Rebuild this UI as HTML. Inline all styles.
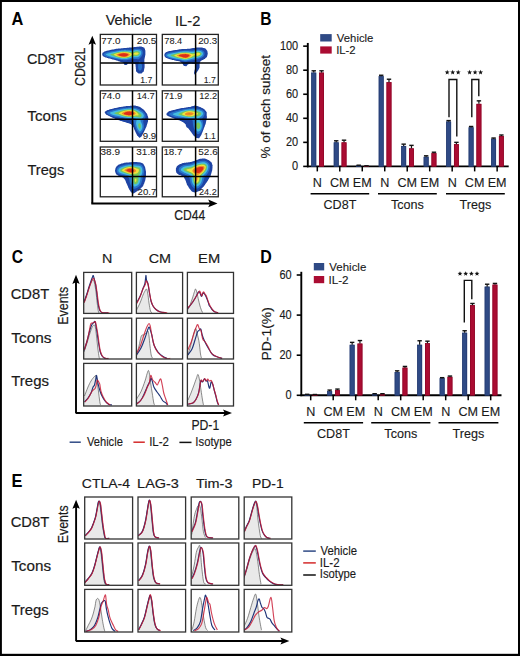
<!DOCTYPE html>
<html><head><meta charset="utf-8"><style>
html,body{margin:0;padding:0;background:#fff;overflow:hidden;}
svg{display:block;}
text{font-family:"Liberation Sans", sans-serif;}
</style></head><body>
<svg width="520" height="656" viewBox="0 0 520 656">
<rect x="0" y="0" width="520" height="656" fill="#000"/>
<rect x="1.9" y="2" width="516.1" height="651.8" fill="#fff"/>
<text x="11.49" y="24.80" font-size="17.73" font-weight="bold" fill="#000" textLength="11.84" lengthAdjust="spacingAndGlyphs">A</text>
<text x="105.64" y="25.40" font-size="15.00" font-weight="normal" fill="#1a1a1a" stroke="#1a1a1a" stroke-width="0.2" textLength="46.80" lengthAdjust="spacingAndGlyphs">Vehicle</text>
<text x="175.05" y="25.50" font-size="15.00" font-weight="normal" fill="#1a1a1a" stroke="#1a1a1a" stroke-width="0.2" textLength="25.29" lengthAdjust="spacingAndGlyphs">IL-2</text>
<text x="26.97" y="63.90" font-size="15.50" font-weight="normal" fill="#1a1a1a" stroke="#1a1a1a" stroke-width="0.2" textLength="37.46" lengthAdjust="spacingAndGlyphs">CD8T</text>
<text x="27.37" y="121.30" font-size="15.50" font-weight="normal" fill="#1a1a1a" stroke="#1a1a1a" stroke-width="0.2" textLength="39.55" lengthAdjust="spacingAndGlyphs">Tcons</text>
<text x="27.48" y="175.30" font-size="15.30" font-weight="normal" fill="#1a1a1a" stroke="#1a1a1a" stroke-width="0.2" textLength="36.84" lengthAdjust="spacingAndGlyphs">Tregs</text>
<text transform="translate(84.60,86.03) rotate(-90)" x="0" y="0" font-size="15.00" font-weight="normal" fill="#1a1a1a" stroke="#1a1a1a" stroke-width="0.2" textLength="38.54" lengthAdjust="spacingAndGlyphs">CD62L</text>
<text x="174.18" y="220.30" font-size="14.00" font-weight="normal" fill="#1a1a1a" stroke="#1a1a1a" stroke-width="0.18000000000000002" textLength="30.97" lengthAdjust="spacingAndGlyphs">CD44</text>
<line x1="92.3" y1="203.4" x2="92.3" y2="42" stroke="#000" stroke-width="2"/>
<path d="M92.3,35.8 L96,44.8 L92.3,43 L88.5,44.8 Z" fill="#000"/>
<line x1="91.3" y1="203.4" x2="211" y2="203.4" stroke="#000" stroke-width="2"/>
<path d="M217.5,203.4 L208.2,199.6 L210,203.4 L208.2,207.2 Z" fill="#000"/>
<text x="260.16" y="25.10" font-size="17.73" font-weight="bold" fill="#000" textLength="11.25" lengthAdjust="spacingAndGlyphs">B</text>
<line x1="307.8" y1="42.95" x2="307.8" y2="167.30" stroke="#000" stroke-width="1.9"/>
<line x1="303.20" y1="166.40" x2="307.8" y2="166.40" stroke="#000" stroke-width="1.6"/>
<text x="292.12" y="170.46" font-size="12.20" font-weight="normal" fill="#1a1a1a" stroke="#1a1a1a" stroke-width="0.13499999999999998" textLength="6.11" lengthAdjust="spacingAndGlyphs">0</text>
<line x1="303.20" y1="142.35" x2="307.8" y2="142.35" stroke="#000" stroke-width="1.6"/>
<text x="286.02" y="146.41" font-size="12.20" font-weight="normal" fill="#1a1a1a" stroke="#1a1a1a" stroke-width="0.13499999999999998" textLength="12.21" lengthAdjust="spacingAndGlyphs">20</text>
<line x1="303.20" y1="118.30" x2="307.8" y2="118.30" stroke="#000" stroke-width="1.6"/>
<text x="286.02" y="122.36" font-size="12.20" font-weight="normal" fill="#1a1a1a" stroke="#1a1a1a" stroke-width="0.13499999999999998" textLength="12.21" lengthAdjust="spacingAndGlyphs">40</text>
<line x1="303.20" y1="94.25" x2="307.8" y2="94.25" stroke="#000" stroke-width="1.6"/>
<text x="286.02" y="98.31" font-size="12.20" font-weight="normal" fill="#1a1a1a" stroke="#1a1a1a" stroke-width="0.13499999999999998" textLength="12.21" lengthAdjust="spacingAndGlyphs">60</text>
<line x1="303.20" y1="70.20" x2="307.8" y2="70.20" stroke="#000" stroke-width="1.6"/>
<text x="286.02" y="74.26" font-size="12.20" font-weight="normal" fill="#1a1a1a" stroke="#1a1a1a" stroke-width="0.13499999999999998" textLength="12.21" lengthAdjust="spacingAndGlyphs">80</text>
<line x1="303.20" y1="46.15" x2="307.8" y2="46.15" stroke="#000" stroke-width="1.6"/>
<text x="279.91" y="50.21" font-size="12.20" font-weight="normal" fill="#1a1a1a" stroke="#1a1a1a" stroke-width="0.13499999999999998" textLength="18.32" lengthAdjust="spacingAndGlyphs">100</text>
<line x1="306.90" y1="166.40" x2="508.7" y2="166.40" stroke="#000" stroke-width="1.9"/>
<line x1="317.30" y1="166.40" x2="317.30" y2="171.40" stroke="#000" stroke-width="1.5"/>
<line x1="339.78" y1="166.40" x2="339.78" y2="171.40" stroke="#000" stroke-width="1.5"/>
<line x1="362.26" y1="166.40" x2="362.26" y2="171.40" stroke="#000" stroke-width="1.5"/>
<line x1="384.74" y1="166.40" x2="384.74" y2="171.40" stroke="#000" stroke-width="1.5"/>
<line x1="407.22" y1="166.40" x2="407.22" y2="171.40" stroke="#000" stroke-width="1.5"/>
<line x1="429.70" y1="166.40" x2="429.70" y2="171.40" stroke="#000" stroke-width="1.5"/>
<line x1="452.18" y1="166.40" x2="452.18" y2="171.40" stroke="#000" stroke-width="1.5"/>
<line x1="474.66" y1="166.40" x2="474.66" y2="171.40" stroke="#000" stroke-width="1.5"/>
<line x1="497.14" y1="166.40" x2="497.14" y2="171.40" stroke="#000" stroke-width="1.5"/>
<rect x="311.30" y="72.61" width="4.9" height="93.79" fill="#2f4a85"/>
<rect x="311.65" y="72.96" width="4.2" height="93.44" fill="none" stroke="#233a6e" stroke-width="0.7"/>
<line x1="313.75" y1="72.61" x2="313.75" y2="70.80" stroke="#111" stroke-width="1.2"/>
<line x1="311.55" y1="70.80" x2="315.95" y2="70.80" stroke="#111" stroke-width="1.4"/>
<rect x="319.10" y="72.61" width="4.9" height="93.79" fill="#aa0c32"/>
<rect x="319.45" y="72.96" width="4.2" height="93.44" fill="none" stroke="#8a0626" stroke-width="0.7"/>
<line x1="321.55" y1="72.61" x2="321.55" y2="70.80" stroke="#111" stroke-width="1.2"/>
<line x1="319.35" y1="70.80" x2="323.75" y2="70.80" stroke="#111" stroke-width="1.4"/>
<rect x="333.78" y="142.35" width="4.9" height="24.05" fill="#2f4a85"/>
<rect x="334.13" y="142.70" width="4.2" height="23.70" fill="none" stroke="#233a6e" stroke-width="0.7"/>
<line x1="336.23" y1="142.35" x2="336.23" y2="140.79" stroke="#111" stroke-width="1.2"/>
<line x1="334.03" y1="140.79" x2="338.43" y2="140.79" stroke="#111" stroke-width="1.4"/>
<rect x="341.58" y="142.35" width="4.9" height="24.05" fill="#aa0c32"/>
<rect x="341.93" y="142.70" width="4.2" height="23.70" fill="none" stroke="#8a0626" stroke-width="0.7"/>
<line x1="344.03" y1="142.35" x2="344.03" y2="140.19" stroke="#111" stroke-width="1.2"/>
<line x1="341.83" y1="140.19" x2="346.23" y2="140.19" stroke="#111" stroke-width="1.4"/>
<rect x="356.26" y="165.44" width="4.9" height="0.96" fill="#2f4a85"/>
<rect x="356.61" y="165.79" width="4.2" height="0.61" fill="none" stroke="#233a6e" stroke-width="0.7"/>
<line x1="358.71" y1="165.44" x2="358.71" y2="165.20" stroke="#111" stroke-width="1.2"/>
<line x1="356.51" y1="165.20" x2="360.91" y2="165.20" stroke="#111" stroke-width="1.4"/>
<rect x="364.06" y="165.92" width="4.9" height="0.48" fill="#aa0c32"/>
<rect x="364.41" y="166.27" width="4.2" height="0.13" fill="none" stroke="#8a0626" stroke-width="0.7"/>
<line x1="366.51" y1="165.92" x2="366.51" y2="165.80" stroke="#111" stroke-width="1.2"/>
<line x1="364.31" y1="165.80" x2="368.71" y2="165.80" stroke="#111" stroke-width="1.4"/>
<rect x="378.74" y="76.21" width="4.9" height="90.19" fill="#2f4a85"/>
<rect x="379.09" y="76.56" width="4.2" height="89.84" fill="none" stroke="#233a6e" stroke-width="0.7"/>
<line x1="381.19" y1="76.21" x2="381.19" y2="75.25" stroke="#111" stroke-width="1.2"/>
<line x1="378.99" y1="75.25" x2="383.39" y2="75.25" stroke="#111" stroke-width="1.4"/>
<rect x="386.54" y="82.23" width="4.9" height="84.17" fill="#aa0c32"/>
<rect x="386.89" y="82.58" width="4.2" height="83.83" fill="none" stroke="#8a0626" stroke-width="0.7"/>
<line x1="388.99" y1="82.23" x2="388.99" y2="79.22" stroke="#111" stroke-width="1.2"/>
<line x1="386.79" y1="79.22" x2="391.19" y2="79.22" stroke="#111" stroke-width="1.4"/>
<rect x="401.22" y="145.96" width="4.9" height="20.44" fill="#2f4a85"/>
<rect x="401.57" y="146.31" width="4.2" height="20.09" fill="none" stroke="#233a6e" stroke-width="0.7"/>
<line x1="403.67" y1="145.96" x2="403.67" y2="144.15" stroke="#111" stroke-width="1.2"/>
<line x1="401.47" y1="144.15" x2="405.87" y2="144.15" stroke="#111" stroke-width="1.4"/>
<rect x="409.02" y="148.36" width="4.9" height="18.04" fill="#aa0c32"/>
<rect x="409.37" y="148.71" width="4.2" height="17.69" fill="none" stroke="#8a0626" stroke-width="0.7"/>
<line x1="411.47" y1="148.36" x2="411.47" y2="145.36" stroke="#111" stroke-width="1.2"/>
<line x1="409.27" y1="145.36" x2="413.67" y2="145.36" stroke="#111" stroke-width="1.4"/>
<rect x="423.70" y="156.78" width="4.9" height="9.62" fill="#2f4a85"/>
<rect x="424.05" y="157.13" width="4.2" height="9.27" fill="none" stroke="#233a6e" stroke-width="0.7"/>
<line x1="426.15" y1="156.78" x2="426.15" y2="155.82" stroke="#111" stroke-width="1.2"/>
<line x1="423.95" y1="155.82" x2="428.35" y2="155.82" stroke="#111" stroke-width="1.4"/>
<rect x="431.50" y="153.17" width="4.9" height="13.23" fill="#aa0c32"/>
<rect x="431.85" y="153.52" width="4.2" height="12.88" fill="none" stroke="#8a0626" stroke-width="0.7"/>
<line x1="433.95" y1="153.17" x2="433.95" y2="152.21" stroke="#111" stroke-width="1.2"/>
<line x1="431.75" y1="152.21" x2="436.15" y2="152.21" stroke="#111" stroke-width="1.4"/>
<rect x="446.18" y="121.55" width="4.9" height="44.85" fill="#2f4a85"/>
<rect x="446.53" y="121.90" width="4.2" height="44.50" fill="none" stroke="#233a6e" stroke-width="0.7"/>
<line x1="448.63" y1="121.55" x2="448.63" y2="120.58" stroke="#111" stroke-width="1.2"/>
<line x1="446.43" y1="120.58" x2="450.83" y2="120.58" stroke="#111" stroke-width="1.4"/>
<rect x="453.98" y="144.15" width="4.9" height="22.25" fill="#aa0c32"/>
<rect x="454.33" y="144.50" width="4.2" height="21.90" fill="none" stroke="#8a0626" stroke-width="0.7"/>
<line x1="456.43" y1="144.15" x2="456.43" y2="142.35" stroke="#111" stroke-width="1.2"/>
<line x1="454.23" y1="142.35" x2="458.63" y2="142.35" stroke="#111" stroke-width="1.4"/>
<rect x="468.66" y="127.32" width="4.9" height="39.08" fill="#2f4a85"/>
<rect x="469.01" y="127.67" width="4.2" height="38.73" fill="none" stroke="#233a6e" stroke-width="0.7"/>
<line x1="471.11" y1="127.32" x2="471.11" y2="126.48" stroke="#111" stroke-width="1.2"/>
<line x1="468.91" y1="126.48" x2="473.31" y2="126.48" stroke="#111" stroke-width="1.4"/>
<rect x="476.46" y="103.87" width="4.9" height="62.53" fill="#aa0c32"/>
<rect x="476.81" y="104.22" width="4.2" height="62.18" fill="none" stroke="#8a0626" stroke-width="0.7"/>
<line x1="478.91" y1="103.87" x2="478.91" y2="100.86" stroke="#111" stroke-width="1.2"/>
<line x1="476.71" y1="100.86" x2="481.11" y2="100.86" stroke="#111" stroke-width="1.4"/>
<rect x="491.14" y="138.74" width="4.9" height="27.66" fill="#2f4a85"/>
<rect x="491.49" y="139.09" width="4.2" height="27.31" fill="none" stroke="#233a6e" stroke-width="0.7"/>
<line x1="493.59" y1="138.74" x2="493.59" y2="138.02" stroke="#111" stroke-width="1.2"/>
<line x1="491.39" y1="138.02" x2="495.79" y2="138.02" stroke="#111" stroke-width="1.4"/>
<rect x="498.94" y="135.98" width="4.9" height="30.42" fill="#aa0c32"/>
<rect x="499.29" y="136.33" width="4.2" height="30.07" fill="none" stroke="#8a0626" stroke-width="0.7"/>
<line x1="501.39" y1="135.98" x2="501.39" y2="135.01" stroke="#111" stroke-width="1.2"/>
<line x1="499.19" y1="135.01" x2="503.59" y2="135.01" stroke="#111" stroke-width="1.4"/>
<text x="317.30" y="186.60" font-size="12.6" fill="#1a1a1a" stroke="#1a1a1a" stroke-width="0.12" text-anchor="middle">N</text>
<text x="339.78" y="186.60" font-size="12.6" fill="#1a1a1a" stroke="#1a1a1a" stroke-width="0.12" text-anchor="middle">CM</text>
<text x="362.26" y="186.60" font-size="12.6" fill="#1a1a1a" stroke="#1a1a1a" stroke-width="0.12" text-anchor="middle">EM</text>
<text x="384.74" y="186.60" font-size="12.6" fill="#1a1a1a" stroke="#1a1a1a" stroke-width="0.12" text-anchor="middle">N</text>
<text x="407.22" y="186.60" font-size="12.6" fill="#1a1a1a" stroke="#1a1a1a" stroke-width="0.12" text-anchor="middle">CM</text>
<text x="429.70" y="186.60" font-size="12.6" fill="#1a1a1a" stroke="#1a1a1a" stroke-width="0.12" text-anchor="middle">EM</text>
<text x="452.18" y="186.60" font-size="12.6" fill="#1a1a1a" stroke="#1a1a1a" stroke-width="0.12" text-anchor="middle">N</text>
<text x="474.66" y="186.60" font-size="12.6" fill="#1a1a1a" stroke="#1a1a1a" stroke-width="0.12" text-anchor="middle">CM</text>
<text x="497.14" y="186.60" font-size="12.6" fill="#1a1a1a" stroke="#1a1a1a" stroke-width="0.12" text-anchor="middle">EM</text>
<line x1="310.6" y1="193.8" x2="369.2" y2="193.8" stroke="#000" stroke-width="1.5"/>
<text x="339.90" y="209.20" font-size="12.6" fill="#1a1a1a" stroke="#1a1a1a" stroke-width="0.12" text-anchor="middle">CD8T</text>
<line x1="378" y1="193.8" x2="436.8" y2="193.8" stroke="#000" stroke-width="1.5"/>
<text x="407.40" y="209.20" font-size="12.6" fill="#1a1a1a" stroke="#1a1a1a" stroke-width="0.12" text-anchor="middle">Tcons</text>
<line x1="446" y1="193.8" x2="504.8" y2="193.8" stroke="#000" stroke-width="1.5"/>
<text x="475.40" y="209.20" font-size="12.6" fill="#1a1a1a" stroke="#1a1a1a" stroke-width="0.12" text-anchor="middle">Tregs</text>
<text transform="translate(270.40,158.48) rotate(-90)" x="0" y="0" font-size="13.60" font-weight="normal" fill="#1a1a1a" stroke="#1a1a1a" stroke-width="0.17" textLength="103.38" lengthAdjust="spacingAndGlyphs">% of each subset</text>
<rect x="320.2" y="34.1" width="11.5" height="7.4" fill="#2f4a85"/>
<rect x="320.2" y="46.4" width="11.5" height="7.2" fill="#aa0c32"/>
<text x="336.85" y="41.70" font-size="11.80" font-weight="normal" fill="#1a1a1a" stroke="#1a1a1a" stroke-width="0.12500000000000003" textLength="36.54" lengthAdjust="spacingAndGlyphs">Vehicle</text>
<text x="336.15" y="53.80" font-size="11.80" font-weight="normal" fill="#1a1a1a" stroke="#1a1a1a" stroke-width="0.12500000000000003" textLength="19.51" lengthAdjust="spacingAndGlyphs">IL-2</text>
<path d="M449,117.2 V79.5 H456.8 V136.5" fill="none" stroke="#111" stroke-width="1.4"/>
<path d="M471.8,117.2 V79.5 H478.8 V96.2" fill="none" stroke="#111" stroke-width="1.4"/>
<polygon points="447.20,69.85 447.85,71.51 449.63,71.61 448.25,72.74 448.70,74.46 447.20,73.50 445.70,74.46 446.15,72.74 444.77,71.61 446.55,71.51" fill="#111"/>
<polygon points="452.70,69.85 453.35,71.51 455.13,71.61 453.75,72.74 454.20,74.46 452.70,73.50 451.20,74.46 451.65,72.74 450.27,71.61 452.05,71.51" fill="#111"/>
<polygon points="458.20,69.85 458.85,71.51 460.63,71.61 459.25,72.74 459.70,74.46 458.20,73.50 456.70,74.46 457.15,72.74 455.77,71.61 457.55,71.51" fill="#111"/>
<polygon points="469.60,69.85 470.25,71.51 472.03,71.61 470.65,72.74 471.10,74.46 469.60,73.50 468.10,74.46 468.55,72.74 467.17,71.61 468.95,71.51" fill="#111"/>
<polygon points="475.10,69.85 475.75,71.51 477.53,71.61 476.15,72.74 476.60,74.46 475.10,73.50 473.60,74.46 474.05,72.74 472.67,71.61 474.45,71.51" fill="#111"/>
<polygon points="480.60,69.85 481.25,71.51 483.03,71.61 481.65,72.74 482.10,74.46 480.60,73.50 479.10,74.46 479.55,72.74 478.17,71.61 479.95,71.51" fill="#111"/>
<text x="11.75" y="262.90" font-size="18.62" font-weight="bold" fill="#000" textLength="11.38" lengthAdjust="spacingAndGlyphs">C</text>
<text x="102.13" y="263.20" font-size="13.30" font-weight="normal" fill="#1a1a1a" stroke="#1a1a1a" stroke-width="0.1625" textLength="10.34" lengthAdjust="spacingAndGlyphs">N</text>
<text x="148.67" y="263.20" font-size="13.30" font-weight="normal" fill="#1a1a1a" stroke="#1a1a1a" stroke-width="0.1625" textLength="22.41" lengthAdjust="spacingAndGlyphs">CM</text>
<text x="198.10" y="263.20" font-size="13.30" font-weight="normal" fill="#1a1a1a" stroke="#1a1a1a" stroke-width="0.1625" textLength="22.01" lengthAdjust="spacingAndGlyphs">EM</text>
<text x="10.75" y="298.90" font-size="14.90" font-weight="normal" fill="#1a1a1a" stroke="#1a1a1a" stroke-width="0.2" textLength="38.38" lengthAdjust="spacingAndGlyphs">CD8T</text>
<text x="11.27" y="342.50" font-size="14.90" font-weight="normal" fill="#1a1a1a" stroke="#1a1a1a" stroke-width="0.2" textLength="40.16" lengthAdjust="spacingAndGlyphs">Tcons</text>
<text x="11.27" y="386.40" font-size="14.90" font-weight="normal" fill="#1a1a1a" stroke="#1a1a1a" stroke-width="0.2" textLength="37.66" lengthAdjust="spacingAndGlyphs">Tregs</text>
<text transform="translate(68.30,324.72) rotate(-90)" x="0" y="0" font-size="15.20" font-weight="normal" fill="#1a1a1a" stroke="#1a1a1a" stroke-width="0.2" textLength="37.97" lengthAdjust="spacingAndGlyphs">Events</text>
<line x1="76.0" y1="413" x2="76.0" y2="281" stroke="#000" stroke-width="1.9"/>
<path d="M76.0,274.8 L79.7,284 L76.0,282.3 L72.3,284 Z" fill="#000"/>
<line x1="75.6" y1="413" x2="226" y2="413" stroke="#000" stroke-width="1.9"/>
<path d="M232,413 L223,409.4 L224.8,413 L223,416.6 Z" fill="#000"/>
<text x="191.40" y="430.40" font-size="14.00" font-weight="normal" fill="#1a1a1a" stroke="#1a1a1a" stroke-width="0.18000000000000002" textLength="27.80" lengthAdjust="spacingAndGlyphs">PD-1</text>
<line x1="69.6" y1="442.2" x2="80.8" y2="442.2" stroke="#2f4a85" stroke-width="1.5"/>
<text x="86.95" y="446.20" font-size="12.20" font-weight="normal" fill="#1a1a1a" stroke="#1a1a1a" stroke-width="0.13499999999999998" textLength="35.93" lengthAdjust="spacingAndGlyphs">Vehicle</text>
<line x1="133.4" y1="442.2" x2="144.8" y2="442.2" stroke="#d42a2a" stroke-width="1.5"/>
<text x="149.14" y="446.20" font-size="12.20" font-weight="normal" fill="#1a1a1a" stroke="#1a1a1a" stroke-width="0.13499999999999998" textLength="19.84" lengthAdjust="spacingAndGlyphs">IL-2</text>
<line x1="179.4" y1="442.4" x2="191.5" y2="442.4" stroke="#111" stroke-width="1.5"/>
<text x="195.36" y="446.20" font-size="12.20" font-weight="normal" fill="#1a1a1a" stroke="#1a1a1a" stroke-width="0.13499999999999998" textLength="36.34" lengthAdjust="spacingAndGlyphs">Isotype</text>
<text x="260.23" y="262.50" font-size="17.88" font-weight="bold" fill="#000" textLength="11.54" lengthAdjust="spacingAndGlyphs">D</text>
<line x1="301.3" y1="271.80" x2="301.3" y2="396.20" stroke="#000" stroke-width="1.9"/>
<line x1="296.70" y1="395.30" x2="301.3" y2="395.30" stroke="#000" stroke-width="1.6"/>
<text x="285.62" y="399.36" font-size="12.20" font-weight="normal" fill="#1a1a1a" stroke="#1a1a1a" stroke-width="0.13499999999999998" textLength="6.11" lengthAdjust="spacingAndGlyphs">0</text>
<line x1="296.70" y1="355.20" x2="301.3" y2="355.20" stroke="#000" stroke-width="1.6"/>
<text x="279.52" y="359.26" font-size="12.20" font-weight="normal" fill="#1a1a1a" stroke="#1a1a1a" stroke-width="0.13499999999999998" textLength="12.21" lengthAdjust="spacingAndGlyphs">20</text>
<line x1="296.70" y1="315.10" x2="301.3" y2="315.10" stroke="#000" stroke-width="1.6"/>
<text x="279.52" y="319.16" font-size="12.20" font-weight="normal" fill="#1a1a1a" stroke="#1a1a1a" stroke-width="0.13499999999999998" textLength="12.21" lengthAdjust="spacingAndGlyphs">40</text>
<line x1="296.70" y1="275.00" x2="301.3" y2="275.00" stroke="#000" stroke-width="1.6"/>
<text x="279.52" y="279.06" font-size="12.20" font-weight="normal" fill="#1a1a1a" stroke="#1a1a1a" stroke-width="0.13499999999999998" textLength="12.21" lengthAdjust="spacingAndGlyphs">60</text>
<line x1="300.40" y1="395.30" x2="501.5" y2="395.30" stroke="#000" stroke-width="1.9"/>
<line x1="310.70" y1="395.30" x2="310.70" y2="400.30" stroke="#000" stroke-width="1.5"/>
<line x1="333.20" y1="395.30" x2="333.20" y2="400.30" stroke="#000" stroke-width="1.5"/>
<line x1="355.70" y1="395.30" x2="355.70" y2="400.30" stroke="#000" stroke-width="1.5"/>
<line x1="378.20" y1="395.30" x2="378.20" y2="400.30" stroke="#000" stroke-width="1.5"/>
<line x1="400.70" y1="395.30" x2="400.70" y2="400.30" stroke="#000" stroke-width="1.5"/>
<line x1="423.20" y1="395.30" x2="423.20" y2="400.30" stroke="#000" stroke-width="1.5"/>
<line x1="445.70" y1="395.30" x2="445.70" y2="400.30" stroke="#000" stroke-width="1.5"/>
<line x1="468.20" y1="395.30" x2="468.20" y2="400.30" stroke="#000" stroke-width="1.5"/>
<line x1="490.70" y1="395.30" x2="490.70" y2="400.30" stroke="#000" stroke-width="1.5"/>
<rect x="304.70" y="394.50" width="4.9" height="0.80" fill="#2f4a85"/>
<rect x="305.05" y="394.85" width="4.2" height="0.45" fill="none" stroke="#233a6e" stroke-width="0.7"/>
<line x1="307.15" y1="394.50" x2="307.15" y2="394.30" stroke="#111" stroke-width="1.2"/>
<line x1="304.95" y1="394.30" x2="309.35" y2="394.30" stroke="#111" stroke-width="1.4"/>
<rect x="312.50" y="394.70" width="4.9" height="0.60" fill="#aa0c32"/>
<rect x="312.85" y="395.05" width="4.2" height="0.25" fill="none" stroke="#8a0626" stroke-width="0.7"/>
<line x1="314.95" y1="394.70" x2="314.95" y2="394.50" stroke="#111" stroke-width="1.2"/>
<line x1="312.75" y1="394.50" x2="317.15" y2="394.50" stroke="#111" stroke-width="1.4"/>
<rect x="327.20" y="391.29" width="4.9" height="4.01" fill="#2f4a85"/>
<rect x="327.55" y="391.64" width="4.2" height="3.66" fill="none" stroke="#233a6e" stroke-width="0.7"/>
<line x1="329.65" y1="391.29" x2="329.65" y2="390.09" stroke="#111" stroke-width="1.2"/>
<line x1="327.45" y1="390.09" x2="331.85" y2="390.09" stroke="#111" stroke-width="1.4"/>
<rect x="335.00" y="390.09" width="4.9" height="5.21" fill="#aa0c32"/>
<rect x="335.35" y="390.44" width="4.2" height="4.86" fill="none" stroke="#8a0626" stroke-width="0.7"/>
<line x1="337.45" y1="390.09" x2="337.45" y2="389.08" stroke="#111" stroke-width="1.2"/>
<line x1="335.25" y1="389.08" x2="339.65" y2="389.08" stroke="#111" stroke-width="1.4"/>
<rect x="349.70" y="344.77" width="4.9" height="50.53" fill="#2f4a85"/>
<rect x="350.05" y="345.12" width="4.2" height="50.18" fill="none" stroke="#233a6e" stroke-width="0.7"/>
<line x1="352.15" y1="344.77" x2="352.15" y2="342.37" stroke="#111" stroke-width="1.2"/>
<line x1="349.95" y1="342.37" x2="354.35" y2="342.37" stroke="#111" stroke-width="1.4"/>
<rect x="357.50" y="343.57" width="4.9" height="51.73" fill="#aa0c32"/>
<rect x="357.85" y="343.92" width="4.2" height="51.38" fill="none" stroke="#8a0626" stroke-width="0.7"/>
<line x1="359.95" y1="343.57" x2="359.95" y2="340.56" stroke="#111" stroke-width="1.2"/>
<line x1="357.75" y1="340.56" x2="362.15" y2="340.56" stroke="#111" stroke-width="1.4"/>
<rect x="372.20" y="393.90" width="4.9" height="1.40" fill="#2f4a85"/>
<rect x="372.55" y="394.25" width="4.2" height="1.05" fill="none" stroke="#233a6e" stroke-width="0.7"/>
<line x1="374.65" y1="393.90" x2="374.65" y2="393.70" stroke="#111" stroke-width="1.2"/>
<line x1="372.45" y1="393.70" x2="376.85" y2="393.70" stroke="#111" stroke-width="1.4"/>
<rect x="380.00" y="393.90" width="4.9" height="1.40" fill="#aa0c32"/>
<rect x="380.35" y="394.25" width="4.2" height="1.05" fill="none" stroke="#8a0626" stroke-width="0.7"/>
<line x1="382.45" y1="393.90" x2="382.45" y2="393.70" stroke="#111" stroke-width="1.2"/>
<line x1="380.25" y1="393.70" x2="384.65" y2="393.70" stroke="#111" stroke-width="1.4"/>
<rect x="394.70" y="372.04" width="4.9" height="23.26" fill="#2f4a85"/>
<rect x="395.05" y="372.39" width="4.2" height="22.91" fill="none" stroke="#233a6e" stroke-width="0.7"/>
<line x1="397.15" y1="372.04" x2="397.15" y2="370.84" stroke="#111" stroke-width="1.2"/>
<line x1="394.95" y1="370.84" x2="399.35" y2="370.84" stroke="#111" stroke-width="1.4"/>
<rect x="402.50" y="367.63" width="4.9" height="27.67" fill="#aa0c32"/>
<rect x="402.85" y="367.98" width="4.2" height="27.32" fill="none" stroke="#8a0626" stroke-width="0.7"/>
<line x1="404.95" y1="367.63" x2="404.95" y2="366.43" stroke="#111" stroke-width="1.2"/>
<line x1="402.75" y1="366.43" x2="407.15" y2="366.43" stroke="#111" stroke-width="1.4"/>
<rect x="417.20" y="344.77" width="4.9" height="50.53" fill="#2f4a85"/>
<rect x="417.55" y="345.12" width="4.2" height="50.18" fill="none" stroke="#233a6e" stroke-width="0.7"/>
<line x1="419.65" y1="344.77" x2="419.65" y2="340.76" stroke="#111" stroke-width="1.2"/>
<line x1="417.45" y1="340.76" x2="421.85" y2="340.76" stroke="#111" stroke-width="1.4"/>
<rect x="425.00" y="343.17" width="4.9" height="52.13" fill="#aa0c32"/>
<rect x="425.35" y="343.52" width="4.2" height="51.78" fill="none" stroke="#8a0626" stroke-width="0.7"/>
<line x1="427.45" y1="343.17" x2="427.45" y2="341.17" stroke="#111" stroke-width="1.2"/>
<line x1="425.25" y1="341.17" x2="429.65" y2="341.17" stroke="#111" stroke-width="1.4"/>
<rect x="439.70" y="378.26" width="4.9" height="17.04" fill="#2f4a85"/>
<rect x="440.05" y="378.61" width="4.2" height="16.69" fill="none" stroke="#233a6e" stroke-width="0.7"/>
<line x1="442.15" y1="378.26" x2="442.15" y2="377.66" stroke="#111" stroke-width="1.2"/>
<line x1="439.95" y1="377.66" x2="444.35" y2="377.66" stroke="#111" stroke-width="1.4"/>
<rect x="447.50" y="376.85" width="4.9" height="18.45" fill="#aa0c32"/>
<rect x="447.85" y="377.20" width="4.2" height="18.10" fill="none" stroke="#8a0626" stroke-width="0.7"/>
<line x1="449.95" y1="376.85" x2="449.95" y2="376.05" stroke="#111" stroke-width="1.2"/>
<line x1="447.75" y1="376.05" x2="452.15" y2="376.05" stroke="#111" stroke-width="1.4"/>
<rect x="462.20" y="332.74" width="4.9" height="62.56" fill="#2f4a85"/>
<rect x="462.55" y="333.09" width="4.2" height="62.21" fill="none" stroke="#233a6e" stroke-width="0.7"/>
<line x1="464.65" y1="332.74" x2="464.65" y2="330.74" stroke="#111" stroke-width="1.2"/>
<line x1="462.45" y1="330.74" x2="466.85" y2="330.74" stroke="#111" stroke-width="1.4"/>
<rect x="470.00" y="305.08" width="4.9" height="90.22" fill="#aa0c32"/>
<rect x="470.35" y="305.43" width="4.2" height="89.88" fill="none" stroke="#8a0626" stroke-width="0.7"/>
<line x1="472.45" y1="305.08" x2="472.45" y2="303.47" stroke="#111" stroke-width="1.2"/>
<line x1="470.25" y1="303.47" x2="474.65" y2="303.47" stroke="#111" stroke-width="1.4"/>
<rect x="484.70" y="286.63" width="4.9" height="108.67" fill="#2f4a85"/>
<rect x="485.05" y="286.98" width="4.2" height="108.32" fill="none" stroke="#233a6e" stroke-width="0.7"/>
<line x1="487.15" y1="286.63" x2="487.15" y2="284.22" stroke="#111" stroke-width="1.2"/>
<line x1="484.95" y1="284.22" x2="489.35" y2="284.22" stroke="#111" stroke-width="1.4"/>
<rect x="492.50" y="284.62" width="4.9" height="110.68" fill="#aa0c32"/>
<rect x="492.85" y="284.97" width="4.2" height="110.33" fill="none" stroke="#8a0626" stroke-width="0.7"/>
<line x1="494.95" y1="284.62" x2="494.95" y2="283.42" stroke="#111" stroke-width="1.2"/>
<line x1="492.75" y1="283.42" x2="497.15" y2="283.42" stroke="#111" stroke-width="1.4"/>
<text x="310.70" y="415.80" font-size="12.6" fill="#1a1a1a" stroke="#1a1a1a" stroke-width="0.12" text-anchor="middle">N</text>
<text x="333.20" y="415.80" font-size="12.6" fill="#1a1a1a" stroke="#1a1a1a" stroke-width="0.12" text-anchor="middle">CM</text>
<text x="355.70" y="415.80" font-size="12.6" fill="#1a1a1a" stroke="#1a1a1a" stroke-width="0.12" text-anchor="middle">EM</text>
<text x="378.20" y="415.80" font-size="12.6" fill="#1a1a1a" stroke="#1a1a1a" stroke-width="0.12" text-anchor="middle">N</text>
<text x="400.70" y="415.80" font-size="12.6" fill="#1a1a1a" stroke="#1a1a1a" stroke-width="0.12" text-anchor="middle">CM</text>
<text x="423.20" y="415.80" font-size="12.6" fill="#1a1a1a" stroke="#1a1a1a" stroke-width="0.12" text-anchor="middle">EM</text>
<text x="445.70" y="415.80" font-size="12.6" fill="#1a1a1a" stroke="#1a1a1a" stroke-width="0.12" text-anchor="middle">N</text>
<text x="468.20" y="415.80" font-size="12.6" fill="#1a1a1a" stroke="#1a1a1a" stroke-width="0.12" text-anchor="middle">CM</text>
<text x="490.70" y="415.80" font-size="12.6" fill="#1a1a1a" stroke="#1a1a1a" stroke-width="0.12" text-anchor="middle">EM</text>
<line x1="303.8" y1="422.8" x2="363.1" y2="422.8" stroke="#000" stroke-width="1.5"/>
<text x="333.45" y="438.40" font-size="12.6" fill="#1a1a1a" stroke="#1a1a1a" stroke-width="0.12" text-anchor="middle">CD8T</text>
<line x1="371.2" y1="422.8" x2="430.4" y2="422.8" stroke="#000" stroke-width="1.5"/>
<text x="400.80" y="438.40" font-size="12.6" fill="#1a1a1a" stroke="#1a1a1a" stroke-width="0.12" text-anchor="middle">Tcons</text>
<line x1="438.5" y1="422.8" x2="498.4" y2="422.8" stroke="#000" stroke-width="1.5"/>
<text x="468.45" y="438.40" font-size="12.6" fill="#1a1a1a" stroke="#1a1a1a" stroke-width="0.12" text-anchor="middle">Tregs</text>
<text transform="translate(271.00,360.44) rotate(-90)" x="0" y="0" font-size="13.60" font-weight="normal" fill="#1a1a1a" stroke="#1a1a1a" stroke-width="0.17" textLength="53.30" lengthAdjust="spacingAndGlyphs">PD-1(%)</text>
<rect x="313.8" y="263.0" width="10.4" height="7.4" fill="#2f4a85"/>
<rect x="313.8" y="276.0" width="10.4" height="7.2" fill="#aa0c32"/>
<text x="329.35" y="270.80" font-size="11.80" font-weight="normal" fill="#1a1a1a" stroke="#1a1a1a" stroke-width="0.12500000000000003" textLength="36.95" lengthAdjust="spacingAndGlyphs">Vehicle</text>
<text x="328.53" y="283.50" font-size="11.80" font-weight="normal" fill="#1a1a1a" stroke="#1a1a1a" stroke-width="0.12500000000000003" textLength="20.06" lengthAdjust="spacingAndGlyphs">IL-2</text>
<path d="M464.3,322.4 V280.4 H471.8 V299.2" fill="none" stroke="#111" stroke-width="1.4"/>
<polygon points="460.00,271.15 460.65,272.81 462.43,272.91 461.05,274.04 461.50,275.76 460.00,274.80 458.50,275.76 458.95,274.04 457.57,272.91 459.35,272.81" fill="#111"/>
<polygon points="465.70,271.15 466.35,272.81 468.13,272.91 466.75,274.04 467.20,275.76 465.70,274.80 464.20,275.76 464.65,274.04 463.27,272.91 465.05,272.81" fill="#111"/>
<polygon points="471.40,271.15 472.05,272.81 473.83,272.91 472.45,274.04 472.90,275.76 471.40,274.80 469.90,275.76 470.35,274.04 468.97,272.91 470.75,272.81" fill="#111"/>
<polygon points="477.00,271.15 477.65,272.81 479.43,272.91 478.05,274.04 478.50,275.76 477.00,274.80 475.50,275.76 475.95,274.04 474.57,272.91 476.35,272.81" fill="#111"/>
<text x="11.50" y="486.50" font-size="17.88" font-weight="bold" fill="#000" textLength="10.94" lengthAdjust="spacingAndGlyphs">E</text>
<text x="81.89" y="488.40" font-size="13.60" font-weight="normal" fill="#1a1a1a" stroke="#1a1a1a" stroke-width="0.17" textLength="48.12" lengthAdjust="spacingAndGlyphs">CTLA-4</text>
<text x="137.11" y="488.40" font-size="13.60" font-weight="normal" fill="#1a1a1a" stroke="#1a1a1a" stroke-width="0.17" textLength="41.82" lengthAdjust="spacingAndGlyphs">LAG-3</text>
<text x="196.08" y="488.40" font-size="13.60" font-weight="normal" fill="#1a1a1a" stroke="#1a1a1a" stroke-width="0.17" textLength="36.34" lengthAdjust="spacingAndGlyphs">Tim-3</text>
<text x="251.96" y="488.40" font-size="13.60" font-weight="normal" fill="#1a1a1a" stroke="#1a1a1a" stroke-width="0.17" textLength="31.72" lengthAdjust="spacingAndGlyphs">PD-1</text>
<text x="10.75" y="526.80" font-size="14.80" font-weight="normal" fill="#1a1a1a" stroke="#1a1a1a" stroke-width="0.2" textLength="38.38" lengthAdjust="spacingAndGlyphs">CD8T</text>
<text x="11.27" y="571.00" font-size="14.80" font-weight="normal" fill="#1a1a1a" stroke="#1a1a1a" stroke-width="0.2" textLength="39.76" lengthAdjust="spacingAndGlyphs">Tcons</text>
<text x="11.27" y="614.80" font-size="14.80" font-weight="normal" fill="#1a1a1a" stroke="#1a1a1a" stroke-width="0.2" textLength="37.46" lengthAdjust="spacingAndGlyphs">Tregs</text>
<text transform="translate(68.20,543.22) rotate(-90)" x="0" y="0" font-size="15.20" font-weight="normal" fill="#1a1a1a" stroke="#1a1a1a" stroke-width="0.2" textLength="37.86" lengthAdjust="spacingAndGlyphs">Events</text>
<line x1="76.1" y1="641" x2="76.1" y2="506" stroke="#000" stroke-width="1.9"/>
<path d="M76.1,499.8 L79.8,508.8 L76.1,507.2 L72.4,508.8 Z" fill="#000"/>
<line x1="75.8" y1="641" x2="283" y2="641" stroke="#000" stroke-width="1.9"/>
<path d="M289.4,641 L280.4,637.4 L282.2,641 L280.4,644.6 Z" fill="#000"/>
<line x1="303.2" y1="551.1" x2="315.8" y2="551.1" stroke="#2f4a85" stroke-width="1.5"/>
<line x1="303.2" y1="562.9" x2="315.8" y2="562.9" stroke="#d42a2a" stroke-width="1.5"/>
<line x1="303.2" y1="575.0" x2="315.8" y2="575.0" stroke="#111" stroke-width="1.5"/>
<text x="320.55" y="554.80" font-size="12.00" font-weight="normal" fill="#1a1a1a" stroke="#1a1a1a" stroke-width="0.13000000000000003" textLength="36.54" lengthAdjust="spacingAndGlyphs">Vehicle</text>
<text x="319.74" y="566.70" font-size="12.00" font-weight="normal" fill="#1a1a1a" stroke="#1a1a1a" stroke-width="0.13000000000000003" textLength="19.84" lengthAdjust="spacingAndGlyphs">IL-2</text>
<text x="319.76" y="578.20" font-size="12.00" font-weight="normal" fill="#1a1a1a" stroke="#1a1a1a" stroke-width="0.13000000000000003" textLength="36.34" lengthAdjust="spacingAndGlyphs">Isotype</text>
<path d="M141.60,73.39 L141.00,73.39 L140.40,73.39 L139.80,73.39 L139.20,73.39 L138.60,73.39 L138.20,73.19 L137.80,72.99 L137.41,72.60 L137.20,72.39 L136.81,72.00 L136.41,71.80 L136.20,71.59 L136.01,71.00 L136.01,70.40 L136.01,69.80 L136.00,69.39 L135.81,68.80 L135.81,68.20 L135.81,67.60 L135.80,67.19 L135.61,66.60 L135.61,66.00 L135.61,65.40 L135.41,65.00 L135.41,64.40 L135.40,63.99 L134.80,63.99 L134.21,63.80 L133.80,63.79 L133.21,63.60 L132.80,63.59 L132.20,63.59 L131.80,63.39 L131.20,63.39 L130.99,63.20 L130.40,63.39 L129.80,63.39 L129.20,63.39 L128.60,63.39 L128.00,63.39 L127.80,63.79 L127.59,64.00 L127.20,64.39 L126.99,64.60 L126.60,64.99 L126.00,64.99 L125.40,64.99 L124.80,64.99 L124.40,64.79 L124.20,64.39 L124.00,63.99 L123.80,63.59 L123.60,63.19 L123.40,62.79 L122.81,62.60 L122.40,62.59 L122.00,62.39 L121.60,62.19 L121.01,62.00 L120.60,61.99 L120.20,61.79 L119.80,61.59 L119.40,61.40 L118.80,61.20 L118.40,61.20 L118.00,61.00 L117.60,60.80 L117.00,60.60 L116.60,60.60 L116.20,60.40 L115.80,60.20 L115.20,60.00 L114.80,60.00 L114.40,59.80 L113.80,59.80 L113.40,59.60 L113.00,59.40 L112.40,59.40 L112.00,59.20 L111.40,59.00 L111.00,59.00 L110.60,58.80 L110.00,58.60 L109.60,58.60 L109.20,58.40 L108.60,58.40 L108.20,58.20 L107.80,58.00 L107.20,58.00 L106.80,57.80 L106.40,57.60 L105.80,57.60 L105.40,57.40 L105.00,57.20 L104.60,57.00 L104.20,56.80 L103.80,56.60 L103.40,56.40 L103.00,56.20 L102.60,55.80 L102.60,55.40 L102.40,54.80 L102.20,54.40 L102.20,53.80 L102.40,53.40 L102.60,53.00 L102.80,52.60 L103.20,52.40 L103.60,52.20 L104.00,51.80 L104.40,51.60 L104.80,51.40 L105.20,51.20 L105.60,51.20 L106.20,51.00 L106.60,50.80 L107.20,50.80 L107.60,50.60 L108.00,50.60 L108.60,50.40 L109.00,50.20 L109.60,50.20 L110.00,50.00 L110.40,50.00 L111.00,49.80 L111.60,49.80 L112.00,49.60 L112.60,49.60 L113.00,49.40 L113.60,49.40 L114.00,49.20 L114.60,49.20 L115.00,49.00 L115.60,49.00 L116.00,48.80 L116.60,48.80 L117.20,48.80 L117.60,48.80 L118.20,48.60 L118.80,48.60 L119.40,48.60 L119.80,48.40 L120.40,48.40 L121.00,48.40 L121.40,48.20 L122.00,48.20 L122.60,48.20 L123.20,48.20 L123.60,48.00 L124.20,48.00 L124.80,48.00 L125.40,48.00 L126.00,48.00 L126.40,48.00 L127.00,47.80 L127.60,47.81 L128.20,47.81 L128.80,47.81 L129.20,47.61 L129.80,47.61 L130.40,47.61 L130.80,47.41 L131.40,47.41 L132.00,47.41 L132.40,47.21 L133.00,47.21 L133.60,47.21 L134.00,47.01 L134.60,47.01 L135.20,47.01 L135.80,47.00 L136.21,47.00 L136.80,46.81 L137.40,46.81 L138.00,46.81 L138.60,46.81 L139.00,46.61 L139.60,46.61 L140.20,46.61 L140.80,46.61 L141.40,46.61 L141.80,46.81 L142.39,47.00 L142.80,47.01 L143.20,47.21 L143.60,47.41 L144.19,47.60 L144.39,48.00 L144.59,48.40 L144.79,48.80 L144.99,49.20 L145.00,49.61 L145.19,50.20 L145.39,50.60 L145.39,51.20 L145.39,51.80 L145.39,52.40 L145.39,53.00 L145.39,53.60 L145.39,54.20 L145.39,54.80 L145.19,55.20 L145.19,55.80 L144.99,56.20 L144.99,56.80 L144.79,57.20 L144.79,57.80 L144.59,58.20 L144.59,58.80 L144.39,59.20 L144.39,59.80 L144.39,60.40 L144.39,61.00 L144.39,61.60 L144.39,62.20 L144.39,62.80 L144.59,63.20 L144.59,63.80 L144.59,64.40 L144.59,65.00 L144.59,65.60 L144.59,66.20 L144.59,66.80 L144.59,67.40 L144.40,67.99 L144.39,68.40 L144.19,68.80 L144.19,69.40 L143.99,69.80 L143.99,70.40 L143.79,70.80 L143.79,71.40 L143.40,71.79 L143.19,72.00 L142.79,72.20 L142.40,72.59 L142.19,72.80 L141.80,73.19Z" fill="#1e44a4" fill-rule="evenodd"/>
<path d="M126.60,60.24 L126.20,60.35 L125.80,60.36 L125.40,60.31 L125.00,60.26 L124.60,60.22 L124.20,60.20 L124.00,60.20 L123.60,60.17 L123.20,60.15 L122.80,60.11 L122.40,60.08 L122.00,60.05 L121.67,60.00 L121.40,59.98 L121.00,59.91 L120.60,59.84 L120.32,59.80 L120.00,59.75 L119.60,59.69 L119.20,59.61 L119.00,59.59 L118.60,59.50 L118.20,59.43 L118.00,59.38 L117.60,59.30 L117.20,59.23 L117.00,59.18 L116.60,59.05 L116.40,58.99 L116.00,58.94 L115.60,58.84 L115.37,58.80 L115.00,58.75 L114.60,58.65 L114.23,58.60 L114.00,58.53 L113.60,58.45 L113.40,58.37 L113.00,58.31 L112.60,58.21 L112.40,58.16 L112.00,58.13 L111.61,58.00 L111.40,57.98 L111.00,57.88 L110.60,57.81 L110.40,57.71 L110.00,57.64 L109.73,57.60 L109.40,57.48 L109.00,57.45 L108.80,57.35 L108.40,57.27 L108.20,57.17 L107.80,57.08 L107.46,57.00 L107.20,56.90 L106.86,56.80 L106.60,56.69 L106.20,56.65 L106.00,56.54 L105.60,56.43 L105.40,56.31 L105.17,56.20 L104.82,56.00 L104.60,55.85 L104.40,55.74 L104.18,55.60 L103.88,55.40 L103.73,55.20 L103.63,54.80 L103.60,54.51 L103.56,54.20 L103.67,54.00 L103.82,53.80 L104.00,53.55 L104.30,53.40 L104.60,53.20 L104.80,53.09 L105.00,52.98 L105.39,52.80 L105.60,52.67 L105.93,52.60 L106.20,52.51 L106.60,52.41 L106.80,52.36 L107.20,52.23 L107.40,52.20 L107.80,52.09 L108.20,52.00 L108.40,51.96 L108.80,51.83 L109.05,51.80 L109.40,51.71 L109.80,51.63 L110.00,51.59 L110.40,51.47 L110.80,51.41 L111.00,51.36 L111.40,51.29 L111.80,51.25 L112.06,51.20 L112.40,51.11 L112.80,51.07 L113.15,51.00 L113.40,50.93 L113.80,50.90 L114.20,50.85 L114.40,50.80 L114.80,50.73 L115.20,50.67 L115.47,50.60 L115.80,50.55 L116.20,50.49 L116.56,50.40 L116.80,50.37 L117.20,50.34 L117.60,50.32 L118.00,50.26 L118.24,50.20 L118.60,50.14 L119.00,50.12 L119.40,50.09 L119.80,50.04 L120.00,49.99 L120.40,49.93 L120.80,49.91 L121.20,49.88 L121.60,49.81 L121.80,49.76 L122.20,49.75 L122.60,49.74 L123.00,49.72 L123.40,49.72 L123.80,49.68 L124.20,49.61 L124.60,49.61 L125.00,49.61 L125.40,49.61 L125.80,49.62 L126.20,49.63 L126.60,49.64 L127.00,49.61 L127.20,49.58 L127.60,49.59 L127.80,49.60 L128.20,49.62 L128.60,49.65 L129.00,49.67 L129.40,49.65 L129.80,49.62 L130.20,49.64 L130.60,49.64 L131.00,49.61 L131.20,49.57 L131.60,49.54 L132.00,49.51 L132.40,49.47 L132.73,49.40 L133.00,49.32 L133.40,49.25 L133.72,49.20 L134.00,49.15 L134.40,49.06 L134.60,49.00 L135.00,48.93 L135.40,48.90 L135.80,48.87 L136.20,48.85 L136.60,48.81 L136.80,48.79 L137.20,48.74 L137.60,48.76 L138.00,48.79 L138.20,48.81 L138.60,48.86 L139.00,48.91 L139.40,48.93 L139.80,49.00 L140.00,49.05 L140.40,49.17 L140.60,49.24 L140.96,49.40 L141.20,49.53 L141.40,49.66 L141.62,49.80 L141.90,50.00 L142.06,50.20 L142.20,50.46 L142.38,50.80 L142.46,51.00 L142.60,51.40 L142.64,51.60 L142.70,52.00 L142.74,52.40 L142.75,52.80 L142.74,53.20 L142.70,53.60 L142.64,54.00 L142.57,54.20 L142.43,54.60 L142.36,54.80 L142.20,55.17 L142.08,55.40 L141.98,55.60 L141.80,55.92 L141.61,56.20 L141.47,56.40 L141.33,56.60 L141.19,56.80 L141.00,57.01 L140.80,57.24 L140.60,57.46 L140.40,57.67 L140.20,57.86 L140.00,58.05 L139.80,58.23 L139.60,58.42 L139.40,58.62 L139.20,58.83 L139.00,59.05 L138.80,59.31 L138.40,59.31 L138.00,59.22 L137.80,59.18 L137.40,59.13 L137.00,59.08 L136.60,59.05 L136.20,59.03 L135.80,59.02 L135.40,59.01 L135.00,59.00 L134.60,59.00 L134.20,59.00 L133.80,59.02 L133.40,59.06 L133.00,59.08 L132.60,59.12 L132.20,59.17 L131.90,59.20 L131.60,59.24 L131.20,59.31 L130.80,59.38 L130.60,59.43 L130.20,59.53 L129.95,59.60 L129.60,59.68 L129.20,59.76 L128.93,59.80 L128.60,59.86 L128.20,59.92 L127.80,59.98 L127.60,60.02 L127.20,60.10 L126.80,60.19 L126.60,60.24ZM140.60,70.46 L140.40,70.58 L140.20,70.59 L140.00,70.60 L139.80,70.59 L139.60,70.58 L139.40,70.54 L139.20,70.42 L139.17,70.40 L139.00,70.26 L138.93,70.20 L138.80,70.07 L138.75,70.00 L138.68,69.80 L138.61,69.60 L138.60,69.56 L138.56,69.40 L138.50,69.20 L138.44,69.00 L138.40,68.89 L138.37,68.80 L138.30,68.60 L138.22,68.40 L138.20,68.22 L138.20,68.20 L138.18,68.00 L138.16,67.80 L138.14,67.60 L138.13,67.40 L138.13,67.20 L138.12,67.00 L138.11,66.80 L138.09,66.60 L138.06,66.40 L138.04,66.20 L138.06,66.00 L138.08,65.80 L138.10,65.60 L138.13,65.40 L138.17,65.20 L138.20,65.02 L138.20,65.00 L138.24,64.80 L138.26,64.60 L138.29,64.40 L138.31,64.20 L138.36,64.00 L138.40,63.88 L138.43,63.80 L138.49,63.60 L138.56,63.40 L138.60,63.27 L138.62,63.20 L138.69,63.00 L138.75,62.80 L138.80,62.66 L138.82,62.60 L138.89,62.40 L138.97,62.20 L139.00,62.11 L139.05,62.00 L139.13,61.80 L139.20,61.62 L139.21,61.60 L139.29,61.40 L139.38,61.20 L139.40,61.14 L139.50,61.20 L139.60,61.22 L139.80,61.39 L139.81,61.40 L140.00,61.58 L140.02,61.60 L140.20,61.78 L140.22,61.80 L140.40,62.00 L140.40,62.00 L140.56,62.20 L140.60,62.25 L140.71,62.40 L140.80,62.53 L140.84,62.60 L140.96,62.80 L141.00,62.86 L141.08,63.00 L141.19,63.20 L141.20,63.23 L141.29,63.40 L141.40,63.60 L141.40,63.60 L141.51,63.80 L141.60,63.96 L141.62,64.00 L141.70,64.20 L141.76,64.40 L141.80,64.54 L141.82,64.60 L141.87,64.80 L141.91,65.00 L141.95,65.20 L141.98,65.40 L142.00,65.51 L142.01,65.60 L142.04,65.80 L142.06,66.00 L142.08,66.20 L142.09,66.40 L142.10,66.60 L142.11,66.80 L142.11,67.00 L142.07,67.20 L142.03,67.40 L142.00,67.58 L142.00,67.60 L141.97,67.80 L141.91,68.00 L141.85,68.20 L141.80,68.39 L141.80,68.40 L141.75,68.60 L141.71,68.80 L141.63,69.00 L141.60,69.06 L141.54,69.20 L141.46,69.40 L141.40,69.57 L141.39,69.60 L141.27,69.80 L141.20,69.93 L141.16,70.00 L141.00,70.16 L140.94,70.20 L140.80,70.32 L140.69,70.40 L140.60,70.46Z" fill="#2874cc" fill-rule="evenodd"/>
<path d="M126.40,59.02 L126.00,59.06 L125.60,59.06 L125.20,59.06 L124.80,59.06 L124.40,59.06 L124.00,59.06 L123.60,59.05 L123.20,59.03 L122.80,59.01 L122.57,59.00 L122.20,58.98 L121.80,58.94 L121.40,58.90 L121.00,58.84 L120.66,58.80 L120.40,58.76 L120.00,58.71 L119.60,58.64 L119.32,58.60 L119.00,58.54 L118.60,58.47 L118.24,58.40 L118.00,58.35 L117.60,58.27 L117.30,58.20 L117.00,58.11 L116.60,58.01 L116.40,57.97 L116.00,57.89 L115.61,57.80 L115.40,57.77 L115.00,57.67 L114.66,57.60 L114.40,57.54 L114.00,57.44 L113.80,57.38 L113.40,57.28 L113.03,57.20 L112.80,57.14 L112.40,57.06 L112.18,57.00 L111.80,56.90 L111.40,56.81 L111.20,56.75 L110.80,56.63 L110.60,56.57 L110.20,56.48 L109.93,56.40 L109.60,56.30 L109.21,56.20 L109.00,56.12 L108.66,56.00 L108.40,55.89 L108.11,55.80 L107.80,55.69 L107.60,55.60 L107.21,55.40 L107.00,55.29 L106.80,55.20 L106.43,55.00 L106.20,54.85 L106.00,54.67 L105.80,54.40 L105.80,54.40 L106.00,54.15 L106.29,54.00 L106.60,53.88 L106.82,53.80 L107.20,53.68 L107.41,53.60 L107.80,53.49 L108.07,53.40 L108.40,53.30 L108.78,53.20 L109.00,53.13 L109.40,53.03 L109.60,52.98 L110.00,52.87 L110.30,52.80 L110.60,52.71 L111.00,52.63 L111.20,52.58 L111.60,52.50 L112.00,52.44 L112.20,52.40 L112.60,52.29 L113.00,52.23 L113.20,52.19 L113.60,52.09 L114.00,52.04 L114.22,52.00 L114.60,51.92 L115.00,51.83 L115.20,51.80 L115.60,51.71 L116.00,51.63 L116.20,51.59 L116.60,51.50 L117.00,51.43 L117.23,51.40 L117.60,51.36 L118.00,51.30 L118.40,51.22 L118.60,51.17 L119.00,51.12 L119.40,51.09 L119.80,51.04 L120.01,51.00 L120.40,50.92 L120.80,50.88 L121.20,50.85 L121.60,50.80 L121.80,50.77 L122.20,50.72 L122.60,50.70 L123.00,50.69 L123.40,50.68 L123.80,50.66 L124.20,50.62 L124.40,50.59 L124.80,50.59 L125.19,50.60 L125.40,50.61 L125.80,50.62 L126.20,50.64 L126.60,50.66 L127.00,50.66 L127.40,50.65 L127.80,50.68 L128.20,50.72 L128.60,50.76 L128.97,50.80 L129.20,50.82 L129.60,50.83 L130.00,50.84 L130.40,50.88 L130.80,50.90 L131.20,50.89 L131.60,50.85 L132.00,50.83 L132.40,50.80 L132.60,50.77 L133.00,50.68 L133.28,50.60 L133.60,50.53 L134.00,50.45 L134.21,50.40 L134.60,50.29 L134.94,50.20 L135.20,50.16 L135.60,50.11 L136.00,50.07 L136.40,50.05 L136.80,50.02 L137.06,50.00 L137.40,49.99 L137.60,50.00 L138.00,50.05 L138.40,50.13 L138.72,50.20 L139.00,50.27 L139.40,50.37 L139.60,50.43 L140.00,50.58 L140.20,50.69 L140.40,50.80 L140.67,51.00 L140.87,51.20 L141.00,51.48 L141.10,51.80 L141.17,52.20 L141.20,52.45 L141.22,52.80 L141.20,53.20 L141.18,53.40 L141.10,53.80 L141.00,54.06 L140.86,54.40 L140.77,54.60 L140.60,54.89 L140.40,55.19 L140.24,55.40 L140.08,55.60 L139.89,55.80 L139.68,56.00 L139.46,56.20 L139.22,56.40 L139.00,56.55 L138.80,56.68 L138.60,56.80 L138.24,57.00 L138.00,57.12 L137.80,57.21 L137.40,57.30 L137.00,57.33 L136.60,57.35 L136.20,57.36 L135.80,57.36 L135.40,57.36 L135.00,57.36 L134.60,57.35 L134.20,57.36 L133.80,57.39 L133.60,57.41 L133.20,57.44 L132.80,57.50 L132.40,57.56 L132.16,57.60 L131.80,57.67 L131.40,57.77 L131.20,57.82 L130.80,57.93 L130.56,58.00 L130.20,58.11 L129.91,58.20 L129.60,58.30 L129.20,58.40 L129.00,58.45 L128.60,58.54 L128.32,58.60 L128.00,58.67 L127.60,58.75 L127.36,58.80 L127.00,58.88 L126.60,58.97 L126.40,59.02Z" fill="#45bde0" fill-rule="evenodd"/>
<path d="M126.60,58.03 L126.40,58.08 L126.20,58.10 L126.00,58.11 L125.80,58.12 L125.60,58.13 L125.40,58.14 L125.20,58.14 L125.00,58.15 L124.80,58.16 L124.60,58.17 L124.40,58.17 L124.20,58.17 L124.00,58.17 L123.80,58.17 L123.60,58.16 L123.40,58.16 L123.20,58.16 L123.00,58.15 L122.80,58.14 L122.60,58.13 L122.40,58.11 L122.20,58.10 L122.00,58.08 L121.80,58.06 L121.60,58.03 L121.40,58.00 L121.37,58.00 L121.20,57.98 L121.00,57.96 L120.80,57.93 L120.60,57.90 L120.40,57.87 L120.20,57.85 L120.00,57.81 L119.94,57.80 L119.80,57.78 L119.60,57.74 L119.40,57.70 L119.20,57.66 L119.00,57.63 L118.88,57.60 L118.80,57.58 L118.60,57.54 L118.40,57.50 L118.20,57.45 L118.01,57.40 L118.00,57.40 L117.80,57.35 L117.60,57.29 L117.40,57.22 L117.32,57.20 L117.20,57.16 L117.00,57.10 L116.80,57.05 L116.60,57.00 L116.60,57.00 L116.40,56.96 L116.20,56.90 L116.00,56.84 L115.86,56.80 L115.80,56.78 L115.60,56.74 L115.40,56.67 L115.20,56.61 L115.17,56.60 L115.00,56.55 L114.80,56.50 L114.60,56.43 L114.51,56.40 L114.40,56.36 L114.20,56.28 L114.00,56.21 L113.98,56.20 L113.80,56.14 L113.60,56.07 L113.40,56.02 L113.36,56.00 L113.20,55.93 L113.00,55.86 L112.82,55.80 L112.80,55.79 L112.60,55.73 L112.40,55.64 L112.30,55.60 L112.20,55.56 L112.00,55.48 L111.80,55.41 L111.78,55.40 L111.60,55.30 L111.40,55.20 L111.39,55.20 L111.20,55.08 L111.06,55.00 L111.00,54.96 L110.80,54.84 L110.71,54.80 L110.60,54.73 L110.42,54.60 L110.40,54.58 L110.20,54.40 L110.40,54.28 L110.56,54.20 L110.60,54.19 L110.80,54.11 L111.00,54.03 L111.11,54.00 L111.20,53.98 L111.40,53.91 L111.60,53.84 L111.77,53.80 L111.80,53.79 L112.00,53.75 L112.20,53.70 L112.40,53.64 L112.54,53.60 L112.60,53.58 L112.80,53.52 L113.00,53.46 L113.20,53.42 L113.26,53.40 L113.40,53.36 L113.60,53.30 L113.80,53.24 L113.98,53.20 L114.00,53.20 L114.20,53.15 L114.40,53.11 L114.60,53.05 L114.77,53.00 L114.80,52.99 L115.00,52.93 L115.20,52.88 L115.40,52.84 L115.53,52.80 L115.60,52.78 L115.80,52.73 L116.00,52.66 L116.20,52.62 L116.29,52.60 L116.40,52.57 L116.60,52.52 L116.80,52.47 L117.00,52.41 L117.07,52.40 L117.20,52.38 L117.40,52.35 L117.60,52.32 L117.80,52.28 L118.00,52.24 L118.20,52.20 L118.21,52.20 L118.40,52.16 L118.60,52.11 L118.80,52.06 L119.00,52.03 L119.20,52.00 L119.24,52.00 L119.40,51.98 L119.60,51.95 L119.80,51.92 L120.00,51.89 L120.20,51.85 L120.40,51.81 L120.43,51.80 L120.60,51.77 L120.80,51.75 L121.00,51.73 L121.20,51.71 L121.40,51.69 L121.60,51.66 L121.80,51.63 L121.98,51.60 L122.00,51.60 L122.20,51.57 L122.40,51.56 L122.60,51.55 L122.80,51.54 L123.00,51.53 L123.20,51.53 L123.40,51.52 L123.60,51.52 L123.80,51.51 L124.00,51.49 L124.20,51.48 L124.40,51.46 L124.60,51.45 L124.80,51.45 L125.00,51.46 L125.20,51.46 L125.40,51.47 L125.60,51.48 L125.80,51.50 L126.00,51.51 L126.20,51.52 L126.40,51.54 L126.60,51.56 L126.80,51.57 L127.00,51.58 L127.20,51.59 L127.40,51.60 L127.40,51.60 L127.60,51.60 L127.80,51.63 L128.00,51.66 L128.20,51.69 L128.40,51.73 L128.60,51.76 L128.80,51.80 L128.80,51.80 L129.00,51.84 L129.20,51.87 L129.40,51.90 L129.60,51.93 L129.80,51.95 L130.00,51.97 L130.20,52.00 L130.20,52.00 L130.40,52.04 L130.60,52.08 L130.80,52.11 L131.00,52.13 L131.20,52.15 L131.40,52.16 L131.60,52.15 L131.80,52.15 L132.00,52.16 L132.20,52.16 L132.40,52.15 L132.60,52.13 L132.80,52.10 L133.00,52.05 L133.20,52.00 L133.20,52.00 L133.40,51.94 L133.60,51.87 L133.80,51.82 L133.88,51.80 L134.00,51.77 L134.20,51.71 L134.40,51.65 L134.55,51.60 L134.60,51.58 L134.80,51.52 L135.00,51.45 L135.16,51.40 L135.20,51.39 L135.40,51.35 L135.60,51.32 L135.80,51.30 L136.00,51.27 L136.20,51.26 L136.40,51.25 L136.60,51.24 L136.80,51.23 L137.00,51.22 L137.20,51.22 L137.40,51.22 L137.60,51.23 L137.80,51.27 L138.00,51.32 L138.20,51.37 L138.28,51.40 L138.40,51.44 L138.60,51.52 L138.79,51.60 L138.80,51.60 L139.00,51.70 L139.18,51.80 L139.20,51.81 L139.40,51.94 L139.49,52.00 L139.60,52.08 L139.74,52.20 L139.80,52.29 L139.83,52.40 L139.85,52.60 L139.86,52.80 L139.86,53.00 L139.84,53.20 L139.81,53.40 L139.80,53.43 L139.75,53.60 L139.68,53.80 L139.60,53.97 L139.59,54.00 L139.48,54.20 L139.40,54.34 L139.36,54.40 L139.22,54.60 L139.20,54.62 L139.05,54.80 L139.00,54.86 L138.86,55.00 L138.80,55.06 L138.65,55.20 L138.60,55.25 L138.40,55.40 L138.40,55.40 L138.20,55.54 L138.11,55.60 L138.00,55.67 L137.80,55.73 L137.60,55.78 L137.50,55.80 L137.40,55.82 L137.20,55.86 L137.00,55.89 L136.80,55.91 L136.60,55.93 L136.40,55.95 L136.20,55.96 L136.00,55.96 L135.80,55.97 L135.60,55.97 L135.40,55.97 L135.20,55.97 L135.00,55.96 L134.80,55.96 L134.60,55.96 L134.40,55.96 L134.20,55.97 L134.00,55.98 L133.80,55.99 L133.74,56.00 L133.60,56.01 L133.40,56.04 L133.20,56.07 L133.00,56.12 L132.80,56.17 L132.68,56.20 L132.60,56.22 L132.40,56.29 L132.20,56.35 L132.04,56.40 L132.00,56.41 L131.80,56.46 L131.60,56.52 L131.40,56.58 L131.34,56.60 L131.20,56.65 L131.00,56.71 L130.80,56.78 L130.75,56.80 L130.60,56.86 L130.40,56.93 L130.21,57.00 L130.20,57.00 L130.00,57.08 L129.80,57.15 L129.68,57.20 L129.60,57.23 L129.40,57.30 L129.20,57.36 L129.07,57.40 L129.00,57.42 L128.80,57.48 L128.60,57.53 L128.40,57.59 L128.35,57.60 L128.20,57.64 L128.00,57.69 L127.80,57.74 L127.60,57.79 L127.55,57.80 L127.40,57.84 L127.20,57.89 L127.00,57.94 L126.80,57.99 L126.74,58.00 L126.60,58.03Z" fill="#78c858" fill-rule="evenodd"/>
<path d="M126.40,57.43 L126.20,57.45 L126.00,57.46 L125.80,57.48 L125.60,57.49 L125.40,57.50 L125.20,57.51 L125.00,57.53 L124.80,57.54 L124.60,57.54 L124.40,57.55 L124.20,57.55 L124.00,57.55 L123.80,57.55 L123.60,57.55 L123.40,57.54 L123.20,57.54 L123.00,57.53 L122.80,57.52 L122.60,57.50 L122.40,57.49 L122.20,57.47 L122.00,57.45 L121.80,57.42 L121.65,57.40 L121.60,57.39 L121.40,57.37 L121.20,57.34 L121.00,57.32 L120.80,57.28 L120.60,57.25 L120.40,57.22 L120.29,57.20 L120.20,57.18 L120.00,57.15 L119.80,57.11 L119.60,57.06 L119.40,57.02 L119.31,57.00 L119.20,56.98 L119.00,56.92 L118.80,56.87 L118.60,56.82 L118.52,56.80 L118.40,56.76 L118.20,56.70 L118.00,56.65 L117.88,56.60 L117.80,56.57 L117.60,56.49 L117.40,56.42 L117.35,56.40 L117.20,56.34 L117.00,56.27 L116.80,56.21 L116.77,56.20 L116.60,56.15 L116.40,56.07 L116.23,56.00 L116.20,55.99 L116.00,55.91 L115.80,55.84 L115.72,55.80 L115.60,55.74 L115.40,55.65 L115.28,55.60 L115.20,55.56 L115.00,55.47 L114.87,55.40 L114.80,55.36 L114.60,55.23 L114.55,55.20 L114.40,55.09 L114.27,55.00 L114.20,54.95 L114.00,54.80 L114.00,54.80 L113.80,54.64 L113.75,54.60 L113.73,54.40 L113.80,54.37 L114.00,54.28 L114.20,54.21 L114.22,54.20 L114.40,54.14 L114.60,54.06 L114.76,54.00 L114.80,53.98 L115.00,53.90 L115.20,53.82 L115.25,53.80 L115.40,53.75 L115.60,53.69 L115.80,53.61 L115.84,53.60 L116.00,53.54 L116.20,53.46 L116.40,53.40 L116.42,53.40 L116.60,53.34 L116.80,53.28 L117.00,53.21 L117.03,53.20 L117.20,53.15 L117.40,53.11 L117.60,53.07 L117.80,53.03 L117.91,53.00 L118.00,52.98 L118.20,52.93 L118.40,52.88 L118.60,52.82 L118.68,52.80 L118.80,52.77 L119.00,52.72 L119.20,52.69 L119.40,52.66 L119.60,52.63 L119.74,52.60 L119.80,52.59 L120.00,52.55 L120.20,52.51 L120.40,52.47 L120.60,52.42 L120.74,52.40 L120.80,52.39 L121.00,52.37 L121.20,52.35 L121.40,52.32 L121.60,52.30 L121.80,52.27 L122.00,52.23 L122.19,52.20 L122.20,52.20 L122.40,52.18 L122.60,52.17 L122.80,52.16 L123.00,52.15 L123.20,52.15 L123.40,52.14 L123.60,52.14 L123.80,52.13 L124.00,52.12 L124.20,52.11 L124.40,52.10 L124.60,52.08 L124.80,52.09 L125.00,52.09 L125.20,52.11 L125.40,52.12 L125.60,52.14 L125.80,52.15 L126.00,52.17 L126.20,52.19 L126.25,52.20 L126.40,52.22 L126.60,52.24 L126.80,52.27 L127.00,52.29 L127.20,52.31 L127.40,52.33 L127.60,52.35 L127.80,52.37 L127.94,52.40 L128.00,52.41 L128.20,52.46 L128.40,52.51 L128.60,52.56 L128.73,52.60 L128.80,52.62 L129.00,52.68 L129.20,52.73 L129.40,52.79 L129.44,52.80 L129.60,52.85 L129.80,52.90 L130.00,52.96 L130.18,53.00 L130.20,53.01 L130.40,53.08 L130.60,53.16 L130.71,53.20 L130.80,53.24 L131.00,53.31 L131.20,53.39 L131.25,53.40 L131.40,53.46 L131.60,53.52 L131.80,53.57 L131.95,53.60 L132.00,53.61 L132.20,53.69 L132.40,53.76 L132.59,53.80 L132.60,53.80 L132.80,53.83 L133.00,53.81 L133.03,53.80 L133.20,53.76 L133.40,53.66 L133.49,53.60 L133.60,53.54 L133.80,53.40 L133.81,53.40 L134.00,53.32 L134.20,53.21 L134.22,53.20 L134.40,53.11 L134.58,53.00 L134.60,52.99 L134.80,52.88 L134.94,52.80 L135.00,52.77 L135.20,52.67 L135.36,52.60 L135.40,52.59 L135.60,52.54 L135.80,52.50 L136.00,52.46 L136.20,52.44 L136.40,52.43 L136.60,52.42 L136.80,52.41 L137.00,52.42 L137.20,52.43 L137.40,52.46 L137.60,52.49 L137.80,52.56 L137.89,52.60 L138.00,52.67 L138.19,52.80 L138.20,52.81 L138.39,53.00 L138.40,53.01 L138.53,53.20 L138.60,53.35 L138.62,53.40 L138.62,53.60 L138.60,53.63 L138.51,53.80 L138.40,53.99 L138.39,54.00 L138.20,54.19 L138.19,54.20 L138.00,54.31 L137.84,54.40 L137.80,54.42 L137.60,54.50 L137.40,54.57 L137.30,54.60 L137.20,54.63 L137.00,54.67 L136.80,54.70 L136.60,54.72 L136.40,54.74 L136.20,54.74 L136.00,54.74 L135.80,54.74 L135.60,54.72 L135.40,54.70 L135.20,54.68 L135.00,54.65 L134.80,54.62 L134.67,54.60 L134.60,54.59 L134.40,54.55 L134.20,54.52 L134.00,54.49 L133.80,54.46 L133.60,54.45 L133.40,54.44 L133.20,54.45 L133.00,54.48 L132.80,54.52 L132.60,54.60 L132.59,54.60 L132.40,54.68 L132.20,54.79 L132.18,54.80 L132.00,54.90 L131.86,55.00 L131.80,55.04 L131.60,55.17 L131.56,55.20 L131.40,55.31 L131.28,55.40 L131.20,55.45 L131.00,55.59 L130.99,55.60 L130.80,55.73 L130.69,55.80 L130.60,55.86 L130.40,55.99 L130.38,56.00 L130.20,56.11 L130.06,56.20 L130.00,56.23 L129.80,56.34 L129.70,56.40 L129.60,56.44 L129.40,56.53 L129.22,56.60 L129.20,56.61 L129.00,56.68 L128.80,56.75 L128.65,56.80 L128.60,56.82 L128.40,56.88 L128.20,56.94 L128.00,57.00 L128.00,57.00 L127.80,57.06 L127.60,57.11 L127.40,57.17 L127.29,57.20 L127.20,57.22 L127.00,57.28 L126.80,57.33 L126.60,57.39 L126.54,57.40 L126.40,57.43Z" fill="#f0e23c" fill-rule="evenodd"/>
<path d="M126.40,56.80 L126.20,56.82 L126.00,56.84 L125.80,56.86 L125.60,56.88 L125.40,56.90 L125.20,56.91 L125.00,56.93 L124.80,56.94 L124.60,56.94 L124.40,56.95 L124.20,56.95 L124.00,56.95 L123.80,56.95 L123.60,56.95 L123.40,56.95 L123.20,56.94 L123.00,56.93 L122.80,56.92 L122.60,56.90 L122.40,56.88 L122.20,56.85 L122.00,56.83 L121.82,56.80 L121.80,56.80 L121.60,56.77 L121.40,56.74 L121.20,56.71 L121.00,56.67 L120.80,56.64 L120.60,56.60 L120.60,56.60 L120.40,56.56 L120.20,56.51 L120.00,56.46 L119.80,56.41 L119.76,56.40 L119.60,56.36 L119.40,56.30 L119.20,56.24 L119.08,56.20 L119.00,56.17 L118.80,56.11 L118.60,56.03 L118.51,56.00 L118.40,55.96 L118.20,55.87 L118.07,55.80 L118.00,55.76 L117.80,55.66 L117.69,55.60 L117.60,55.55 L117.40,55.44 L117.32,55.40 L117.20,55.33 L117.00,55.22 L116.97,55.20 L116.80,55.09 L116.67,55.00 L116.60,54.94 L116.44,54.80 L116.40,54.76 L116.23,54.60 L116.40,54.45 L116.46,54.40 L116.60,54.34 L116.80,54.24 L116.88,54.20 L117.00,54.14 L117.20,54.05 L117.33,54.00 L117.40,53.98 L117.60,53.92 L117.80,53.86 L117.98,53.80 L118.00,53.79 L118.20,53.73 L118.40,53.66 L118.58,53.60 L118.60,53.59 L118.80,53.52 L119.00,53.46 L119.20,53.41 L119.26,53.40 L119.40,53.37 L119.60,53.33 L119.80,53.29 L120.00,53.24 L120.18,53.20 L120.20,53.20 L120.40,53.15 L120.60,53.10 L120.80,53.05 L121.00,53.02 L121.17,53.00 L121.20,53.00 L121.40,52.97 L121.60,52.94 L121.80,52.91 L122.00,52.87 L122.20,52.84 L122.40,52.81 L122.56,52.80 L122.60,52.80 L122.80,52.79 L123.00,52.78 L123.20,52.78 L123.40,52.77 L123.60,52.77 L123.80,52.77 L124.00,52.76 L124.20,52.75 L124.40,52.75 L124.60,52.74 L124.80,52.73 L125.00,52.74 L125.20,52.76 L125.40,52.78 L125.56,52.80 L125.60,52.80 L125.80,52.83 L126.00,52.86 L126.20,52.89 L126.40,52.93 L126.60,52.97 L126.79,53.00 L126.80,53.00 L127.00,53.04 L127.20,53.08 L127.40,53.12 L127.60,53.16 L127.80,53.20 L127.81,53.20 L128.00,53.26 L128.20,53.34 L128.34,53.40 L128.40,53.43 L128.60,53.52 L128.75,53.60 L128.80,53.63 L129.00,53.75 L129.09,53.80 L129.20,53.88 L129.36,54.00 L129.40,54.03 L129.58,54.20 L129.60,54.22 L129.75,54.40 L129.80,54.50 L129.86,54.60 L129.80,54.76 L129.79,54.80 L129.65,55.00 L129.60,55.05 L129.47,55.20 L129.40,55.27 L129.27,55.40 L129.20,55.46 L129.03,55.60 L129.00,55.62 L128.80,55.77 L128.76,55.80 L128.60,55.90 L128.45,56.00 L128.40,56.03 L128.20,56.14 L128.09,56.20 L128.00,56.25 L127.80,56.35 L127.69,56.40 L127.60,56.43 L127.40,56.50 L127.20,56.58 L127.14,56.60 L127.00,56.64 L126.80,56.70 L126.60,56.76 L126.41,56.80 L126.40,56.80Z" fill="#f08a24" fill-rule="evenodd"/>
<path d="M125.20,56.40 L125.00,56.41 L124.80,56.43 L124.60,56.44 L124.40,56.44 L124.20,56.45 L124.00,56.45 L123.80,56.45 L123.60,56.44 L123.40,56.43 L123.20,56.43 L123.00,56.41 L122.83,56.40 L122.80,56.40 L122.60,56.38 L122.40,56.35 L122.20,56.31 L122.00,56.28 L121.80,56.25 L121.60,56.22 L121.49,56.20 L121.40,56.18 L121.20,56.14 L121.00,56.10 L120.80,56.05 L120.60,56.00 L120.60,56.00 L120.40,55.94 L120.20,55.89 L120.00,55.82 L119.94,55.80 L119.80,55.75 L119.60,55.67 L119.42,55.60 L119.40,55.59 L119.20,55.50 L119.00,55.41 L118.99,55.40 L118.80,55.29 L118.64,55.20 L118.60,55.17 L118.40,55.01 L118.39,55.00 L118.20,54.81 L118.19,54.80 L118.20,54.71 L118.23,54.60 L118.40,54.51 L118.60,54.41 L118.61,54.40 L118.80,54.31 L119.00,54.21 L119.02,54.20 L119.20,54.14 L119.40,54.08 L119.60,54.02 L119.67,54.00 L119.80,53.96 L120.00,53.91 L120.20,53.85 L120.36,53.80 L120.40,53.79 L120.60,53.73 L120.80,53.67 L121.00,53.63 L121.18,53.60 L121.20,53.60 L121.40,53.56 L121.60,53.53 L121.80,53.50 L122.00,53.46 L122.20,53.42 L122.30,53.40 L122.40,53.38 L122.60,53.37 L122.80,53.36 L123.00,53.35 L123.20,53.35 L123.40,53.35 L123.60,53.35 L123.80,53.35 L124.00,53.34 L124.20,53.34 L124.40,53.34 L124.60,53.33 L124.80,53.33 L125.00,53.35 L125.20,53.37 L125.39,53.40 L125.40,53.40 L125.60,53.44 L125.80,53.48 L126.00,53.52 L126.20,53.57 L126.30,53.60 L126.40,53.63 L126.60,53.69 L126.80,53.76 L126.93,53.80 L127.00,53.83 L127.20,53.91 L127.40,53.99 L127.43,54.00 L127.60,54.09 L127.80,54.19 L127.81,54.20 L128.00,54.33 L128.07,54.40 L128.20,54.58 L128.21,54.60 L128.25,54.80 L128.20,54.87 L128.11,55.00 L128.00,55.12 L127.93,55.20 L127.80,55.32 L127.70,55.40 L127.60,55.48 L127.43,55.60 L127.40,55.62 L127.20,55.74 L127.11,55.80 L127.00,55.86 L126.80,55.96 L126.72,56.00 L126.60,56.05 L126.40,56.14 L126.24,56.20 L126.20,56.22 L126.00,56.28 L125.80,56.33 L125.60,56.36 L125.40,56.38 L125.21,56.40 L125.20,56.40Z" fill="#dc2e18" fill-rule="evenodd"/>
<path d="M194.60,74.69 L194.41,74.10 L194.21,73.70 L194.01,73.30 L194.01,72.70 L194.20,72.11 L194.21,71.70 L194.41,71.30 L194.41,70.70 L194.61,70.30 L194.80,69.71 L194.81,69.30 L195.01,68.90 L195.01,68.30 L195.01,67.70 L195.01,67.10 L195.01,66.50 L195.01,65.90 L195.01,65.30 L195.01,64.70 L195.01,64.10 L194.60,64.09 L194.01,63.90 L193.60,63.89 L193.00,63.89 L192.40,63.89 L192.00,63.69 L191.40,63.69 L190.80,63.69 L190.20,63.69 L189.60,63.69 L189.20,63.89 L188.80,64.09 L188.40,64.29 L188.00,64.49 L187.59,64.50 L187.39,64.90 L187.19,65.30 L186.80,65.69 L186.60,66.09 L186.20,66.29 L185.60,66.29 L185.20,66.09 L184.60,66.09 L184.00,66.09 L183.80,65.69 L183.41,65.30 L183.21,64.90 L183.01,64.50 L182.81,64.10 L182.61,63.70 L182.40,63.49 L182.01,63.10 L181.61,62.90 L181.40,62.69 L181.00,62.30 L180.80,62.10 L180.40,61.90 L180.00,61.50 L179.60,61.50 L179.20,61.30 L178.60,61.30 L178.20,61.10 L177.60,61.10 L177.20,60.90 L176.60,60.90 L176.20,60.70 L175.60,60.70 L175.20,60.50 L174.60,60.50 L174.20,60.30 L173.60,60.10 L173.20,60.10 L172.80,59.90 L172.20,59.90 L171.80,59.70 L171.20,59.50 L170.80,59.50 L170.40,59.30 L169.80,59.30 L169.40,59.10 L169.00,58.90 L168.40,58.70 L168.00,58.50 L167.60,58.50 L167.20,58.30 L166.80,58.10 L166.20,57.90 L165.80,57.70 L165.60,57.50 L165.20,57.10 L165.00,56.70 L164.80,56.50 L164.40,56.10 L164.40,55.50 L164.40,54.90 L164.40,54.30 L164.60,53.90 L164.80,53.50 L165.00,53.10 L165.40,52.70 L165.80,52.50 L166.00,52.30 L166.40,52.10 L166.80,51.90 L167.20,51.70 L167.80,51.50 L168.20,51.30 L168.80,51.30 L169.20,51.10 L169.60,51.10 L170.20,50.90 L170.60,50.90 L171.20,50.70 L171.80,50.70 L172.20,50.50 L172.80,50.50 L173.20,50.30 L173.80,50.30 L174.20,50.30 L174.80,50.10 L175.40,50.10 L175.80,49.90 L176.40,49.90 L176.80,49.90 L177.40,49.70 L178.00,49.70 L178.40,49.50 L179.00,49.50 L179.40,49.30 L180.00,49.30 L180.60,49.30 L181.20,49.30 L181.60,49.10 L182.20,49.10 L182.80,49.10 L183.40,49.10 L184.00,49.10 L184.40,48.90 L185.00,48.90 L185.60,48.90 L186.20,48.90 L186.80,48.90 L187.20,48.70 L187.80,48.70 L188.40,48.71 L189.00,48.71 L189.60,48.71 L190.01,48.70 L190.60,48.51 L191.01,48.50 L191.60,48.31 L192.20,48.31 L192.60,48.11 L193.20,48.11 L193.60,47.91 L194.20,47.91 L194.61,47.90 L195.20,47.71 L195.80,47.71 L196.20,47.51 L196.80,47.51 L197.40,47.51 L198.00,47.51 L198.60,47.51 L199.20,47.51 L199.80,47.51 L200.40,47.51 L201.00,47.51 L201.60,47.51 L202.20,47.51 L202.60,47.71 L203.19,47.90 L203.60,47.91 L204.00,48.11 L204.59,48.30 L205.00,48.31 L205.40,48.51 L205.79,48.90 L206.00,49.11 L206.20,49.51 L206.59,49.90 L206.79,50.30 L207.00,50.51 L207.39,50.90 L207.39,51.50 L207.59,51.90 L207.59,52.50 L207.59,53.10 L207.79,53.50 L207.79,54.10 L207.59,54.50 L207.40,55.09 L207.39,55.50 L207.19,55.90 L207.00,56.49 L206.99,56.90 L206.60,57.29 L206.39,57.50 L205.99,57.70 L205.60,58.09 L205.39,58.30 L205.00,58.69 L204.79,58.90 L204.39,59.10 L203.99,59.30 L203.59,59.50 L203.19,59.70 L202.79,59.90 L202.39,60.10 L201.99,60.30 L201.59,60.50 L201.19,60.70 L200.79,60.90 L200.40,61.29 L200.39,61.70 L200.19,62.10 L199.99,62.50 L199.79,62.90 L199.59,63.30 L199.59,63.90 L199.59,64.50 L199.59,65.10 L199.59,65.70 L199.59,66.30 L199.59,66.90 L199.59,67.50 L199.39,67.90 L199.19,68.30 L198.99,68.70 L198.79,69.10 L198.60,69.69 L198.40,70.09 L198.19,70.30 L197.99,70.70 L197.60,71.09 L197.40,71.49 L197.19,71.70 L196.99,72.10 L196.60,72.49 L196.39,72.70 L196.00,73.09 L195.79,73.30 L195.59,73.70 L195.20,74.09 L194.99,74.30 L194.60,74.69Z" fill="#1e44a4" fill-rule="evenodd"/>
<path d="M186.20,61.50 L185.80,61.61 L185.40,61.67 L185.00,61.58 L184.62,61.50 L184.40,61.45 L184.00,61.36 L183.78,61.30 L183.40,61.21 L183.00,61.13 L182.80,61.09 L182.40,60.96 L182.20,60.89 L181.80,60.75 L181.60,60.69 L181.20,60.58 L181.00,60.49 L180.60,60.34 L180.40,60.29 L180.00,60.22 L179.60,60.13 L179.20,60.11 L179.00,60.08 L178.60,59.98 L178.20,59.96 L177.90,59.90 L177.60,59.82 L177.20,59.80 L176.80,59.70 L176.60,59.66 L176.20,59.63 L175.80,59.53 L175.60,59.49 L175.20,59.46 L174.80,59.36 L174.46,59.30 L174.20,59.29 L173.80,59.15 L173.40,59.12 L173.20,59.04 L172.80,58.96 L172.47,58.90 L172.20,58.81 L171.80,58.78 L171.60,58.70 L171.20,58.61 L170.80,58.52 L170.60,58.46 L170.20,58.42 L169.89,58.30 L169.60,58.24 L169.25,58.10 L169.00,58.05 L168.63,57.90 L168.40,57.78 L168.20,57.70 L167.80,57.57 L167.60,57.49 L167.20,57.35 L167.00,57.27 L166.60,57.12 L166.40,57.03 L166.20,56.84 L166.01,56.50 L165.89,56.30 L165.73,56.10 L165.57,55.90 L165.43,55.50 L165.49,55.10 L165.60,54.70 L165.73,54.50 L165.88,54.30 L166.02,54.10 L166.20,53.89 L166.46,53.70 L166.79,53.50 L167.00,53.40 L167.20,53.30 L167.60,53.13 L167.80,53.05 L168.20,52.96 L168.45,52.90 L168.80,52.79 L169.20,52.72 L169.40,52.66 L169.80,52.57 L170.10,52.50 L170.40,52.41 L170.80,52.37 L171.12,52.30 L171.40,52.22 L171.80,52.19 L172.20,52.13 L172.40,52.08 L172.80,52.01 L173.20,51.97 L173.54,51.90 L173.80,51.83 L174.20,51.80 L174.60,51.75 L174.80,51.69 L175.20,51.62 L175.60,51.60 L176.00,51.54 L176.20,51.49 L176.60,51.42 L177.00,51.38 L177.40,51.30 L177.60,51.24 L178.00,51.22 L178.40,51.16 L178.65,51.10 L179.00,51.05 L179.40,51.01 L179.80,50.93 L180.00,50.88 L180.40,50.86 L180.80,50.84 L181.20,50.81 L181.60,50.79 L182.00,50.72 L182.20,50.67 L182.60,50.66 L183.00,50.64 L183.40,50.63 L183.80,50.62 L184.20,50.62 L184.60,50.59 L185.00,50.51 L185.40,50.51 L185.80,50.52 L186.20,50.52 L186.60,50.53 L187.00,50.54 L187.40,50.54 L187.72,50.50 L188.00,50.49 L188.20,50.50 L188.60,50.52 L189.00,50.55 L189.40,50.58 L189.80,50.60 L190.20,50.62 L190.60,50.61 L191.00,50.58 L191.40,50.58 L191.80,50.53 L192.20,50.51 L192.40,50.50 L192.80,50.43 L193.20,50.34 L193.52,50.30 L193.80,50.24 L194.20,50.13 L194.40,50.07 L194.80,50.00 L195.18,49.90 L195.40,49.83 L195.80,49.75 L196.11,49.70 L196.40,49.63 L196.80,49.54 L197.20,49.52 L197.60,49.50 L197.80,49.50 L198.20,49.49 L198.47,49.50 L198.80,49.51 L199.20,49.54 L199.60,49.58 L200.00,49.63 L200.38,49.70 L200.60,49.74 L201.00,49.83 L201.27,49.90 L201.60,50.02 L201.80,50.12 L202.20,50.29 L202.40,50.41 L202.60,50.52 L202.88,50.70 L203.19,50.90 L203.40,51.04 L203.60,51.18 L203.80,51.43 L203.99,51.70 L204.11,51.90 L204.22,52.10 L204.37,52.50 L204.43,52.70 L204.50,53.10 L204.54,53.50 L204.55,53.90 L204.48,54.30 L204.40,54.62 L204.32,54.90 L204.20,55.30 L204.06,55.50 L203.93,55.70 L203.78,55.90 L203.60,56.13 L203.40,56.38 L203.20,56.60 L203.00,56.77 L202.80,56.92 L202.55,57.10 L202.25,57.30 L202.00,57.45 L201.80,57.57 L201.57,57.70 L201.20,57.89 L201.00,57.99 L200.76,58.10 L200.40,58.25 L200.20,58.34 L199.80,58.49 L199.60,58.55 L199.20,58.70 L199.00,58.78 L198.70,58.90 L198.40,59.02 L198.18,59.10 L197.80,59.25 L197.60,59.33 L197.20,59.49 L197.00,59.58 L196.73,59.70 L196.40,59.86 L196.20,59.92 L195.80,59.91 L195.40,59.92 L195.00,59.93 L194.60,59.94 L194.20,59.98 L193.80,60.04 L193.43,60.10 L193.20,60.14 L192.80,60.18 L192.40,60.23 L192.00,60.29 L191.80,60.33 L191.40,60.41 L191.00,60.48 L190.80,60.52 L190.40,60.59 L190.00,60.65 L189.70,60.70 L189.40,60.75 L189.00,60.83 L188.69,60.90 L188.40,60.98 L188.00,61.09 L187.80,61.14 L187.40,61.23 L187.13,61.30 L186.80,61.38 L186.40,61.46 L186.20,61.50Z" fill="#2874cc" fill-rule="evenodd"/>
<path d="M186.00,60.31 L185.60,60.36 L185.20,60.32 L185.00,60.29 L184.60,60.24 L184.20,60.19 L183.80,60.13 L183.57,60.10 L183.20,60.02 L182.80,59.92 L182.60,59.88 L182.20,59.79 L181.84,59.70 L181.60,59.63 L181.20,59.51 L181.00,59.46 L180.60,59.38 L180.20,59.31 L180.00,59.27 L179.60,59.21 L179.20,59.16 L178.93,59.10 L178.60,59.05 L178.20,59.00 L177.80,58.90 L177.60,58.87 L177.20,58.82 L176.80,58.72 L176.60,58.69 L176.20,58.63 L175.80,58.53 L175.60,58.49 L175.20,58.43 L174.80,58.33 L174.60,58.29 L174.20,58.19 L173.80,58.11 L173.60,58.07 L173.20,57.96 L172.89,57.90 L172.60,57.82 L172.20,57.73 L172.00,57.69 L171.60,57.57 L171.27,57.50 L171.00,57.41 L170.60,57.31 L170.40,57.26 L170.00,57.13 L169.80,57.04 L169.41,56.90 L169.20,56.80 L169.00,56.69 L168.66,56.50 L168.40,56.39 L168.20,56.27 L167.88,56.10 L167.60,55.90 L167.40,55.77 L167.27,55.50 L167.20,55.19 L167.20,55.05 L167.40,54.77 L167.60,54.64 L167.86,54.50 L168.20,54.34 L168.40,54.28 L168.80,54.16 L169.00,54.09 L169.40,53.99 L169.71,53.90 L170.00,53.82 L170.40,53.72 L170.60,53.66 L171.00,53.59 L171.39,53.50 L171.60,53.44 L172.00,53.39 L172.40,53.31 L172.60,53.26 L173.00,53.18 L173.40,53.12 L173.60,53.08 L174.00,52.98 L174.40,52.93 L174.60,52.89 L175.00,52.81 L175.40,52.73 L175.64,52.70 L176.00,52.64 L176.40,52.56 L176.61,52.50 L177.00,52.45 L177.40,52.38 L177.72,52.30 L178.00,52.26 L178.40,52.20 L178.80,52.12 L179.00,52.07 L179.40,52.02 L179.80,51.96 L180.08,51.90 L180.40,51.85 L180.80,51.82 L181.20,51.79 L181.60,51.76 L182.00,51.71 L182.20,51.67 L182.60,51.62 L183.00,51.60 L183.40,51.59 L183.80,51.58 L184.20,51.57 L184.60,51.55 L185.00,51.51 L185.20,51.49 L185.60,51.49 L185.88,51.50 L186.20,51.51 L186.60,51.52 L187.00,51.54 L187.40,51.56 L187.80,51.55 L188.20,51.55 L188.60,51.59 L189.00,51.63 L189.40,51.68 L189.60,51.70 L190.00,51.75 L190.40,51.79 L190.80,51.81 L191.20,51.81 L191.60,51.83 L192.00,51.82 L192.40,51.80 L192.80,51.78 L193.20,51.71 L193.40,51.66 L193.80,51.59 L194.15,51.50 L194.40,51.42 L194.80,51.31 L195.00,51.25 L195.40,51.13 L195.60,51.07 L196.00,50.97 L196.31,50.90 L196.60,50.83 L197.00,50.74 L197.40,50.71 L197.66,50.70 L198.00,50.69 L198.32,50.70 L198.60,50.71 L199.00,50.75 L199.40,50.80 L199.80,50.88 L200.00,50.93 L200.40,51.04 L200.60,51.10 L201.00,51.25 L201.20,51.34 L201.46,51.50 L201.76,51.70 L202.00,51.88 L202.20,52.06 L202.40,52.26 L202.60,52.48 L202.77,52.70 L202.85,52.90 L202.93,53.30 L202.96,53.70 L202.91,54.10 L202.82,54.50 L202.72,54.70 L202.60,54.93 L202.40,55.25 L202.21,55.50 L202.01,55.70 L201.80,55.89 L201.60,56.06 L201.40,56.21 L201.20,56.35 L200.97,56.50 L200.63,56.70 L200.40,56.82 L200.20,56.92 L199.80,57.09 L199.60,57.17 L199.24,57.30 L199.00,57.38 L198.60,57.50 L198.40,57.56 L198.00,57.68 L197.80,57.73 L197.40,57.84 L197.16,57.90 L196.80,57.99 L196.40,58.08 L196.20,58.13 L195.80,58.24 L195.59,58.30 L195.20,58.34 L194.80,58.35 L194.40,58.39 L194.00,58.45 L193.73,58.50 L193.40,58.57 L193.00,58.64 L192.69,58.70 L192.40,58.77 L192.00,58.87 L191.80,58.92 L191.40,59.03 L191.13,59.10 L190.80,59.19 L190.40,59.28 L190.20,59.33 L189.80,59.42 L189.42,59.50 L189.20,59.55 L188.80,59.64 L188.57,59.70 L188.20,59.80 L187.81,59.90 L187.60,59.96 L187.20,60.05 L186.98,60.10 L186.60,60.19 L186.20,60.27 L186.00,60.31Z" fill="#45bde0" fill-rule="evenodd"/>
<path d="M186.40,59.32 L186.20,59.37 L186.00,59.41 L185.80,59.42 L185.60,59.41 L185.40,59.39 L185.20,59.38 L185.00,59.36 L184.80,59.34 L184.60,59.32 L184.40,59.30 L184.36,59.30 L184.20,59.28 L184.00,59.25 L183.80,59.21 L183.60,59.17 L183.40,59.13 L183.23,59.10 L183.20,59.09 L183.00,59.06 L182.80,59.02 L182.60,58.98 L182.40,58.93 L182.28,58.90 L182.20,58.88 L182.00,58.82 L181.80,58.77 L181.60,58.72 L181.51,58.70 L181.40,58.67 L181.20,58.63 L181.00,58.59 L180.80,58.55 L180.60,58.52 L180.52,58.50 L180.40,58.47 L180.20,58.43 L180.00,58.39 L179.80,58.36 L179.60,58.34 L179.40,58.30 L179.39,58.30 L179.20,58.25 L179.00,58.21 L178.80,58.17 L178.60,58.14 L178.40,58.10 L178.39,58.10 L178.20,58.05 L178.00,58.00 L177.80,57.96 L177.60,57.92 L177.50,57.90 L177.40,57.88 L177.20,57.82 L177.00,57.76 L176.80,57.72 L176.71,57.70 L176.60,57.68 L176.40,57.63 L176.20,57.56 L176.00,57.51 L175.97,57.50 L175.80,57.46 L175.60,57.42 L175.40,57.36 L175.22,57.30 L175.20,57.29 L175.00,57.23 L174.80,57.18 L174.60,57.11 L174.58,57.10 L174.40,57.03 L174.20,56.97 L174.00,56.92 L173.95,56.90 L173.80,56.84 L173.60,56.76 L173.42,56.70 L173.40,56.69 L173.20,56.63 L173.00,56.54 L172.90,56.50 L172.80,56.46 L172.60,56.38 L172.40,56.31 L172.38,56.30 L172.20,56.20 L172.00,56.10 L171.99,56.10 L171.80,56.01 L171.60,55.91 L171.58,55.90 L171.40,55.78 L171.28,55.70 L171.20,55.64 L171.00,55.52 L170.98,55.50 L170.80,55.32 L170.78,55.30 L170.62,55.10 L170.80,55.04 L171.00,54.97 L171.20,54.92 L171.26,54.90 L171.40,54.86 L171.60,54.80 L171.80,54.73 L171.91,54.70 L172.00,54.68 L172.20,54.64 L172.40,54.59 L172.60,54.53 L172.71,54.50 L172.80,54.47 L173.00,54.41 L173.20,54.37 L173.40,54.33 L173.51,54.30 L173.60,54.28 L173.80,54.23 L174.00,54.17 L174.20,54.10 L174.22,54.10 L174.40,54.07 L174.60,54.02 L174.80,53.98 L175.00,53.92 L175.09,53.90 L175.20,53.87 L175.40,53.81 L175.60,53.77 L175.80,53.74 L175.97,53.70 L176.00,53.69 L176.20,53.65 L176.40,53.60 L176.60,53.54 L176.74,53.50 L176.80,53.48 L177.00,53.45 L177.20,53.41 L177.40,53.36 L177.60,53.32 L177.66,53.30 L177.80,53.26 L178.00,53.21 L178.20,53.18 L178.40,53.14 L178.59,53.10 L178.60,53.10 L178.80,53.05 L179.00,53.00 L179.20,52.95 L179.40,52.92 L179.55,52.90 L179.60,52.89 L179.80,52.85 L180.00,52.81 L180.20,52.77 L180.40,52.73 L180.60,52.70 L180.64,52.70 L180.80,52.68 L181.00,52.66 L181.20,52.64 L181.40,52.62 L181.60,52.60 L181.80,52.58 L182.00,52.55 L182.20,52.52 L182.33,52.50 L182.40,52.49 L182.60,52.46 L182.80,52.45 L183.00,52.44 L183.20,52.43 L183.40,52.42 L183.60,52.41 L183.80,52.41 L184.00,52.40 L184.20,52.40 L184.40,52.39 L184.60,52.38 L184.80,52.37 L185.00,52.36 L185.20,52.34 L185.40,52.33 L185.60,52.33 L185.80,52.34 L186.00,52.35 L186.20,52.36 L186.40,52.37 L186.60,52.38 L186.80,52.40 L187.00,52.41 L187.20,52.43 L187.40,52.44 L187.60,52.45 L187.80,52.46 L188.00,52.46 L188.20,52.47 L188.40,52.49 L188.47,52.50 L188.60,52.52 L188.80,52.55 L189.00,52.58 L189.20,52.61 L189.40,52.65 L189.60,52.69 L189.68,52.70 L189.80,52.72 L190.00,52.76 L190.20,52.80 L190.40,52.84 L190.60,52.87 L190.80,52.90 L190.83,52.90 L191.00,52.92 L191.20,52.94 L191.40,52.96 L191.60,52.99 L191.80,53.01 L192.00,53.03 L192.20,53.04 L192.40,53.04 L192.60,53.05 L192.80,53.05 L193.00,53.04 L193.20,53.02 L193.40,52.99 L193.60,52.95 L193.80,52.91 L193.85,52.90 L194.00,52.87 L194.20,52.81 L194.40,52.74 L194.51,52.70 L194.60,52.67 L194.80,52.59 L195.00,52.52 L195.06,52.50 L195.20,52.45 L195.40,52.38 L195.60,52.30 L195.61,52.30 L195.80,52.23 L196.00,52.16 L196.20,52.10 L196.20,52.10 L196.40,52.05 L196.60,51.99 L196.80,51.94 L196.95,51.90 L197.00,51.89 L197.20,51.85 L197.40,51.83 L197.60,51.82 L197.80,51.81 L198.00,51.81 L198.20,51.82 L198.40,51.83 L198.60,51.84 L198.80,51.87 L198.99,51.90 L199.00,51.90 L199.20,51.94 L199.40,51.99 L199.60,52.05 L199.77,52.10 L199.80,52.11 L200.00,52.19 L200.20,52.27 L200.26,52.30 L200.40,52.37 L200.60,52.48 L200.63,52.50 L200.80,52.61 L200.92,52.70 L201.00,52.77 L201.13,52.90 L201.20,52.97 L201.31,53.10 L201.40,53.21 L201.46,53.30 L201.59,53.50 L201.60,53.54 L201.64,53.70 L201.60,53.88 L201.60,53.90 L201.53,54.10 L201.44,54.30 L201.40,54.38 L201.32,54.50 L201.20,54.67 L201.18,54.70 L201.01,54.90 L201.00,54.91 L200.81,55.10 L200.80,55.11 L200.60,55.29 L200.59,55.30 L200.40,55.45 L200.33,55.50 L200.20,55.59 L200.04,55.70 L200.00,55.72 L199.80,55.84 L199.68,55.90 L199.60,55.94 L199.40,56.04 L199.26,56.10 L199.20,56.12 L199.00,56.20 L198.80,56.27 L198.71,56.30 L198.60,56.34 L198.40,56.39 L198.20,56.45 L198.00,56.50 L198.00,56.50 L197.80,56.55 L197.60,56.60 L197.40,56.64 L197.20,56.68 L197.12,56.70 L197.00,56.72 L196.80,56.76 L196.60,56.80 L196.40,56.84 L196.20,56.88 L196.06,56.90 L196.00,56.91 L195.80,56.95 L195.60,56.98 L195.40,56.99 L195.20,56.99 L195.00,57.00 L194.80,57.01 L194.60,57.03 L194.40,57.05 L194.20,57.09 L194.13,57.10 L194.00,57.13 L193.80,57.18 L193.60,57.24 L193.41,57.30 L193.40,57.30 L193.20,57.36 L193.00,57.41 L192.80,57.47 L192.68,57.50 L192.60,57.52 L192.40,57.58 L192.20,57.65 L192.05,57.70 L192.00,57.72 L191.80,57.79 L191.60,57.85 L191.46,57.90 L191.40,57.92 L191.20,57.99 L191.00,58.06 L190.86,58.10 L190.80,58.12 L190.60,58.18 L190.40,58.25 L190.22,58.30 L190.20,58.30 L190.00,58.36 L189.80,58.42 L189.60,58.47 L189.50,58.50 L189.40,58.53 L189.20,58.58 L189.00,58.63 L188.80,58.69 L188.75,58.70 L188.60,58.74 L188.40,58.80 L188.20,58.85 L188.03,58.90 L188.00,58.91 L187.80,58.96 L187.60,59.02 L187.40,59.08 L187.32,59.10 L187.20,59.13 L187.00,59.18 L186.80,59.23 L186.60,59.27 L186.49,59.30 L186.40,59.32Z" fill="#78c858" fill-rule="evenodd"/>
<path d="M186.40,58.70 L186.20,58.75 L186.00,58.79 L185.80,58.78 L185.60,58.77 L185.40,58.76 L185.20,58.75 L185.00,58.73 L184.80,58.72 L184.64,58.70 L184.60,58.70 L184.40,58.67 L184.20,58.63 L184.00,58.60 L183.80,58.56 L183.60,58.53 L183.44,58.50 L183.40,58.49 L183.20,58.46 L183.00,58.42 L182.80,58.37 L182.60,58.32 L182.52,58.30 L182.40,58.27 L182.20,58.22 L182.00,58.17 L181.80,58.12 L181.73,58.10 L181.60,58.07 L181.40,58.02 L181.20,57.98 L181.00,57.94 L180.80,57.90 L180.80,57.90 L180.60,57.85 L180.40,57.80 L180.20,57.76 L180.00,57.72 L179.89,57.70 L179.80,57.68 L179.60,57.65 L179.40,57.59 L179.20,57.54 L179.03,57.50 L179.00,57.49 L178.80,57.45 L178.60,57.40 L178.40,57.34 L178.28,57.30 L178.20,57.28 L178.00,57.22 L177.80,57.16 L177.60,57.11 L177.57,57.10 L177.40,57.03 L177.20,56.96 L177.02,56.90 L177.00,56.89 L176.80,56.83 L176.60,56.76 L176.46,56.70 L176.40,56.67 L176.20,56.59 L176.00,56.51 L175.98,56.50 L175.80,56.43 L175.60,56.34 L175.52,56.30 L175.40,56.23 L175.20,56.13 L175.15,56.10 L175.00,56.01 L174.83,55.90 L174.80,55.87 L174.60,55.73 L174.56,55.70 L174.40,55.57 L174.32,55.50 L174.20,55.36 L174.15,55.30 L174.20,55.26 L174.39,55.10 L174.40,55.10 L174.60,55.04 L174.80,54.97 L175.00,54.90 L175.00,54.90 L175.20,54.83 L175.40,54.75 L175.54,54.70 L175.60,54.68 L175.80,54.63 L176.00,54.57 L176.20,54.51 L176.24,54.50 L176.40,54.45 L176.60,54.38 L176.80,54.31 L176.84,54.30 L177.00,54.25 L177.20,54.20 L177.40,54.15 L177.55,54.10 L177.60,54.09 L177.80,54.03 L178.00,53.96 L178.20,53.91 L178.23,53.90 L178.40,53.86 L178.60,53.81 L178.80,53.76 L179.00,53.71 L179.03,53.70 L179.20,53.65 L179.40,53.61 L179.60,53.57 L179.80,53.52 L179.91,53.50 L180.00,53.48 L180.20,53.43 L180.40,53.38 L180.60,53.35 L180.80,53.32 L180.98,53.30 L181.00,53.30 L181.20,53.27 L181.40,53.25 L181.60,53.23 L181.80,53.20 L182.00,53.17 L182.20,53.14 L182.40,53.11 L182.45,53.10 L182.60,53.07 L182.80,53.05 L183.00,53.04 L183.20,53.03 L183.40,53.02 L183.60,53.02 L183.80,53.01 L184.00,53.00 L184.20,53.00 L184.40,53.00 L184.60,52.99 L184.80,52.98 L185.00,52.97 L185.20,52.96 L185.40,52.95 L185.60,52.95 L185.80,52.96 L186.00,52.97 L186.20,52.98 L186.40,53.00 L186.60,53.01 L186.80,53.03 L187.00,53.05 L187.20,53.07 L187.40,53.09 L187.47,53.10 L187.60,53.11 L187.80,53.13 L188.00,53.14 L188.20,53.16 L188.40,53.18 L188.60,53.22 L188.80,53.26 L188.98,53.30 L189.00,53.31 L189.20,53.35 L189.40,53.40 L189.60,53.45 L189.77,53.50 L189.80,53.51 L190.00,53.57 L190.20,53.62 L190.40,53.68 L190.47,53.70 L190.60,53.74 L190.80,53.80 L191.00,53.85 L191.20,53.90 L191.20,53.90 L191.40,53.95 L191.60,54.00 L191.80,54.06 L191.94,54.10 L192.00,54.12 L192.20,54.17 L192.40,54.21 L192.60,54.25 L192.80,54.30 L192.82,54.30 L193.00,54.33 L193.20,54.35 L193.40,54.36 L193.60,54.33 L193.74,54.30 L193.80,54.29 L194.00,54.25 L194.20,54.20 L194.40,54.11 L194.42,54.10 L194.60,54.02 L194.80,53.90 L194.80,53.90 L195.00,53.79 L195.17,53.70 L195.20,53.68 L195.40,53.58 L195.55,53.50 L195.60,53.47 L195.80,53.37 L195.92,53.30 L196.00,53.26 L196.20,53.17 L196.38,53.10 L196.40,53.09 L196.60,53.02 L196.80,52.96 L196.97,52.90 L197.00,52.89 L197.20,52.83 L197.40,52.80 L197.60,52.78 L197.80,52.78 L198.00,52.78 L198.20,52.79 L198.40,52.81 L198.60,52.84 L198.80,52.88 L198.88,52.90 L199.00,52.93 L199.20,53.00 L199.40,53.09 L199.43,53.10 L199.60,53.19 L199.78,53.30 L199.80,53.31 L200.00,53.47 L200.04,53.50 L200.20,53.66 L200.23,53.70 L200.38,53.90 L200.29,54.10 L200.20,54.24 L200.15,54.30 L200.00,54.48 L199.98,54.50 L199.80,54.68 L199.78,54.70 L199.60,54.85 L199.53,54.90 L199.40,54.99 L199.22,55.10 L199.20,55.11 L199.00,55.22 L198.83,55.30 L198.80,55.31 L198.60,55.40 L198.40,55.47 L198.30,55.50 L198.20,55.53 L198.00,55.59 L197.80,55.64 L197.60,55.68 L197.51,55.70 L197.40,55.72 L197.20,55.76 L197.00,55.79 L196.80,55.81 L196.60,55.80 L196.40,55.77 L196.20,55.73 L196.03,55.70 L196.00,55.69 L195.80,55.65 L195.60,55.60 L195.40,55.55 L195.21,55.50 L195.20,55.50 L195.00,55.45 L194.80,55.40 L194.60,55.36 L194.40,55.34 L194.20,55.33 L194.00,55.34 L193.80,55.38 L193.60,55.45 L193.50,55.50 L193.40,55.55 L193.20,55.67 L193.16,55.70 L193.00,55.81 L192.88,55.90 L192.80,55.96 L192.62,56.10 L192.60,56.11 L192.40,56.27 L192.36,56.30 L192.20,56.42 L192.10,56.50 L192.00,56.57 L191.83,56.70 L191.80,56.72 L191.60,56.86 L191.54,56.90 L191.40,56.99 L191.24,57.10 L191.20,57.12 L191.00,57.23 L190.86,57.30 L190.80,57.32 L190.60,57.40 L190.40,57.48 L190.34,57.50 L190.20,57.55 L190.00,57.62 L189.80,57.69 L189.77,57.70 L189.60,57.76 L189.40,57.82 L189.20,57.88 L189.14,57.90 L189.00,57.95 L188.80,58.01 L188.60,58.07 L188.50,58.10 L188.40,58.13 L188.20,58.19 L188.00,58.25 L187.85,58.30 L187.80,58.31 L187.60,58.37 L187.40,58.43 L187.20,58.49 L187.18,58.50 L187.00,58.55 L186.80,58.60 L186.60,58.65 L186.41,58.70 L186.40,58.70Z" fill="#f0e23c" fill-rule="evenodd"/>
<path d="M186.40,58.12 L186.20,58.17 L186.00,58.19 L185.80,58.18 L185.60,58.17 L185.40,58.16 L185.20,58.15 L185.00,58.13 L184.80,58.11 L184.75,58.10 L184.60,58.08 L184.40,58.05 L184.20,58.02 L184.00,57.98 L183.80,57.95 L183.60,57.91 L183.53,57.90 L183.40,57.88 L183.20,57.83 L183.00,57.78 L182.80,57.73 L182.70,57.70 L182.60,57.67 L182.40,57.62 L182.20,57.57 L182.00,57.52 L181.94,57.50 L181.80,57.46 L181.60,57.41 L181.40,57.36 L181.20,57.32 L181.13,57.30 L181.00,57.27 L180.80,57.21 L180.60,57.15 L180.41,57.10 L180.40,57.10 L180.20,57.04 L180.00,56.99 L179.80,56.95 L179.65,56.90 L179.60,56.88 L179.40,56.81 L179.20,56.74 L179.07,56.70 L179.00,56.68 L178.80,56.61 L178.60,56.52 L178.55,56.50 L178.40,56.43 L178.20,56.34 L178.12,56.30 L178.00,56.24 L177.80,56.15 L177.72,56.10 L177.60,56.02 L177.43,55.90 L177.40,55.88 L177.20,55.73 L177.15,55.70 L177.00,55.57 L176.93,55.50 L176.84,55.30 L177.00,55.21 L177.20,55.13 L177.26,55.10 L177.40,55.05 L177.60,54.97 L177.76,54.90 L177.80,54.88 L178.00,54.80 L178.20,54.71 L178.24,54.70 L178.40,54.65 L178.60,54.59 L178.80,54.52 L178.87,54.50 L179.00,54.46 L179.20,54.39 L179.40,54.32 L179.47,54.30 L179.60,54.27 L179.80,54.22 L180.00,54.17 L180.20,54.11 L180.24,54.10 L180.40,54.05 L180.60,54.00 L180.80,53.97 L181.00,53.94 L181.20,53.91 L181.27,53.90 L181.40,53.88 L181.60,53.86 L181.80,53.83 L182.00,53.79 L182.20,53.76 L182.40,53.73 L182.54,53.70 L182.60,53.69 L182.80,53.66 L183.00,53.64 L183.20,53.63 L183.40,53.62 L183.60,53.61 L183.80,53.61 L184.00,53.60 L184.20,53.60 L184.40,53.60 L184.60,53.60 L184.80,53.59 L185.00,53.58 L185.20,53.57 L185.40,53.56 L185.60,53.56 L185.80,53.57 L186.00,53.59 L186.20,53.61 L186.40,53.63 L186.60,53.65 L186.80,53.68 L186.96,53.70 L187.00,53.71 L187.20,53.74 L187.40,53.77 L187.60,53.80 L187.80,53.83 L188.00,53.85 L188.20,53.88 L188.31,53.90 L188.40,53.91 L188.60,53.97 L188.80,54.03 L189.00,54.09 L189.02,54.10 L189.20,54.16 L189.40,54.24 L189.54,54.30 L189.60,54.33 L189.80,54.42 L189.97,54.50 L190.00,54.52 L190.20,54.63 L190.32,54.70 L190.40,54.75 L190.60,54.88 L190.63,54.90 L190.80,55.04 L190.88,55.10 L190.88,55.30 L190.84,55.50 L190.80,55.61 L190.76,55.70 L190.65,55.90 L190.60,55.98 L190.51,56.10 L190.40,56.23 L190.34,56.30 L190.20,56.43 L190.13,56.50 L190.00,56.61 L189.89,56.70 L189.80,56.76 L189.61,56.90 L189.60,56.90 L189.40,57.03 L189.28,57.10 L189.20,57.14 L189.00,57.24 L188.88,57.30 L188.80,57.33 L188.60,57.40 L188.40,57.47 L188.33,57.50 L188.20,57.55 L188.00,57.62 L187.80,57.68 L187.75,57.70 L187.60,57.75 L187.40,57.82 L187.20,57.88 L187.15,57.90 L187.00,57.95 L186.80,58.01 L186.60,58.06 L186.47,58.10 L186.40,58.12Z" fill="#f08a24" fill-rule="evenodd"/>
<path d="M186.20,57.53 L186.00,57.57 L185.80,57.62 L185.60,57.66 L185.40,57.66 L185.20,57.64 L185.00,57.61 L184.80,57.59 L184.60,57.56 L184.40,57.53 L184.24,57.50 L184.20,57.49 L184.00,57.46 L183.80,57.42 L183.60,57.38 L183.40,57.33 L183.29,57.30 L183.20,57.27 L183.00,57.22 L182.80,57.16 L182.60,57.10 L182.58,57.10 L182.40,57.05 L182.20,56.99 L182.00,56.93 L181.90,56.90 L181.80,56.87 L181.60,56.81 L181.40,56.75 L181.23,56.70 L181.20,56.69 L181.00,56.61 L180.80,56.54 L180.68,56.50 L180.60,56.47 L180.40,56.39 L180.20,56.32 L180.14,56.30 L180.00,56.24 L179.80,56.15 L179.70,56.10 L179.60,56.04 L179.40,55.93 L179.35,55.90 L179.20,55.80 L179.04,55.70 L179.00,55.67 L178.83,55.50 L178.83,55.30 L179.00,55.22 L179.20,55.12 L179.25,55.10 L179.40,55.03 L179.60,54.95 L179.75,54.90 L179.80,54.88 L180.00,54.82 L180.20,54.75 L180.34,54.70 L180.40,54.68 L180.60,54.61 L180.80,54.56 L181.00,54.52 L181.13,54.50 L181.20,54.49 L181.40,54.45 L181.60,54.42 L181.80,54.39 L182.00,54.35 L182.20,54.31 L182.26,54.30 L182.40,54.27 L182.60,54.23 L182.80,54.19 L183.00,54.18 L183.20,54.16 L183.40,54.15 L183.60,54.14 L183.80,54.14 L184.00,54.13 L184.20,54.13 L184.40,54.13 L184.60,54.13 L184.80,54.13 L185.00,54.12 L185.20,54.12 L185.40,54.11 L185.60,54.10 L185.80,54.12 L186.00,54.14 L186.20,54.17 L186.40,54.20 L186.60,54.23 L186.80,54.27 L186.95,54.30 L187.00,54.31 L187.20,54.36 L187.40,54.40 L187.60,54.45 L187.80,54.49 L187.82,54.50 L188.00,54.55 L188.20,54.60 L188.40,54.66 L188.52,54.70 L188.60,54.73 L188.80,54.83 L188.92,54.90 L189.00,54.95 L189.20,55.09 L189.21,55.10 L189.31,55.30 L189.29,55.50 L189.22,55.70 L189.20,55.75 L189.12,55.90 L189.00,56.06 L188.97,56.10 L188.80,56.28 L188.78,56.30 L188.60,56.46 L188.55,56.50 L188.40,56.60 L188.26,56.70 L188.20,56.73 L188.00,56.85 L187.91,56.90 L187.80,56.95 L187.60,57.05 L187.48,57.10 L187.40,57.13 L187.20,57.21 L187.00,57.29 L186.97,57.30 L186.80,57.35 L186.60,57.42 L186.40,57.47 L186.30,57.50 L186.20,57.53Z" fill="#dc2e18" fill-rule="evenodd"/>
<path d="M139.60,137.89 L139.21,137.50 L139.00,137.29 L138.61,136.90 L138.40,136.69 L138.01,136.30 L137.80,136.09 L137.41,135.70 L137.01,135.50 L137.00,135.09 L136.80,134.69 L136.60,134.29 L136.40,133.89 L136.20,133.49 L136.00,133.09 L135.80,132.69 L135.60,132.29 L135.40,131.89 L135.20,131.30 L135.00,130.90 L134.80,130.50 L134.60,130.10 L134.40,129.70 L134.20,129.30 L134.00,128.90 L134.00,128.50 L133.80,128.10 L133.60,127.50 L133.40,127.10 L133.20,126.89 L132.81,126.50 L132.61,126.10 L132.40,125.89 L132.01,125.50 L131.81,125.10 L131.60,124.89 L131.21,124.50 L131.01,124.10 L130.61,123.90 L130.20,123.89 L129.80,123.69 L129.40,123.49 L128.81,123.30 L128.40,123.29 L128.00,123.09 L127.41,122.90 L127.00,122.89 L126.60,122.69 L126.20,122.49 L125.61,122.30 L125.20,122.29 L124.80,122.09 L124.21,121.90 L123.80,121.89 L123.40,121.69 L123.00,121.49 L122.40,121.49 L122.00,121.29 L121.60,121.09 L121.01,120.90 L120.60,120.89 L120.20,120.69 L119.61,120.50 L119.21,120.30 L118.80,120.29 L118.40,120.09 L118.00,119.89 L117.60,119.69 L117.20,119.49 L116.61,119.30 L116.21,119.10 L115.80,119.09 L115.40,118.90 L115.00,118.70 L114.60,118.50 L114.20,118.30 L113.80,118.10 L113.20,117.90 L112.80,117.70 L112.40,117.70 L112.00,117.50 L111.60,117.30 L111.20,117.10 L110.80,116.90 L110.40,116.70 L110.00,116.50 L109.60,116.30 L109.20,116.10 L108.80,115.90 L108.40,115.70 L108.00,115.50 L107.60,115.30 L107.20,115.10 L106.80,114.90 L106.40,114.70 L106.00,114.50 L105.80,114.10 L105.40,113.70 L105.20,113.30 L105.00,112.90 L104.80,112.50 L104.60,112.10 L105.00,111.70 L105.20,111.50 L105.60,111.30 L106.00,111.10 L106.40,110.70 L106.80,110.50 L107.20,110.30 L107.60,110.10 L108.00,110.10 L108.60,109.90 L109.00,109.70 L109.40,109.50 L109.80,109.30 L110.40,109.30 L110.80,109.10 L111.20,109.10 L111.80,108.90 L112.20,108.70 L112.80,108.70 L113.20,108.50 L113.60,108.50 L114.20,108.30 L114.60,108.10 L115.20,108.10 L115.60,107.90 L116.20,107.90 L116.60,107.70 L117.20,107.70 L117.60,107.50 L118.00,107.50 L118.60,107.30 L119.00,107.30 L119.60,107.10 L120.00,106.90 L120.60,106.90 L121.20,106.90 L121.60,106.70 L122.20,106.70 L122.80,106.70 L123.20,106.50 L123.80,106.50 L124.20,106.50 L124.80,106.30 L125.40,106.30 L125.80,106.30 L126.40,106.10 L127.00,106.10 L127.60,106.10 L128.00,105.90 L128.60,105.90 L129.20,105.90 L129.80,105.90 L130.20,105.70 L130.80,105.70 L131.40,105.70 L132.00,105.71 L132.41,105.70 L133.00,105.51 L133.60,105.51 L134.20,105.51 L134.80,105.51 L135.40,105.51 L135.80,105.71 L136.39,105.90 L136.80,105.91 L137.20,106.11 L137.79,106.30 L138.20,106.31 L138.60,106.51 L139.00,106.71 L139.60,106.71 L140.00,106.91 L140.39,107.30 L140.79,107.50 L141.00,107.71 L141.40,107.91 L141.79,108.30 L142.00,108.50 L142.40,108.70 L142.80,109.10 L143.20,109.30 L143.40,109.50 L143.80,109.70 L144.20,110.10 L144.40,110.50 L144.60,110.70 L145.00,111.10 L145.20,111.50 L145.40,111.70 L145.60,112.10 L146.00,112.50 L146.20,112.90 L146.40,113.10 L146.80,113.50 L147.00,113.90 L147.20,114.30 L147.40,114.70 L147.40,115.10 L147.60,115.70 L147.80,116.10 L148.00,116.50 L148.00,116.91 L148.19,117.50 L148.39,117.90 L148.39,118.50 L148.19,118.90 L148.19,119.50 L148.19,120.10 L147.99,120.50 L147.99,121.10 L147.99,121.70 L147.79,122.10 L147.60,122.69 L147.59,123.10 L147.39,123.50 L147.19,123.90 L147.00,124.49 L146.99,124.90 L146.79,125.30 L146.60,125.89 L146.59,126.30 L146.39,126.70 L146.19,127.10 L145.99,127.50 L145.80,127.90 L145.60,128.30 L145.40,128.70 L145.20,129.30 L145.00,129.70 L144.80,130.10 L144.60,130.50 L144.40,130.90 L144.20,131.30 L144.00,131.70 L143.80,132.10 L143.60,132.50 L143.40,132.90 L143.20,133.30 L143.00,133.70 L142.80,133.90 L142.60,134.30 L142.40,134.70 L142.20,135.10 L142.00,135.50 L141.79,135.90 L141.59,136.30 L141.20,136.69 L140.80,136.89 L140.59,137.10 L140.20,137.49 L139.80,137.69Z" fill="#1e44a4" fill-rule="evenodd"/>
<path d="M139.80,133.73 L139.40,133.65 L139.05,133.30 L138.80,133.02 L138.52,132.70 L138.20,132.31 L138.00,132.05 L137.74,131.70 L137.46,131.30 L137.20,130.90 L137.00,130.51 L136.80,130.18 L136.60,129.83 L136.40,129.40 L136.20,128.98 L136.00,128.58 L135.80,128.10 L135.66,127.70 L135.49,127.30 L135.37,126.90 L135.20,126.40 L135.02,125.90 L134.82,125.50 L134.69,125.10 L134.55,124.70 L134.39,124.30 L134.24,123.70 L134.13,123.30 L134.00,122.80 L133.92,122.30 L133.80,121.70 L133.70,121.30 L133.57,120.90 L133.35,120.50 L133.00,120.13 L132.65,119.90 L132.20,119.71 L131.80,119.61 L131.20,119.51 L130.80,119.46 L130.20,119.40 L129.60,119.36 L129.00,119.33 L128.60,119.29 L128.00,119.23 L127.40,119.17 L126.84,119.10 L126.40,119.05 L125.80,118.96 L125.33,118.90 L124.80,118.81 L124.20,118.70 L123.80,118.62 L123.20,118.52 L122.80,118.45 L122.20,118.31 L121.80,118.22 L121.20,118.11 L120.80,118.03 L120.34,117.90 L119.80,117.78 L119.40,117.68 L118.80,117.55 L118.40,117.47 L117.80,117.34 L117.40,117.27 L116.80,117.14 L116.40,117.08 L115.80,116.94 L115.40,116.89 L114.80,116.74 L114.40,116.64 L113.80,116.52 L113.40,116.41 L112.88,116.30 L112.40,116.15 L112.00,116.01 L111.60,115.90 L111.02,115.70 L110.60,115.52 L110.20,115.35 L109.80,115.16 L109.40,114.96 L109.00,114.74 L108.60,114.52 L108.24,114.30 L107.93,114.10 L107.60,113.87 L107.20,113.56 L107.00,113.23 L106.84,112.70 L107.18,112.30 L107.51,112.10 L107.85,111.90 L108.30,111.70 L108.77,111.50 L109.20,111.35 L109.60,111.15 L110.00,111.01 L110.40,110.85 L110.97,110.70 L111.40,110.58 L111.80,110.46 L112.40,110.31 L112.80,110.18 L113.20,110.10 L113.80,109.94 L114.20,109.83 L114.80,109.70 L115.20,109.58 L115.78,109.50 L116.20,109.38 L116.65,109.30 L117.20,109.18 L117.67,109.10 L118.20,108.98 L118.60,108.89 L119.20,108.79 L119.60,108.70 L120.20,108.58 L120.60,108.47 L121.20,108.42 L121.80,108.35 L122.20,108.24 L122.80,108.20 L123.37,108.10 L123.80,108.02 L124.40,107.98 L124.80,107.90 L125.40,107.83 L126.00,107.79 L126.49,107.70 L127.00,107.66 L127.60,107.65 L128.20,107.61 L128.80,107.53 L129.40,107.53 L130.00,107.54 L130.40,107.50 L131.00,107.47 L131.60,107.50 L132.00,107.52 L132.60,107.55 L133.20,107.53 L133.80,107.57 L134.40,107.63 L134.87,107.70 L135.40,107.84 L135.80,107.97 L136.22,108.10 L136.80,108.26 L137.20,108.40 L137.60,108.54 L138.06,108.70 L138.60,108.90 L139.00,109.06 L139.40,109.27 L139.77,109.50 L140.11,109.70 L140.47,109.90 L140.80,110.12 L141.20,110.33 L141.60,110.60 L142.00,110.82 L142.40,111.10 L142.73,111.30 L143.00,111.56 L143.40,111.90 L143.60,112.15 L143.94,112.50 L144.20,112.81 L144.41,113.10 L144.74,113.50 L144.97,113.90 L145.20,114.21 L145.40,114.66 L145.54,115.10 L145.60,115.50 L145.64,116.10 L145.62,116.70 L145.55,117.10 L145.41,117.70 L145.27,118.10 L145.00,118.49 L144.80,118.76 L144.54,119.10 L144.20,119.47 L143.98,119.70 L143.65,120.10 L143.43,120.50 L143.30,120.90 L143.21,121.50 L143.26,122.10 L143.38,122.70 L143.47,123.10 L143.60,123.69 L143.70,124.10 L143.80,124.67 L143.86,125.10 L143.91,125.70 L143.93,126.30 L143.89,126.90 L143.82,127.50 L143.75,127.90 L143.67,128.50 L143.56,128.90 L143.40,129.41 L143.22,129.90 L143.05,130.30 L142.86,130.70 L142.65,131.10 L142.42,131.50 L142.20,131.83 L142.00,132.11 L141.68,132.50 L141.40,132.75 L141.00,133.07 L140.70,133.30 L140.39,133.50 L139.90,133.70Z" fill="#2874cc" fill-rule="evenodd"/>
<path d="M140.00,131.30 L139.60,131.38 L139.40,131.20 L139.20,131.00 L139.00,130.79 L138.80,130.56 L138.61,130.30 L138.47,130.10 L138.34,129.90 L138.19,129.70 L138.00,129.41 L137.81,129.10 L137.72,128.90 L137.60,128.67 L137.41,128.30 L137.31,128.10 L137.20,127.88 L137.06,127.50 L136.99,127.30 L136.84,126.90 L136.78,126.70 L136.68,126.30 L136.60,126.00 L136.52,125.70 L136.43,125.30 L136.38,125.10 L136.28,124.70 L136.20,124.33 L136.17,124.10 L136.13,123.70 L136.10,123.30 L136.08,122.90 L136.12,122.50 L136.17,122.10 L136.21,121.90 L136.29,121.50 L136.38,121.10 L136.43,120.90 L136.53,120.50 L136.56,120.10 L136.49,119.70 L136.40,119.50 L136.20,119.23 L136.00,119.03 L135.80,118.86 L135.56,118.70 L135.20,118.51 L135.00,118.43 L134.62,118.30 L134.40,118.24 L134.00,118.16 L133.60,118.10 L133.40,118.08 L133.00,118.05 L132.60,118.03 L132.20,118.02 L131.80,118.01 L131.40,118.01 L131.00,118.01 L130.60,118.01 L130.20,118.00 L129.80,118.00 L129.40,118.00 L129.00,117.98 L128.60,117.96 L128.20,117.93 L127.81,117.90 L127.60,117.88 L127.20,117.84 L126.80,117.80 L126.40,117.75 L126.02,117.70 L125.80,117.68 L125.40,117.62 L125.00,117.55 L124.73,117.50 L124.40,117.44 L124.00,117.36 L123.66,117.30 L123.40,117.25 L123.00,117.16 L122.76,117.10 L122.40,117.01 L122.00,116.92 L121.80,116.88 L121.40,116.79 L121.05,116.70 L120.80,116.63 L120.40,116.53 L120.20,116.48 L119.80,116.37 L119.51,116.30 L119.20,116.23 L118.80,116.13 L118.60,116.09 L118.20,116.01 L117.80,115.92 L117.60,115.88 L117.20,115.80 L116.80,115.73 L116.60,115.68 L116.20,115.61 L115.80,115.54 L115.60,115.49 L115.20,115.40 L114.80,115.31 L114.60,115.27 L114.20,115.18 L113.91,115.10 L113.60,115.03 L113.20,114.93 L113.00,114.85 L112.60,114.70 L112.40,114.63 L112.00,114.50 L111.80,114.43 L111.55,114.30 L111.20,114.10 L111.00,113.99 L110.80,113.85 L110.58,113.70 L110.34,113.50 L110.14,113.30 L109.95,113.10 L110.00,112.72 L110.20,112.59 L110.40,112.49 L110.80,112.32 L111.00,112.25 L111.39,112.10 L111.60,112.02 L111.98,111.90 L112.20,111.82 L112.59,111.70 L112.80,111.63 L113.20,111.50 L113.40,111.45 L113.80,111.32 L114.00,111.27 L114.40,111.17 L114.61,111.10 L115.00,111.01 L115.37,110.90 L115.60,110.86 L116.00,110.78 L116.29,110.70 L116.60,110.62 L117.00,110.53 L117.20,110.47 L117.60,110.40 L118.00,110.31 L118.20,110.25 L118.60,110.17 L118.86,110.10 L119.20,110.03 L119.60,109.95 L119.80,109.90 L120.20,109.80 L120.60,109.71 L120.80,109.65 L121.20,109.60 L121.60,109.55 L121.87,109.50 L122.20,109.42 L122.60,109.34 L122.96,109.30 L123.20,109.26 L123.60,109.18 L124.00,109.10 L124.20,109.08 L124.60,109.03 L125.00,108.96 L125.31,108.90 L125.60,108.88 L126.00,108.85 L126.40,108.79 L126.80,108.72 L127.20,108.70 L127.40,108.69 L127.80,108.68 L128.20,108.66 L128.60,108.61 L129.00,108.58 L129.40,108.58 L129.80,108.59 L130.20,108.59 L130.60,108.57 L131.00,108.56 L131.40,108.58 L131.80,108.61 L132.20,108.65 L132.60,108.69 L132.80,108.70 L133.20,108.72 L133.60,108.74 L134.00,108.80 L134.40,108.87 L134.60,108.91 L135.00,109.02 L135.21,109.10 L135.60,109.23 L135.80,109.31 L136.20,109.45 L136.40,109.52 L136.80,109.67 L137.00,109.75 L137.35,109.90 L137.60,110.00 L137.81,110.10 L138.20,110.26 L138.40,110.36 L138.64,110.50 L138.94,110.70 L139.20,110.86 L139.40,110.97 L139.61,111.10 L139.93,111.30 L140.20,111.45 L140.40,111.57 L140.60,111.70 L140.94,111.90 L141.20,112.05 L141.40,112.18 L141.60,112.32 L141.84,112.50 L142.07,112.70 L142.28,112.90 L142.46,113.10 L142.64,113.30 L142.83,113.50 L143.00,113.74 L143.20,114.04 L143.38,114.30 L143.48,114.50 L143.60,114.79 L143.72,115.10 L143.80,115.34 L143.85,115.70 L143.80,116.10 L143.76,116.30 L143.64,116.70 L143.55,116.90 L143.40,117.19 L143.20,117.50 L143.04,117.70 L142.86,117.90 L142.66,118.10 L142.45,118.30 L142.21,118.50 L142.00,118.65 L141.80,118.79 L141.60,118.93 L141.34,119.10 L141.07,119.30 L140.85,119.50 L140.69,119.70 L140.58,119.90 L140.50,120.30 L140.52,120.70 L140.60,121.02 L140.70,121.30 L140.80,121.52 L140.98,121.90 L141.08,122.10 L141.20,122.35 L141.37,122.70 L141.46,122.90 L141.60,123.21 L141.73,123.50 L141.81,123.70 L141.96,124.10 L142.02,124.30 L142.13,124.70 L142.20,124.98 L142.27,125.30 L142.33,125.70 L142.36,126.10 L142.37,126.50 L142.36,126.90 L142.32,127.30 L142.28,127.70 L142.24,128.10 L142.19,128.30 L142.07,128.70 L142.00,128.91 L141.84,129.30 L141.74,129.50 L141.60,129.77 L141.40,130.09 L141.24,130.30 L141.08,130.50 L140.88,130.70 L140.66,130.90 L140.40,131.09 L140.20,131.21 L140.00,131.30Z" fill="#45bde0" fill-rule="evenodd"/>
<path d="M140.20,117.30 L140.00,117.39 L139.80,117.45 L139.60,117.45 L139.40,117.43 L139.20,117.40 L139.00,117.38 L138.80,117.34 L138.60,117.31 L138.57,117.30 L138.40,117.27 L138.20,117.22 L138.00,117.18 L137.80,117.14 L137.63,117.10 L137.60,117.09 L137.40,117.05 L137.20,117.01 L137.00,116.97 L136.80,116.94 L136.60,116.90 L136.56,116.90 L136.40,116.88 L136.20,116.86 L136.00,116.84 L135.80,116.83 L135.60,116.82 L135.40,116.82 L135.20,116.82 L135.00,116.83 L134.80,116.84 L134.60,116.85 L134.40,116.86 L134.20,116.88 L134.00,116.88 L133.80,116.88 L133.60,116.89 L133.40,116.89 L133.20,116.90 L133.13,116.90 L133.00,116.91 L132.80,116.92 L132.60,116.93 L132.40,116.94 L132.20,116.94 L132.00,116.96 L131.80,116.96 L131.60,116.97 L131.40,116.98 L131.20,116.99 L131.00,116.99 L130.80,117.00 L130.60,117.00 L130.40,117.01 L130.20,117.01 L130.00,117.02 L129.80,117.02 L129.60,117.02 L129.40,117.01 L129.20,117.01 L129.00,117.00 L128.80,116.99 L128.60,116.98 L128.40,116.97 L128.20,116.95 L128.00,116.94 L127.80,116.92 L127.60,116.90 L127.56,116.90 L127.40,116.88 L127.20,116.86 L127.00,116.84 L126.80,116.81 L126.60,116.79 L126.40,116.76 L126.20,116.74 L126.00,116.71 L125.94,116.70 L125.80,116.68 L125.60,116.65 L125.40,116.61 L125.20,116.57 L125.00,116.53 L124.86,116.50 L124.80,116.49 L124.60,116.44 L124.40,116.40 L124.20,116.36 L124.00,116.32 L123.91,116.30 L123.80,116.28 L123.60,116.23 L123.40,116.17 L123.20,116.12 L123.12,116.10 L123.00,116.07 L122.80,116.01 L122.60,115.96 L122.40,115.90 L122.40,115.90 L122.20,115.85 L122.00,115.80 L121.80,115.75 L121.64,115.70 L121.60,115.69 L121.40,115.62 L121.20,115.55 L121.04,115.50 L121.00,115.49 L120.80,115.43 L120.60,115.37 L120.40,115.30 L120.40,115.30 L120.20,115.23 L120.00,115.17 L119.80,115.11 L119.76,115.10 L119.60,115.06 L119.40,114.99 L119.20,114.93 L119.11,114.90 L119.00,114.87 L118.80,114.81 L118.60,114.76 L118.40,114.70 L118.40,114.70 L118.20,114.64 L118.00,114.58 L117.80,114.53 L117.69,114.50 L117.60,114.48 L117.40,114.42 L117.20,114.36 L117.00,114.30 L116.98,114.30 L116.80,114.25 L116.60,114.20 L116.40,114.15 L116.25,114.10 L116.20,114.08 L116.00,114.01 L115.80,113.94 L115.70,113.90 L115.60,113.86 L115.40,113.79 L115.20,113.73 L115.10,113.70 L115.00,113.67 L114.80,113.57 L114.65,113.50 L114.60,113.47 L114.40,113.37 L114.24,113.30 L114.23,113.10 L114.40,113.02 L114.60,112.95 L114.70,112.90 L114.80,112.86 L115.00,112.77 L115.18,112.70 L115.20,112.69 L115.40,112.63 L115.60,112.55 L115.72,112.50 L115.80,112.47 L116.00,112.42 L116.20,112.36 L116.39,112.30 L116.40,112.30 L116.60,112.23 L116.80,112.15 L116.95,112.10 L117.00,112.08 L117.20,112.02 L117.40,111.95 L117.56,111.90 L117.60,111.89 L117.80,111.84 L118.00,111.78 L118.20,111.72 L118.25,111.70 L118.40,111.65 L118.60,111.57 L118.80,111.51 L118.84,111.50 L119.00,111.45 L119.20,111.38 L119.40,111.32 L119.48,111.30 L119.60,111.27 L119.80,111.21 L120.00,111.15 L120.14,111.10 L120.20,111.08 L120.40,111.01 L120.60,110.96 L120.78,110.90 L120.80,110.89 L121.00,110.83 L121.20,110.78 L121.40,110.75 L121.60,110.71 L121.63,110.70 L121.80,110.66 L122.00,110.61 L122.20,110.56 L122.40,110.50 L122.41,110.50 L122.60,110.44 L122.80,110.40 L123.00,110.37 L123.20,110.33 L123.33,110.30 L123.40,110.28 L123.60,110.24 L123.80,110.18 L124.00,110.13 L124.20,110.10 L124.20,110.10 L124.40,110.07 L124.60,110.04 L124.80,110.00 L125.00,109.96 L125.20,109.91 L125.25,109.90 L125.40,109.87 L125.60,109.84 L125.80,109.82 L126.00,109.80 L126.20,109.78 L126.40,109.75 L126.60,109.72 L126.70,109.70 L126.80,109.68 L127.00,109.65 L127.20,109.64 L127.40,109.62 L127.60,109.62 L127.80,109.61 L128.00,109.60 L128.20,109.59 L128.40,109.57 L128.60,109.55 L128.80,109.53 L129.00,109.51 L129.20,109.51 L129.40,109.51 L129.60,109.52 L129.80,109.52 L130.00,109.53 L130.20,109.53 L130.40,109.53 L130.60,109.53 L130.80,109.52 L131.00,109.52 L131.20,109.53 L131.40,109.55 L131.60,109.57 L131.80,109.59 L132.00,109.61 L132.20,109.64 L132.40,109.67 L132.60,109.70 L132.64,109.70 L132.80,109.72 L133.00,109.75 L133.20,109.77 L133.40,109.79 L133.60,109.81 L133.80,109.84 L134.00,109.88 L134.07,109.90 L134.20,109.93 L134.40,109.98 L134.60,110.04 L134.74,110.10 L134.80,110.12 L135.00,110.21 L135.20,110.29 L135.22,110.30 L135.40,110.38 L135.60,110.47 L135.66,110.50 L135.80,110.57 L136.00,110.66 L136.10,110.70 L136.20,110.74 L136.40,110.84 L136.52,110.90 L136.60,110.94 L136.80,111.05 L136.89,111.10 L137.00,111.16 L137.20,111.26 L137.26,111.30 L137.40,111.38 L137.60,111.49 L137.63,111.50 L137.80,111.60 L137.93,111.70 L138.00,111.76 L138.19,111.90 L138.20,111.91 L138.40,112.05 L138.47,112.10 L138.60,112.19 L138.75,112.30 L138.80,112.34 L139.00,112.49 L139.02,112.50 L139.20,112.62 L139.32,112.70 L139.40,112.75 L139.60,112.89 L139.61,112.90 L139.80,113.03 L139.90,113.10 L140.00,113.17 L140.20,113.29 L140.21,113.30 L140.40,113.44 L140.48,113.50 L140.60,113.61 L140.69,113.70 L140.80,113.82 L140.87,113.90 L141.00,114.08 L141.01,114.10 L141.15,114.30 L141.20,114.38 L141.28,114.50 L141.39,114.70 L141.40,114.74 L141.46,114.90 L141.51,115.10 L141.55,115.30 L141.58,115.50 L141.58,115.70 L141.54,115.90 L141.47,116.10 L141.40,116.26 L141.38,116.30 L141.25,116.50 L141.20,116.56 L141.08,116.70 L141.00,116.78 L140.86,116.90 L140.80,116.95 L140.60,117.09 L140.58,117.10 L140.40,117.20 L140.20,117.30 L140.20,117.30ZM139.80,128.83 L139.60,128.79 L139.52,128.70 L139.40,128.55 L139.36,128.50 L139.24,128.30 L139.20,128.24 L139.12,128.10 L139.00,127.90 L139.00,127.90 L138.89,127.70 L138.80,127.55 L138.77,127.50 L138.68,127.30 L138.60,127.10 L138.60,127.10 L138.54,126.90 L138.48,126.70 L138.42,126.50 L138.40,126.42 L138.37,126.30 L138.33,126.10 L138.31,125.90 L138.29,125.70 L138.27,125.50 L138.26,125.30 L138.26,125.10 L138.27,124.90 L138.29,124.70 L138.32,124.50 L138.37,124.30 L138.40,124.19 L138.43,124.10 L138.52,123.90 L138.60,123.76 L138.65,123.70 L138.80,123.53 L138.83,123.50 L139.00,123.39 L139.20,123.30 L139.22,123.30 L139.40,123.27 L139.60,123.26 L139.65,123.30 L139.80,123.40 L139.86,123.50 L139.99,123.70 L140.00,123.72 L140.11,123.90 L140.20,124.07 L140.22,124.10 L140.31,124.30 L140.40,124.50 L140.40,124.51 L140.48,124.70 L140.54,124.90 L140.59,125.10 L140.60,125.13 L140.64,125.30 L140.68,125.50 L140.70,125.70 L140.72,125.90 L140.74,126.10 L140.74,126.30 L140.74,126.50 L140.73,126.70 L140.72,126.90 L140.70,127.10 L140.68,127.30 L140.63,127.50 L140.60,127.62 L140.57,127.70 L140.49,127.90 L140.40,128.09 L140.40,128.10 L140.27,128.30 L140.20,128.41 L140.13,128.50 L140.00,128.65 L139.94,128.70 L139.80,128.83Z" fill="#78c858" fill-rule="evenodd"/>
<path d="M131.20,116.30 L131.00,116.31 L130.80,116.32 L130.60,116.33 L130.40,116.34 L130.20,116.35 L130.00,116.35 L129.80,116.35 L129.60,116.35 L129.40,116.35 L129.20,116.34 L129.00,116.33 L128.80,116.32 L128.60,116.32 L128.40,116.30 L128.38,116.30 L128.20,116.29 L128.00,116.27 L127.80,116.25 L127.60,116.23 L127.40,116.21 L127.20,116.19 L127.00,116.16 L126.80,116.13 L126.60,116.10 L126.57,116.10 L126.40,116.08 L126.20,116.05 L126.00,116.02 L125.80,115.98 L125.60,115.94 L125.42,115.90 L125.40,115.90 L125.20,115.85 L125.00,115.81 L124.80,115.76 L124.60,115.71 L124.56,115.70 L124.40,115.66 L124.20,115.61 L124.00,115.56 L123.80,115.51 L123.77,115.50 L123.60,115.45 L123.40,115.39 L123.20,115.33 L123.12,115.30 L123.00,115.26 L122.80,115.19 L122.60,115.13 L122.51,115.10 L122.40,115.06 L122.20,115.00 L122.00,114.94 L121.91,114.90 L121.80,114.86 L121.60,114.77 L121.41,114.70 L121.40,114.69 L121.20,114.62 L121.00,114.54 L120.90,114.50 L120.80,114.45 L120.60,114.37 L120.44,114.30 L120.40,114.28 L120.20,114.20 L120.00,114.12 L119.95,114.10 L119.80,114.03 L119.60,113.94 L119.51,113.90 L119.40,113.85 L119.20,113.76 L119.04,113.70 L119.00,113.66 L118.84,113.50 L118.96,113.30 L119.00,113.25 L119.15,113.10 L119.20,113.06 L119.39,112.90 L119.40,112.89 L119.60,112.74 L119.67,112.70 L119.80,112.63 L120.00,112.51 L120.02,112.50 L120.20,112.40 L120.37,112.30 L120.40,112.28 L120.60,112.17 L120.73,112.10 L120.80,112.07 L121.00,111.97 L121.14,111.90 L121.20,111.87 L121.40,111.81 L121.60,111.75 L121.74,111.70 L121.80,111.68 L122.00,111.61 L122.20,111.54 L122.30,111.50 L122.40,111.46 L122.60,111.39 L122.80,111.31 L122.85,111.30 L123.00,111.26 L123.20,111.21 L123.40,111.15 L123.57,111.10 L123.60,111.09 L123.80,111.03 L124.00,110.96 L124.20,110.91 L124.24,110.90 L124.40,110.87 L124.60,110.83 L124.80,110.78 L125.00,110.73 L125.13,110.70 L125.20,110.68 L125.40,110.63 L125.60,110.59 L125.80,110.56 L126.00,110.54 L126.20,110.51 L126.25,110.50 L126.40,110.48 L126.60,110.44 L126.80,110.41 L127.00,110.37 L127.20,110.34 L127.40,110.33 L127.60,110.32 L127.80,110.31 L127.90,110.30 L128.00,110.30 L128.20,110.28 L128.40,110.27 L128.60,110.25 L128.80,110.23 L129.00,110.21 L129.20,110.20 L129.40,110.21 L129.60,110.21 L129.80,110.22 L130.00,110.23 L130.20,110.23 L130.40,110.24 L130.60,110.24 L130.80,110.24 L131.00,110.24 L131.20,110.25 L131.40,110.27 L131.60,110.30 L131.60,110.30 L131.80,110.33 L132.00,110.36 L132.20,110.39 L132.40,110.43 L132.60,110.47 L132.79,110.50 L132.80,110.50 L133.00,110.54 L133.20,110.57 L133.40,110.61 L133.60,110.64 L133.80,110.68 L133.88,110.70 L134.00,110.74 L134.20,110.80 L134.40,110.87 L134.46,110.90 L134.60,110.97 L134.80,111.08 L134.85,111.10 L135.00,111.18 L135.20,111.30 L135.20,111.30 L135.40,111.42 L135.53,111.50 L135.60,111.54 L135.80,111.66 L135.86,111.70 L136.00,111.79 L136.17,111.90 L136.20,111.92 L136.40,112.07 L136.44,112.10 L136.60,112.23 L136.70,112.30 L136.80,112.38 L136.95,112.50 L137.00,112.54 L137.19,112.70 L137.20,112.71 L137.36,112.90 L137.40,112.95 L137.53,113.10 L137.60,113.19 L137.70,113.30 L137.80,113.43 L137.85,113.50 L137.99,113.70 L138.00,113.71 L138.13,113.90 L138.20,114.00 L138.27,114.10 L138.39,114.30 L138.40,114.32 L138.48,114.50 L138.54,114.70 L138.56,114.90 L138.54,115.10 L138.43,115.30 L138.40,115.33 L138.20,115.46 L138.00,115.45 L137.80,115.44 L137.60,115.42 L137.40,115.42 L137.20,115.41 L137.00,115.42 L136.80,115.42 L136.60,115.43 L136.40,115.45 L136.20,115.47 L136.00,115.50 L135.98,115.50 L135.80,115.53 L135.60,115.56 L135.40,115.59 L135.20,115.63 L135.00,115.67 L134.84,115.70 L134.80,115.71 L134.60,115.75 L134.40,115.79 L134.20,115.83 L134.00,115.88 L133.90,115.90 L133.80,115.92 L133.60,115.97 L133.40,116.01 L133.20,116.05 L133.00,116.09 L132.97,116.10 L132.80,116.14 L132.60,116.18 L132.40,116.21 L132.20,116.23 L132.00,116.25 L131.80,116.26 L131.60,116.28 L131.40,116.29 L131.21,116.30 L131.20,116.30Z" fill="#f0e23c" fill-rule="evenodd"/>
<path d="M130.40,115.71 L130.20,115.72 L130.00,115.72 L129.80,115.72 L129.60,115.72 L129.40,115.72 L129.20,115.72 L129.00,115.71 L128.80,115.70 L128.79,115.70 L128.60,115.69 L128.40,115.67 L128.20,115.66 L128.00,115.64 L127.80,115.62 L127.60,115.59 L127.40,115.57 L127.20,115.54 L127.00,115.51 L126.93,115.50 L126.80,115.48 L126.60,115.45 L126.40,115.42 L126.20,115.38 L126.00,115.34 L125.82,115.30 L125.80,115.30 L125.60,115.25 L125.40,115.20 L125.20,115.14 L125.04,115.10 L125.00,115.09 L124.80,115.03 L124.60,114.98 L124.40,114.92 L124.33,114.90 L124.20,114.86 L124.00,114.79 L123.80,114.72 L123.74,114.70 L123.60,114.65 L123.40,114.57 L123.23,114.50 L123.20,114.49 L123.00,114.40 L122.80,114.32 L122.75,114.30 L122.60,114.23 L122.40,114.15 L122.28,114.10 L122.20,114.06 L122.00,113.95 L121.91,113.90 L121.83,113.70 L121.89,113.50 L122.00,113.30 L122.00,113.30 L122.15,113.10 L122.20,113.05 L122.35,112.90 L122.40,112.85 L122.58,112.70 L122.60,112.68 L122.80,112.53 L122.84,112.50 L123.00,112.41 L123.20,112.31 L123.21,112.30 L123.40,112.21 L123.60,112.12 L123.63,112.10 L123.80,112.02 L124.00,111.93 L124.06,111.90 L124.20,111.84 L124.40,111.77 L124.60,111.71 L124.63,111.70 L124.80,111.65 L125.00,111.58 L125.20,111.52 L125.26,111.50 L125.40,111.45 L125.60,111.39 L125.80,111.35 L126.00,111.31 L126.07,111.30 L126.20,111.28 L126.40,111.24 L126.60,111.20 L126.80,111.16 L127.00,111.11 L127.05,111.10 L127.20,111.07 L127.40,111.05 L127.60,111.04 L127.80,111.02 L128.00,111.01 L128.20,111.00 L128.40,110.98 L128.60,110.97 L128.80,110.95 L129.00,110.93 L129.20,110.91 L129.40,110.91 L129.60,110.92 L129.80,110.93 L130.00,110.95 L130.20,110.96 L130.40,110.97 L130.60,110.98 L130.80,110.98 L131.00,110.99 L131.20,111.00 L131.40,111.03 L131.60,111.06 L131.79,111.10 L131.80,111.10 L132.00,111.15 L132.20,111.19 L132.40,111.24 L132.60,111.30 L132.61,111.30 L132.80,111.35 L133.00,111.41 L133.20,111.46 L133.33,111.50 L133.40,111.52 L133.60,111.58 L133.80,111.65 L133.96,111.70 L134.00,111.72 L134.20,111.82 L134.31,111.90 L134.40,111.97 L134.57,112.10 L134.60,112.13 L134.79,112.30 L134.80,112.31 L134.98,112.50 L135.00,112.52 L135.16,112.70 L135.20,112.76 L135.31,112.90 L135.40,113.03 L135.45,113.10 L135.55,113.30 L135.60,113.42 L135.63,113.50 L135.67,113.70 L135.64,113.90 L135.60,113.93 L135.40,114.08 L135.38,114.10 L135.20,114.21 L135.06,114.30 L135.00,114.33 L134.80,114.44 L134.68,114.50 L134.60,114.54 L134.40,114.63 L134.24,114.70 L134.20,114.72 L134.00,114.80 L133.80,114.88 L133.74,114.90 L133.60,114.95 L133.40,115.02 L133.20,115.09 L133.17,115.10 L133.00,115.16 L132.80,115.22 L132.60,115.28 L132.52,115.30 L132.40,115.33 L132.20,115.38 L132.00,115.44 L131.80,115.48 L131.73,115.50 L131.60,115.53 L131.40,115.57 L131.20,115.61 L131.00,115.65 L130.80,115.68 L130.60,115.70 L130.60,115.70 L130.40,115.71Z" fill="#f08a24" fill-rule="evenodd"/>
<path d="M130.00,115.10 L129.80,115.13 L129.60,115.15 L129.40,115.17 L129.20,115.18 L129.00,115.18 L128.80,115.18 L128.60,115.16 L128.40,115.15 L128.20,115.13 L128.00,115.11 L127.93,115.10 L127.80,115.08 L127.60,115.06 L127.40,115.03 L127.20,114.99 L127.00,114.96 L126.80,114.93 L126.64,114.90 L126.60,114.89 L126.40,114.85 L126.20,114.81 L126.00,114.76 L125.80,114.70 L125.79,114.70 L125.60,114.65 L125.40,114.58 L125.20,114.52 L125.14,114.50 L125.00,114.45 L124.80,114.38 L124.60,114.31 L124.56,114.30 L124.40,114.24 L124.20,114.16 L124.07,114.10 L124.00,114.00 L123.92,113.90 L123.92,113.70 L123.96,113.50 L124.00,113.42 L124.06,113.30 L124.20,113.10 L124.20,113.10 L124.38,112.90 L124.40,112.88 L124.60,112.76 L124.69,112.70 L124.80,112.64 L125.00,112.53 L125.05,112.50 L125.20,112.42 L125.40,112.32 L125.44,112.30 L125.60,112.23 L125.80,112.15 L125.98,112.10 L126.00,112.09 L126.20,112.04 L126.40,111.99 L126.60,111.93 L126.72,111.90 L126.80,111.88 L127.00,111.83 L127.20,111.77 L127.40,111.74 L127.60,111.72 L127.79,111.70 L127.80,111.70 L128.00,111.68 L128.20,111.67 L128.40,111.65 L128.60,111.63 L128.80,111.62 L129.00,111.60 L129.20,111.58 L129.40,111.58 L129.60,111.59 L129.80,111.60 L130.00,111.62 L130.20,111.64 L130.40,111.66 L130.60,111.67 L130.80,111.69 L130.90,111.70 L131.00,111.71 L131.20,111.73 L131.40,111.76 L131.60,111.81 L131.80,111.87 L131.89,111.90 L132.00,111.94 L132.20,112.01 L132.40,112.09 L132.42,112.10 L132.60,112.18 L132.80,112.28 L132.84,112.30 L133.00,112.39 L133.20,112.50 L133.20,112.50 L133.40,112.64 L133.49,112.70 L133.60,112.79 L133.72,112.90 L133.80,112.99 L133.89,113.10 L134.00,113.30 L134.00,113.30 L134.00,113.30 L133.94,113.50 L133.80,113.64 L133.74,113.70 L133.60,113.81 L133.49,113.90 L133.40,113.96 L133.20,114.09 L133.18,114.10 L133.00,114.20 L132.81,114.30 L132.80,114.30 L132.60,114.39 L132.40,114.48 L132.36,114.50 L132.20,114.56 L132.00,114.63 L131.80,114.70 L131.80,114.70 L131.60,114.76 L131.40,114.82 L131.20,114.87 L131.08,114.90 L131.00,114.92 L130.80,114.96 L130.60,115.00 L130.40,115.04 L130.20,115.07 L130.03,115.10 L130.00,115.10Z" fill="#dc2e18" fill-rule="evenodd"/>
<path d="M199.10,138.29 L198.50,138.29 L197.90,138.29 L197.31,138.10 L196.90,138.09 L196.31,137.90 L196.10,137.69 L195.70,137.49 L195.31,137.10 L195.10,136.89 L194.71,136.50 L194.31,136.30 L194.10,136.09 L193.71,135.70 L193.50,135.49 L193.11,135.10 L192.91,134.70 L192.71,134.30 L192.50,134.09 L192.30,133.69 L191.91,133.30 L191.71,132.90 L191.51,132.50 L191.30,132.29 L190.91,131.90 L190.71,131.50 L190.50,131.29 L190.30,130.89 L189.91,130.50 L189.71,130.10 L189.50,129.89 L189.11,129.50 L188.91,129.10 L188.70,128.89 L188.50,128.49 L188.10,128.29 L187.71,127.90 L187.31,127.70 L187.10,127.49 L186.70,127.29 L186.31,126.90 L186.30,126.49 L186.11,125.90 L185.91,125.50 L185.71,125.10 L185.70,124.69 L185.51,124.10 L185.30,123.89 L184.90,123.69 L184.51,123.30 L184.30,123.09 L183.90,122.89 L183.51,122.50 L183.30,122.29 L182.90,122.09 L182.50,121.89 L182.10,121.69 L181.70,121.49 L181.30,121.29 L180.90,121.09 L180.50,120.89 L180.10,120.69 L179.70,120.49 L179.11,120.30 L178.70,120.29 L178.30,120.09 L177.90,119.89 L177.31,119.70 L176.90,119.69 L176.50,119.50 L176.10,119.30 L175.70,119.10 L175.10,118.90 L174.70,118.70 L174.30,118.70 L173.90,118.50 L173.50,118.30 L173.10,118.10 L172.70,117.90 L172.10,117.70 L171.70,117.50 L171.30,117.50 L170.90,117.30 L170.50,117.10 L170.10,116.90 L169.70,116.70 L169.10,116.50 L168.70,116.30 L168.30,116.30 L167.90,116.10 L167.50,115.70 L167.30,115.50 L166.90,115.30 L166.50,114.90 L166.50,114.30 L166.50,113.70 L166.70,113.30 L167.10,112.90 L167.30,112.70 L167.70,112.30 L167.90,112.10 L168.30,111.70 L168.70,111.50 L169.10,111.30 L169.50,111.10 L169.90,110.90 L170.30,110.90 L170.90,110.70 L171.30,110.50 L171.90,110.50 L172.30,110.30 L172.70,110.30 L173.30,110.10 L173.70,109.90 L174.30,109.90 L174.70,109.70 L175.10,109.70 L175.70,109.50 L176.10,109.30 L176.70,109.30 L177.10,109.10 L177.50,109.10 L178.10,108.90 L178.50,108.70 L179.10,108.70 L179.50,108.50 L179.90,108.50 L180.50,108.30 L181.10,108.30 L181.50,108.10 L182.10,108.10 L182.50,108.10 L183.10,107.90 L183.70,107.90 L184.10,107.70 L184.70,107.70 L185.30,107.70 L185.70,107.50 L186.30,107.50 L186.70,107.30 L187.30,107.30 L187.90,107.30 L188.30,107.10 L188.90,107.10 L189.30,107.10 L189.90,106.90 L190.31,106.90 L190.90,106.71 L191.30,106.51 L191.70,106.31 L192.30,106.31 L192.70,106.11 L193.10,105.91 L193.51,105.90 L194.10,105.71 L194.50,105.51 L195.10,105.51 L195.69,105.70 L196.10,105.71 L196.50,105.91 L197.09,106.10 L197.50,106.11 L197.90,106.31 L198.49,106.50 L198.90,106.51 L199.30,106.71 L199.70,106.91 L200.29,107.10 L200.69,107.30 L201.09,107.50 L201.49,107.70 L201.90,107.90 L202.30,108.10 L202.70,108.30 L203.10,108.50 L203.50,108.70 L203.90,108.90 L204.10,109.10 L204.50,109.50 L204.70,109.70 L205.10,110.10 L205.30,110.50 L205.50,110.70 L205.90,111.10 L206.10,111.50 L206.30,111.70 L206.70,112.10 L206.70,112.70 L206.70,113.30 L206.70,113.90 L206.70,114.50 L206.69,115.10 L206.69,115.70 L206.89,116.10 L206.89,116.70 L206.89,117.30 L206.89,117.90 L206.70,118.49 L206.69,118.90 L206.50,119.49 L206.49,119.90 L206.30,120.49 L206.29,120.90 L206.09,121.30 L206.09,121.90 L205.89,122.30 L205.89,122.90 L205.69,123.30 L205.69,123.90 L205.49,124.30 L205.29,124.70 L205.10,125.10 L204.90,125.70 L204.70,126.10 L204.70,126.50 L204.50,126.90 L204.30,127.30 L204.10,127.70 L203.90,128.30 L203.70,128.70 L203.70,129.10 L203.50,129.50 L203.30,129.90 L203.10,130.30 L202.90,130.90 L202.70,131.30 L202.70,131.70 L202.50,132.10 L202.30,132.50 L202.10,132.90 L201.90,133.30 L201.70,133.90 L201.50,134.30 L201.50,134.70 L201.30,135.10 L200.90,135.50 L200.70,135.90 L200.49,136.10 L200.29,136.50 L200.09,136.90 L199.70,137.29 L199.50,137.69 L199.29,137.90Z" fill="#1e44a4" fill-rule="evenodd"/>
<path d="M198.90,133.92 L198.30,134.05 L197.70,134.08 L197.27,133.90 L196.90,133.56 L196.61,133.30 L196.30,132.95 L196.10,132.67 L195.85,132.30 L195.59,131.90 L195.35,131.50 L195.13,131.10 L194.92,130.70 L194.73,130.30 L194.54,129.90 L194.36,129.50 L194.20,129.10 L194.04,128.70 L193.90,128.29 L193.70,127.70 L193.59,127.30 L193.48,126.90 L193.34,126.30 L193.26,125.90 L193.15,125.30 L193.09,124.90 L193.00,124.30 L192.92,123.70 L192.87,123.30 L192.80,122.70 L192.77,122.10 L192.78,121.50 L192.72,120.90 L192.58,120.50 L192.30,120.17 L191.90,119.93 L191.50,119.79 L191.10,119.70 L190.50,119.60 L189.90,119.51 L189.50,119.46 L188.90,119.38 L188.30,119.30 L187.90,119.25 L187.30,119.16 L186.90,119.09 L186.30,118.99 L185.90,118.90 L185.30,118.78 L184.90,118.70 L184.30,118.60 L183.75,118.50 L183.30,118.42 L182.70,118.31 L182.30,118.26 L181.70,118.16 L181.30,118.08 L180.70,117.98 L180.10,117.90 L179.70,117.86 L179.10,117.78 L178.50,117.71 L178.10,117.66 L177.50,117.59 L176.90,117.51 L176.50,117.41 L175.90,117.32 L175.50,117.21 L174.92,117.10 L174.50,116.97 L174.10,116.86 L173.52,116.70 L173.10,116.54 L172.70,116.43 L172.30,116.26 L171.82,116.10 L171.39,115.90 L170.91,115.70 L170.52,115.50 L170.20,115.30 L169.79,115.10 L169.50,114.88 L169.10,114.59 L168.78,114.30 L168.70,114.09 L169.09,113.70 L169.31,113.50 L169.70,113.27 L170.10,113.04 L170.50,112.83 L170.90,112.67 L171.38,112.50 L171.90,112.30 L172.30,112.20 L172.70,112.05 L173.26,111.90 L173.70,111.77 L174.10,111.65 L174.67,111.50 L175.10,111.35 L175.50,111.27 L176.10,111.11 L176.50,111.00 L176.90,110.90 L177.50,110.72 L177.90,110.64 L178.35,110.50 L178.90,110.37 L179.30,110.27 L179.86,110.10 L180.30,110.01 L180.70,109.88 L181.30,109.81 L181.79,109.70 L182.30,109.58 L182.80,109.50 L183.30,109.35 L183.83,109.30 L184.30,109.22 L184.80,109.10 L185.30,109.06 L185.90,108.94 L186.30,108.88 L186.90,108.82 L187.50,108.72 L188.00,108.70 L188.50,108.62 L189.10,108.58 L189.70,108.56 L190.10,108.50 L190.50,108.50 L190.90,108.47 L191.50,108.40 L192.10,108.35 L192.70,108.33 L193.24,108.30 L193.70,108.28 L194.30,108.25 L194.90,108.25 L195.37,108.30 L195.90,108.39 L196.50,108.50 L196.90,108.57 L197.50,108.64 L197.90,108.71 L198.50,108.81 L198.99,108.90 L199.50,109.00 L199.90,109.11 L200.49,109.30 L200.90,109.44 L201.30,109.60 L201.70,109.76 L202.10,109.94 L202.50,110.14 L202.90,110.37 L203.27,110.70 L203.50,110.92 L203.77,111.30 L204.10,111.70 L204.30,111.96 L204.50,112.30 L204.70,112.73 L204.78,113.30 L204.72,113.90 L204.65,114.30 L204.50,114.88 L204.35,115.30 L204.18,115.70 L203.97,116.10 L203.75,116.50 L203.52,116.90 L203.30,117.22 L203.04,117.50 L202.70,117.89 L202.50,118.17 L202.29,118.50 L202.14,119.10 L202.18,119.70 L202.30,120.21 L202.45,120.70 L202.60,121.10 L202.72,121.50 L202.88,122.10 L202.97,122.50 L203.10,123.01 L203.17,123.50 L203.20,124.10 L203.21,124.70 L203.17,125.30 L203.14,125.90 L203.08,126.30 L202.99,126.90 L202.88,127.30 L202.76,127.90 L202.62,128.30 L202.50,128.78 L202.36,129.30 L202.18,129.70 L202.01,130.10 L201.84,130.50 L201.62,130.90 L201.45,131.30 L201.18,131.70 L200.95,132.10 L200.70,132.44 L200.46,132.70 L200.14,133.10 L199.90,133.30 L199.50,133.59 L199.10,133.85Z" fill="#2874cc" fill-rule="evenodd"/>
<path d="M197.50,118.73 L197.10,118.73 L196.90,118.51 L196.70,118.34 L196.50,118.23 L196.19,118.10 L195.90,118.02 L195.50,117.94 L195.22,117.90 L194.90,117.88 L194.50,117.87 L194.10,117.88 L193.71,117.90 L193.50,117.92 L193.10,117.96 L192.70,118.00 L192.30,118.00 L191.90,118.00 L191.50,118.01 L191.10,118.01 L190.70,118.00 L190.30,118.00 L189.90,117.98 L189.50,117.97 L189.10,117.95 L188.70,117.92 L188.44,117.90 L188.10,117.87 L187.70,117.83 L187.30,117.78 L186.90,117.72 L186.70,117.68 L186.30,117.62 L185.90,117.55 L185.61,117.50 L185.30,117.45 L184.90,117.38 L184.50,117.31 L184.30,117.27 L183.90,117.19 L183.50,117.11 L183.30,117.07 L182.90,116.99 L182.50,116.92 L182.30,116.88 L181.90,116.79 L181.50,116.70 L181.30,116.66 L180.90,116.59 L180.50,116.52 L180.30,116.49 L179.90,116.43 L179.50,116.37 L179.10,116.30 L178.90,116.27 L178.50,116.21 L178.10,116.15 L177.79,116.10 L177.50,116.06 L177.10,115.96 L176.82,115.90 L176.50,115.84 L176.10,115.73 L175.90,115.67 L175.50,115.58 L175.25,115.50 L174.90,115.37 L174.70,115.30 L174.30,115.16 L174.10,115.05 L173.79,114.90 L173.50,114.76 L173.30,114.64 L173.10,114.48 L172.87,114.30 L172.63,114.10 L172.81,113.90 L173.10,113.76 L173.30,113.68 L173.70,113.52 L173.90,113.43 L174.28,113.30 L174.50,113.22 L174.81,113.10 L175.10,113.01 L175.39,112.90 L175.70,112.81 L176.02,112.70 L176.30,112.60 L176.65,112.50 L176.90,112.42 L177.28,112.30 L177.50,112.23 L177.89,112.10 L178.10,112.04 L178.50,111.91 L178.70,111.84 L179.10,111.72 L179.30,111.65 L179.70,111.53 L179.90,111.46 L180.30,111.32 L180.50,111.27 L180.90,111.13 L181.10,111.08 L181.50,111.00 L181.87,110.90 L182.10,110.83 L182.50,110.71 L182.70,110.67 L183.10,110.57 L183.33,110.50 L183.70,110.41 L184.10,110.34 L184.31,110.30 L184.70,110.20 L185.10,110.11 L185.30,110.09 L185.70,110.03 L186.10,109.94 L186.30,109.89 L186.70,109.86 L187.10,109.80 L187.50,109.72 L187.90,109.70 L188.10,109.69 L188.50,109.65 L188.90,109.59 L189.30,109.59 L189.70,109.59 L190.10,109.56 L190.50,109.54 L190.90,109.54 L191.30,109.52 L191.70,109.51 L191.92,109.50 L192.30,109.49 L192.70,109.49 L192.90,109.50 L193.30,109.52 L193.70,109.52 L194.10,109.53 L194.50,109.54 L194.90,109.55 L195.30,109.61 L195.70,109.70 L195.90,109.74 L196.30,109.82 L196.70,109.89 L196.90,109.92 L197.30,109.97 L197.70,110.03 L198.08,110.10 L198.30,110.13 L198.70,110.21 L199.10,110.29 L199.30,110.34 L199.70,110.46 L199.90,110.52 L200.30,110.66 L200.50,110.74 L200.89,110.90 L201.10,110.99 L201.32,111.10 L201.68,111.30 L201.90,111.43 L202.10,111.58 L202.30,111.80 L202.50,112.10 L202.63,112.30 L202.75,112.50 L202.90,112.75 L203.06,113.10 L203.12,113.30 L203.11,113.70 L203.07,113.90 L202.94,114.30 L202.86,114.50 L202.70,114.83 L202.54,115.10 L202.40,115.30 L202.25,115.50 L202.08,115.70 L201.88,115.90 L201.67,116.10 L201.44,116.30 L201.19,116.50 L200.92,116.70 L200.70,116.86 L200.50,116.99 L200.30,117.12 L200.00,117.30 L199.70,117.46 L199.50,117.57 L199.25,117.70 L198.90,117.89 L198.70,118.00 L198.50,118.11 L198.18,118.30 L197.90,118.48 L197.70,118.62 L197.50,118.73ZM198.70,131.51 L198.50,131.54 L198.30,131.55 L198.10,131.55 L197.90,131.53 L197.72,131.50 L197.70,131.50 L197.50,131.44 L197.30,131.37 L197.15,131.30 L197.10,131.28 L196.93,131.10 L196.90,131.07 L196.79,130.90 L196.70,130.76 L196.66,130.70 L196.54,130.50 L196.50,130.43 L196.43,130.30 L196.32,130.10 L196.30,130.07 L196.21,129.90 L196.11,129.70 L196.10,129.67 L196.02,129.50 L195.93,129.30 L195.90,129.24 L195.84,129.10 L195.75,128.90 L195.70,128.78 L195.67,128.70 L195.59,128.50 L195.52,128.30 L195.50,128.23 L195.46,128.10 L195.39,127.90 L195.33,127.70 L195.30,127.60 L195.27,127.50 L195.22,127.30 L195.17,127.10 L195.12,126.90 L195.10,126.79 L195.08,126.70 L195.04,126.50 L195.01,126.30 L194.98,126.10 L194.95,125.90 L194.92,125.70 L194.90,125.50 L194.90,125.50 L194.88,125.30 L194.87,125.10 L194.86,124.90 L194.85,124.70 L194.84,124.50 L194.84,124.30 L194.85,124.10 L194.86,123.90 L194.87,123.70 L194.88,123.50 L194.90,123.32 L194.90,123.30 L194.92,123.10 L194.95,122.90 L194.98,122.70 L195.01,122.50 L195.04,122.30 L195.08,122.10 L195.10,122.03 L195.13,121.90 L195.19,121.70 L195.30,121.50 L195.30,121.49 L195.40,121.30 L195.50,121.13 L195.52,121.10 L195.64,120.90 L195.70,120.81 L195.78,120.70 L195.90,120.52 L195.92,120.50 L196.06,120.30 L196.10,120.25 L196.21,120.10 L196.30,119.99 L196.37,119.90 L196.50,119.74 L196.53,119.70 L196.69,119.50 L196.70,119.48 L196.85,119.30 L196.90,119.21 L197.08,119.10 L197.10,119.08 L197.30,118.95 L197.50,118.94 L197.70,119.00 L197.89,119.10 L197.90,119.10 L198.10,119.19 L198.28,119.30 L198.30,119.31 L198.50,119.42 L198.62,119.50 L198.70,119.55 L198.90,119.68 L198.92,119.70 L199.10,119.83 L199.19,119.90 L199.30,119.98 L199.44,120.10 L199.50,120.15 L199.67,120.30 L199.70,120.33 L199.88,120.50 L199.90,120.52 L200.07,120.70 L200.10,120.73 L200.24,120.90 L200.30,120.97 L200.40,121.10 L200.50,121.23 L200.55,121.30 L200.69,121.50 L200.70,121.52 L200.81,121.70 L200.90,121.85 L200.93,121.90 L201.04,122.10 L201.10,122.22 L201.14,122.30 L201.24,122.50 L201.30,122.62 L201.34,122.70 L201.42,122.90 L201.49,123.10 L201.50,123.15 L201.54,123.30 L201.58,123.50 L201.63,123.70 L201.67,123.90 L201.70,124.07 L201.71,124.10 L201.75,124.30 L201.76,124.50 L201.77,124.70 L201.79,124.90 L201.80,125.10 L201.81,125.30 L201.82,125.50 L201.81,125.70 L201.81,125.90 L201.81,126.10 L201.79,126.30 L201.76,126.50 L201.73,126.70 L201.70,126.88 L201.70,126.90 L201.67,127.10 L201.64,127.30 L201.59,127.50 L201.53,127.70 L201.50,127.79 L201.47,127.90 L201.42,128.10 L201.37,128.30 L201.30,128.50 L201.30,128.50 L201.24,128.70 L201.17,128.90 L201.10,129.05 L201.08,129.10 L200.96,129.30 L200.90,129.42 L200.86,129.50 L200.76,129.70 L200.70,129.82 L200.66,129.90 L200.51,130.10 L200.50,130.11 L200.34,130.30 L200.30,130.36 L200.19,130.50 L200.10,130.62 L200.03,130.70 L199.90,130.83 L199.81,130.90 L199.70,130.98 L199.53,131.10 L199.50,131.12 L199.30,131.25 L199.21,131.30 L199.10,131.36 L198.90,131.45 L198.74,131.50 L198.70,131.51Z" fill="#45bde0" fill-rule="evenodd"/>
<path d="M191.90,116.92 L191.70,116.95 L191.50,116.96 L191.30,116.97 L191.10,116.98 L190.90,116.98 L190.70,116.99 L190.50,116.99 L190.30,116.99 L190.10,116.99 L189.90,116.99 L189.70,116.99 L189.50,116.98 L189.30,116.98 L189.10,116.96 L188.90,116.95 L188.70,116.94 L188.50,116.92 L188.30,116.91 L188.25,116.90 L188.10,116.89 L187.90,116.86 L187.70,116.84 L187.50,116.81 L187.30,116.78 L187.10,116.75 L186.90,116.71 L186.81,116.70 L186.70,116.68 L186.50,116.65 L186.30,116.61 L186.10,116.58 L185.90,116.54 L185.70,116.51 L185.67,116.50 L185.50,116.47 L185.30,116.43 L185.10,116.39 L184.90,116.34 L184.71,116.30 L184.70,116.30 L184.50,116.25 L184.30,116.20 L184.10,116.15 L183.90,116.10 L183.90,116.10 L183.70,116.05 L183.50,116.00 L183.30,115.95 L183.10,115.90 L183.08,115.90 L182.90,115.85 L182.70,115.79 L182.50,115.73 L182.41,115.70 L182.30,115.67 L182.10,115.60 L181.90,115.54 L181.76,115.50 L181.70,115.48 L181.50,115.42 L181.30,115.37 L181.10,115.31 L181.05,115.30 L180.90,115.25 L180.70,115.20 L180.50,115.14 L180.36,115.10 L180.30,115.08 L180.10,115.02 L179.90,114.97 L179.70,114.90 L179.69,114.90 L179.50,114.84 L179.30,114.78 L179.10,114.71 L179.06,114.70 L178.90,114.64 L178.70,114.58 L178.50,114.50 L178.49,114.50 L178.31,114.30 L178.50,114.15 L178.56,114.10 L178.70,114.00 L178.82,113.90 L178.90,113.85 L179.09,113.70 L179.10,113.69 L179.30,113.58 L179.42,113.50 L179.50,113.45 L179.70,113.32 L179.74,113.30 L179.90,113.21 L180.09,113.10 L180.10,113.10 L180.30,112.98 L180.44,112.90 L180.50,112.86 L180.70,112.76 L180.82,112.70 L180.90,112.66 L181.10,112.56 L181.23,112.50 L181.30,112.47 L181.50,112.40 L181.70,112.33 L181.76,112.30 L181.90,112.25 L182.10,112.16 L182.23,112.10 L182.30,112.07 L182.50,111.98 L182.70,111.91 L182.73,111.90 L182.90,111.84 L183.10,111.77 L183.30,111.70 L183.30,111.70 L183.50,111.62 L183.70,111.54 L183.86,111.50 L183.90,111.49 L184.10,111.44 L184.30,111.39 L184.50,111.33 L184.60,111.30 L184.70,111.27 L184.90,111.20 L185.10,111.14 L185.30,111.11 L185.34,111.10 L185.50,111.07 L185.70,111.03 L185.90,110.99 L186.10,110.94 L186.25,110.90 L186.30,110.89 L186.50,110.84 L186.70,110.82 L186.90,110.79 L187.10,110.76 L187.30,110.72 L187.41,110.70 L187.50,110.68 L187.70,110.65 L187.90,110.64 L188.10,110.63 L188.30,110.61 L188.50,110.60 L188.70,110.57 L188.90,110.55 L189.10,110.53 L189.30,110.53 L189.50,110.54 L189.70,110.53 L189.90,110.53 L190.10,110.53 L190.30,110.52 L190.50,110.51 L190.70,110.52 L190.90,110.52 L191.10,110.53 L191.30,110.53 L191.50,110.53 L191.70,110.53 L191.90,110.53 L192.10,110.54 L192.30,110.55 L192.50,110.55 L192.70,110.57 L192.90,110.58 L193.10,110.60 L193.30,110.63 L193.50,110.65 L193.70,110.66 L193.90,110.68 L194.10,110.69 L194.17,110.70 L194.30,110.71 L194.50,110.73 L194.70,110.74 L194.90,110.76 L195.10,110.79 L195.30,110.85 L195.46,110.90 L195.50,110.91 L195.70,110.97 L195.90,111.03 L196.10,111.08 L196.18,111.10 L196.30,111.13 L196.50,111.18 L196.70,111.21 L196.90,111.25 L197.10,111.29 L197.15,111.30 L197.30,111.33 L197.50,111.38 L197.70,111.42 L197.90,111.45 L198.10,111.50 L198.11,111.50 L198.30,111.54 L198.50,111.59 L198.70,111.65 L198.85,111.70 L198.90,111.72 L199.10,111.79 L199.30,111.86 L199.40,111.90 L199.50,111.94 L199.70,112.03 L199.84,112.10 L199.90,112.13 L200.10,112.24 L200.21,112.30 L200.30,112.36 L200.50,112.49 L200.51,112.50 L200.70,112.65 L200.76,112.70 L200.90,112.84 L200.94,112.90 L201.03,113.10 L201.08,113.30 L201.10,113.38 L201.12,113.50 L201.14,113.70 L201.15,113.90 L201.13,114.10 L201.10,114.16 L201.05,114.30 L200.91,114.50 L200.90,114.51 L200.74,114.70 L200.70,114.74 L200.53,114.90 L200.50,114.93 L200.30,115.09 L200.29,115.10 L200.10,115.24 L200.00,115.30 L199.90,115.36 L199.70,115.48 L199.66,115.50 L199.50,115.58 L199.30,115.67 L199.23,115.70 L199.10,115.75 L198.90,115.83 L198.70,115.90 L198.70,115.90 L198.50,115.96 L198.30,116.02 L198.10,116.08 L198.01,116.10 L197.90,116.13 L197.70,116.18 L197.50,116.22 L197.30,116.27 L197.10,116.27 L196.90,116.27 L196.70,116.26 L196.50,116.26 L196.30,116.26 L196.10,116.27 L195.90,116.27 L195.70,116.28 L195.50,116.30 L195.50,116.30 L195.30,116.32 L195.10,116.34 L194.90,116.37 L194.70,116.39 L194.50,116.42 L194.30,116.46 L194.10,116.49 L194.06,116.50 L193.90,116.53 L193.70,116.57 L193.50,116.61 L193.30,116.65 L193.10,116.69 L193.04,116.70 L192.90,116.73 L192.70,116.77 L192.50,116.81 L192.30,116.85 L192.10,116.88 L192.01,116.90 L191.90,116.92ZM198.70,128.94 L198.50,128.99 L198.30,129.01 L198.10,128.99 L197.90,128.93 L197.81,128.90 L197.70,128.85 L197.50,128.74 L197.45,128.70 L197.30,128.58 L197.21,128.50 L197.10,128.39 L197.03,128.30 L196.90,128.13 L196.88,128.10 L196.75,127.90 L196.70,127.82 L196.66,127.70 L196.59,127.50 L196.51,127.30 L196.50,127.27 L196.45,127.10 L196.40,126.90 L196.36,126.70 L196.33,126.50 L196.30,126.35 L196.29,126.30 L196.26,126.10 L196.24,125.90 L196.22,125.70 L196.20,125.50 L196.20,125.30 L196.20,125.10 L196.20,124.90 L196.22,124.70 L196.24,124.50 L196.27,124.30 L196.30,124.18 L196.32,124.10 L196.39,123.90 L196.48,123.70 L196.50,123.66 L196.59,123.50 L196.70,123.32 L196.71,123.30 L196.87,123.10 L196.90,123.06 L197.05,122.90 L197.10,122.85 L197.29,122.70 L197.30,122.69 L197.50,122.58 L197.70,122.51 L197.74,122.50 L197.90,122.47 L198.10,122.45 L198.30,122.47 L198.43,122.50 L198.50,122.52 L198.70,122.59 L198.90,122.70 L198.90,122.70 L199.10,122.84 L199.17,122.90 L199.30,123.02 L199.37,123.10 L199.50,123.24 L199.54,123.30 L199.69,123.50 L199.70,123.52 L199.79,123.70 L199.89,123.90 L199.90,123.93 L199.97,124.10 L200.04,124.30 L200.10,124.50 L200.10,124.50 L200.16,124.70 L200.21,124.90 L200.24,125.10 L200.27,125.30 L200.30,125.50 L200.30,125.63 L200.30,125.70 L200.30,125.74 L200.29,125.90 L200.27,126.10 L200.26,126.30 L200.24,126.50 L200.22,126.70 L200.16,126.90 L200.10,127.10 L200.10,127.10 L200.03,127.30 L199.97,127.50 L199.90,127.70 L199.90,127.70 L199.80,127.90 L199.70,128.09 L199.70,128.10 L199.57,128.30 L199.50,128.39 L199.38,128.50 L199.30,128.57 L199.13,128.70 L199.10,128.73 L198.90,128.85 L198.79,128.90 L198.70,128.94Z" fill="#78c858" fill-rule="evenodd"/>
<path d="M190.70,116.32 L190.50,116.33 L190.30,116.33 L190.10,116.33 L189.90,116.33 L189.70,116.32 L189.50,116.32 L189.30,116.31 L189.12,116.30 L189.10,116.30 L188.90,116.29 L188.70,116.27 L188.50,116.26 L188.30,116.23 L188.10,116.21 L187.90,116.18 L187.70,116.15 L187.50,116.12 L187.35,116.10 L187.30,116.09 L187.10,116.06 L186.90,116.02 L186.70,115.99 L186.50,115.95 L186.30,115.91 L186.24,115.90 L186.10,115.87 L185.90,115.83 L185.70,115.79 L185.50,115.74 L185.34,115.70 L185.30,115.69 L185.10,115.64 L184.90,115.58 L184.70,115.53 L184.61,115.50 L184.50,115.47 L184.30,115.40 L184.10,115.34 L183.97,115.30 L183.90,115.28 L183.70,115.21 L183.50,115.15 L183.35,115.10 L183.30,115.08 L183.10,115.00 L182.90,114.92 L182.85,114.90 L182.70,114.83 L182.50,114.74 L182.40,114.70 L182.30,114.59 L182.20,114.50 L182.17,114.30 L182.20,114.10 L182.29,113.90 L182.30,113.88 L182.40,113.70 L182.50,113.58 L182.56,113.50 L182.70,113.35 L182.75,113.30 L182.90,113.19 L183.03,113.10 L183.10,113.06 L183.30,112.92 L183.33,112.90 L183.50,112.80 L183.65,112.70 L183.70,112.67 L183.90,112.56 L184.03,112.50 L184.10,112.48 L184.30,112.40 L184.50,112.31 L184.53,112.30 L184.70,112.23 L184.90,112.15 L185.00,112.10 L185.10,112.06 L185.30,111.99 L185.50,111.94 L185.65,111.90 L185.70,111.89 L185.90,111.83 L186.10,111.78 L186.30,111.72 L186.36,111.70 L186.50,111.66 L186.70,111.61 L186.90,111.58 L187.10,111.54 L187.30,111.50 L187.32,111.50 L187.50,111.46 L187.70,111.42 L187.90,111.40 L188.10,111.39 L188.30,111.37 L188.50,111.35 L188.70,111.33 L188.90,111.31 L189.01,111.30 L189.10,111.29 L189.30,111.28 L189.50,111.29 L189.70,111.29 L189.90,111.30 L190.10,111.30 L190.30,111.30 L190.50,111.30 L190.70,111.30 L190.73,111.30 L190.90,111.32 L191.10,111.33 L191.30,111.35 L191.50,111.36 L191.70,111.38 L191.90,111.39 L192.10,111.40 L192.30,111.42 L192.50,111.45 L192.70,111.47 L192.90,111.49 L192.96,111.50 L193.10,111.52 L193.30,111.56 L193.50,111.60 L193.70,111.65 L193.90,111.68 L193.99,111.70 L194.10,111.72 L194.30,111.76 L194.50,111.79 L194.70,111.82 L194.90,111.86 L195.04,111.90 L195.10,111.92 L195.30,112.02 L195.47,112.10 L195.50,112.11 L195.70,112.22 L195.87,112.30 L195.90,112.32 L196.10,112.41 L196.30,112.49 L196.32,112.50 L196.50,112.57 L196.70,112.66 L196.79,112.70 L196.90,112.76 L197.10,112.86 L197.19,112.90 L197.30,112.96 L197.50,113.07 L197.57,113.10 L197.70,113.19 L197.84,113.30 L197.90,113.38 L197.98,113.50 L198.04,113.70 L198.02,113.90 L197.90,114.08 L197.89,114.10 L197.70,114.25 L197.64,114.30 L197.50,114.38 L197.30,114.49 L197.28,114.50 L197.10,114.57 L196.90,114.64 L196.74,114.70 L196.70,114.71 L196.50,114.78 L196.30,114.85 L196.17,114.90 L196.10,114.92 L195.90,114.99 L195.70,115.06 L195.60,115.10 L195.50,115.13 L195.30,115.21 L195.10,115.29 L195.06,115.30 L194.90,115.34 L194.70,115.38 L194.50,115.44 L194.30,115.49 L194.27,115.50 L194.10,115.54 L193.90,115.59 L193.70,115.64 L193.50,115.69 L193.48,115.70 L193.30,115.74 L193.10,115.79 L192.90,115.85 L192.70,115.90 L192.69,115.90 L192.50,115.95 L192.30,116.00 L192.10,116.05 L191.90,116.10 L191.89,116.10 L191.70,116.14 L191.50,116.19 L191.30,116.23 L191.10,116.26 L190.90,116.30 L190.89,116.30 L190.70,116.32Z" fill="#f0e23c" fill-rule="evenodd"/>
<path d="M189.70,115.50 L189.50,115.52 L189.30,115.54 L189.10,115.55 L188.90,115.56 L188.70,115.57 L188.50,115.56 L188.30,115.55 L188.10,115.54 L187.90,115.52 L187.70,115.50 L187.70,115.50 L187.50,115.45 L187.30,115.41 L187.10,115.38 L186.90,115.35 L186.70,115.31 L186.65,115.30 L186.50,115.24 L186.30,115.18 L186.10,115.13 L185.97,115.10 L185.90,115.07 L185.70,114.98 L185.55,114.90 L185.50,114.87 L185.30,114.71 L185.29,114.70 L185.11,114.50 L185.10,114.48 L185.01,114.30 L184.97,114.10 L184.99,113.90 L185.07,113.70 L185.10,113.65 L185.20,113.50 L185.30,113.38 L185.39,113.30 L185.50,113.22 L185.70,113.10 L185.70,113.10 L185.90,113.00 L186.08,112.90 L186.10,112.89 L186.30,112.80 L186.50,112.70 L186.50,112.70 L186.70,112.61 L186.90,112.56 L187.10,112.50 L187.10,112.50 L187.30,112.45 L187.50,112.40 L187.70,112.34 L187.86,112.30 L187.90,112.29 L188.10,112.27 L188.30,112.26 L188.50,112.24 L188.70,112.22 L188.90,112.20 L189.10,112.18 L189.30,112.16 L189.50,112.17 L189.70,112.19 L189.90,112.20 L190.10,112.21 L190.30,112.22 L190.50,112.24 L190.70,112.25 L190.90,112.27 L191.05,112.30 L191.10,112.31 L191.30,112.35 L191.50,112.40 L191.70,112.44 L191.90,112.49 L191.94,112.50 L192.10,112.54 L192.30,112.60 L192.50,112.66 L192.60,112.70 L192.70,112.75 L192.90,112.84 L193.02,112.90 L193.10,112.95 L193.30,113.09 L193.32,113.10 L193.50,113.30 L193.50,113.30 L193.59,113.50 L193.59,113.70 L193.50,113.90 L193.50,113.90 L193.34,114.10 L193.30,114.13 L193.11,114.30 L193.10,114.31 L192.90,114.43 L192.79,114.50 L192.70,114.55 L192.50,114.65 L192.41,114.70 L192.30,114.75 L192.10,114.85 L191.98,114.90 L191.90,114.93 L191.70,115.01 L191.50,115.09 L191.47,115.10 L191.30,115.15 L191.10,115.21 L190.90,115.26 L190.75,115.30 L190.70,115.31 L190.50,115.36 L190.30,115.40 L190.10,115.44 L189.90,115.48 L189.73,115.50 L189.70,115.50Z" fill="#f08a24" fill-rule="evenodd"/>
<path d="M189.50,113.98 L189.30,114.00 L189.10,114.00 L188.90,113.99 L188.70,113.95 L188.57,113.90 L188.70,113.82 L188.88,113.70 L188.90,113.70 L189.10,113.67 L189.30,113.65 L189.50,113.64 L189.58,113.70 L189.60,113.90 L189.50,113.98Z" fill="#dc2e18" fill-rule="evenodd"/>
<path d="M133.60,193.59 L133.20,193.39 L132.80,193.19 L132.40,192.99 L132.00,192.79 L131.60,192.59 L131.20,192.39 L130.81,192.00 L130.61,191.60 L130.41,191.20 L130.20,190.99 L130.00,190.59 L129.80,190.19 L129.41,189.80 L129.21,189.40 L129.01,189.00 L128.81,188.60 L128.61,188.20 L128.41,187.80 L128.21,187.40 L128.01,187.00 L128.00,186.59 L127.80,186.19 L127.60,185.79 L127.40,185.39 L127.21,184.80 L127.01,184.40 L126.81,184.00 L126.61,183.60 L126.41,183.20 L126.21,182.80 L126.01,182.40 L126.00,181.99 L125.80,181.59 L125.60,181.19 L125.41,180.60 L125.21,180.20 L125.01,179.80 L124.81,179.40 L124.60,179.19 L124.21,178.80 L124.00,178.59 L123.61,178.20 L123.41,177.80 L123.20,177.59 L122.80,177.39 L122.40,177.20 L122.00,177.00 L121.40,176.80 L121.00,176.80 L120.60,176.60 L120.20,176.40 L119.60,176.20 L119.20,176.20 L118.80,176.00 L118.40,175.80 L118.00,175.40 L117.60,175.20 L117.40,175.00 L117.00,174.80 L116.60,174.60 L116.20,174.40 L116.00,173.80 L115.80,173.40 L115.60,173.00 L115.40,172.60 L115.40,172.20 L115.20,171.60 L115.00,171.20 L115.00,170.60 L115.20,170.00 L115.20,169.60 L115.40,169.00 L115.40,168.60 L115.60,168.00 L115.80,167.60 L116.00,167.40 L116.20,167.00 L116.40,166.60 L116.80,166.20 L117.00,166.00 L117.40,165.60 L117.80,165.40 L118.00,165.20 L118.40,164.80 L118.80,164.60 L119.20,164.40 L119.60,164.20 L120.00,164.20 L120.60,164.00 L121.00,163.80 L121.40,163.60 L122.00,163.60 L122.40,163.40 L122.80,163.20 L123.21,163.20 L123.80,163.00 L124.20,162.81 L124.80,162.80 L125.40,162.80 L125.80,162.60 L126.40,162.60 L127.00,162.60 L127.40,162.60 L128.00,162.40 L128.60,162.40 L129.00,162.40 L129.60,162.20 L130.20,162.20 L130.80,162.20 L131.40,162.20 L131.80,162.00 L132.40,162.00 L133.00,162.01 L133.60,162.01 L134.20,162.01 L134.80,162.01 L135.40,162.01 L136.00,162.01 L136.60,162.00 L137.20,162.00 L137.60,162.20 L138.20,162.20 L138.80,162.20 L139.40,162.20 L140.00,162.40 L140.40,162.40 L140.80,162.60 L141.20,162.80 L141.80,163.00 L142.20,163.20 L142.60,163.20 L143.00,163.40 L143.20,163.80 L143.40,164.20 L143.80,164.60 L144.00,165.00 L144.20,165.40 L144.40,165.80 L144.60,166.20 L144.80,166.60 L145.00,167.00 L145.20,167.40 L145.20,168.00 L145.40,168.40 L145.40,169.00 L145.60,169.40 L145.60,170.00 L145.80,170.40 L145.80,171.00 L146.00,171.40 L146.00,172.00 L146.00,172.60 L145.99,173.20 L145.99,173.80 L145.99,174.40 L145.99,175.00 L145.99,175.60 L145.99,176.20 L145.99,176.80 L145.79,177.20 L145.79,177.80 L145.59,178.20 L145.59,178.80 L145.39,179.20 L145.39,179.80 L145.19,180.20 L145.19,180.80 L144.99,181.20 L144.79,181.60 L144.60,182.19 L144.40,182.59 L144.39,183.00 L144.19,183.40 L143.99,183.80 L143.79,184.20 L143.59,184.60 L143.40,185.19 L143.20,185.59 L143.19,186.00 L142.80,186.39 L142.59,186.60 L142.20,186.99 L141.99,187.20 L141.60,187.59 L141.39,187.80 L141.00,188.19 L140.79,188.40 L140.40,188.79 L140.19,189.00 L139.79,189.20 L139.40,189.59 L139.00,189.79 L138.79,190.00 L138.39,190.20 L138.00,190.59 L137.60,190.79 L137.39,191.00 L137.00,191.39 L136.60,191.59 L136.20,191.79 L135.80,191.99 L135.59,192.20 L135.19,192.40 L134.80,192.79 L134.40,192.99 L134.00,193.19 L133.79,193.40Z" fill="#1e44a4" fill-rule="evenodd"/>
<path d="M134.40,188.82 L134.00,188.88 L133.60,188.92 L133.33,188.80 L133.12,188.60 L132.91,188.40 L132.70,188.20 L132.49,188.00 L132.31,187.80 L132.15,187.60 L131.98,187.40 L131.80,187.14 L131.60,186.85 L131.44,186.60 L131.31,186.40 L131.19,186.20 L131.00,185.85 L130.89,185.60 L130.80,185.40 L130.61,185.00 L130.52,184.80 L130.40,184.53 L130.26,184.20 L130.20,183.99 L130.09,183.60 L130.00,183.33 L129.90,183.00 L129.80,182.64 L129.76,182.40 L129.68,182.00 L129.60,181.64 L129.55,181.40 L129.49,181.00 L129.45,180.60 L129.40,180.21 L129.37,180.00 L129.31,179.60 L129.26,179.20 L129.20,178.89 L129.11,178.60 L129.00,178.32 L128.83,178.00 L128.68,177.80 L128.50,177.60 L128.28,177.40 L128.00,177.21 L127.80,177.09 L127.60,176.99 L127.20,176.82 L127.00,176.74 L126.62,176.60 L126.40,176.51 L126.16,176.40 L125.80,176.24 L125.60,176.16 L125.20,176.00 L125.00,175.92 L124.71,175.80 L124.40,175.68 L124.20,175.60 L123.80,175.48 L123.52,175.40 L123.20,175.32 L122.80,175.23 L122.60,175.18 L122.20,175.09 L121.87,175.00 L121.60,174.93 L121.20,174.82 L121.00,174.76 L120.60,174.64 L120.40,174.58 L120.00,174.45 L119.80,174.40 L119.40,174.20 L119.20,174.09 L119.00,173.96 L118.71,173.80 L118.42,173.60 L118.20,173.46 L118.00,173.33 L117.80,173.17 L117.56,173.00 L117.40,172.66 L117.25,172.40 L117.13,172.20 L117.00,171.91 L116.89,171.60 L116.80,171.39 L116.70,171.00 L116.68,170.60 L116.76,170.20 L116.79,169.80 L116.87,169.60 L116.99,169.20 L117.03,169.00 L117.17,168.60 L117.34,168.40 L117.48,168.20 L117.62,168.00 L117.80,167.80 L118.00,167.55 L118.20,167.34 L118.40,167.17 L118.66,167.00 L118.98,166.80 L119.20,166.63 L119.40,166.51 L119.61,166.40 L119.94,166.20 L120.20,166.11 L120.59,166.00 L120.80,165.92 L121.16,165.80 L121.40,165.71 L121.76,165.60 L122.00,165.51 L122.40,165.42 L122.60,165.36 L123.00,165.22 L123.20,165.16 L123.60,165.03 L123.80,164.97 L124.20,164.85 L124.43,164.80 L124.80,164.68 L125.20,164.62 L125.40,164.59 L125.80,164.53 L126.20,164.43 L126.40,164.36 L126.80,164.31 L127.20,164.27 L127.60,164.23 L127.80,164.20 L128.20,164.09 L128.60,164.06 L129.00,164.04 L129.39,164.00 L129.60,163.96 L130.00,163.90 L130.40,163.90 L130.80,163.91 L131.20,163.92 L131.60,163.93 L132.00,163.93 L132.40,163.88 L132.80,163.90 L133.20,163.93 L133.60,163.96 L134.00,163.99 L134.20,164.01 L134.60,164.04 L135.00,164.07 L135.40,164.09 L135.80,164.10 L136.20,164.11 L136.60,164.11 L137.00,164.16 L137.40,164.19 L137.80,164.18 L138.20,164.17 L138.60,164.15 L139.00,164.15 L139.35,164.20 L139.60,164.25 L140.00,164.36 L140.20,164.41 L140.60,164.53 L140.82,164.60 L141.20,164.75 L141.40,164.86 L141.67,165.00 L141.87,165.20 L142.06,165.40 L142.21,165.60 L142.40,165.88 L142.60,166.20 L142.71,166.40 L142.84,166.60 L143.00,166.81 L143.20,167.18 L143.30,167.40 L143.40,167.60 L143.51,168.00 L143.58,168.40 L143.64,168.60 L143.72,169.00 L143.77,169.40 L143.81,169.60 L143.87,170.00 L143.90,170.40 L143.97,170.80 L143.96,171.20 L143.98,171.60 L144.01,171.80 L144.00,172.02 L143.96,172.40 L143.90,172.80 L143.83,173.20 L143.80,173.40 L143.72,173.80 L143.64,174.20 L143.59,174.40 L143.50,174.80 L143.40,175.20 L143.35,175.40 L143.25,175.80 L143.20,176.00 L143.04,176.40 L142.97,176.60 L142.87,177.00 L142.79,177.20 L142.68,177.60 L142.60,177.98 L142.54,178.20 L142.46,178.60 L142.40,178.96 L142.35,179.20 L142.28,179.60 L142.23,180.00 L142.19,180.20 L142.10,180.60 L142.01,181.00 L141.95,181.20 L141.83,181.60 L141.78,181.80 L141.67,182.20 L141.59,182.40 L141.46,182.80 L141.40,183.01 L141.25,183.40 L141.16,183.60 L141.02,184.00 L140.94,184.20 L140.80,184.47 L140.63,184.80 L140.48,185.00 L140.32,185.20 L140.15,185.40 L139.98,185.60 L139.80,185.80 L139.60,186.02 L139.40,186.22 L139.20,186.42 L139.00,186.61 L138.79,186.80 L138.52,187.00 L138.22,187.20 L138.00,187.34 L137.80,187.46 L137.56,187.60 L137.26,187.80 L137.00,187.92 L136.80,188.02 L136.45,188.20 L136.20,188.31 L135.96,188.40 L135.60,188.54 L135.40,188.62 L135.00,188.71 L134.60,188.78 L134.40,188.82Z" fill="#2874cc" fill-rule="evenodd"/>
<path d="M135.00,186.44 L134.60,186.48 L134.20,186.50 L133.95,186.40 L133.74,186.20 L133.55,186.00 L133.36,185.80 L133.19,185.60 L133.00,185.35 L132.80,185.04 L132.66,184.80 L132.55,184.60 L132.40,184.32 L132.24,184.00 L132.14,183.80 L132.00,183.45 L131.92,183.20 L131.80,182.80 L131.74,182.60 L131.64,182.20 L131.59,182.00 L131.53,181.60 L131.48,181.20 L131.43,180.80 L131.40,180.40 L131.40,180.00 L131.40,179.60 L131.40,179.30 L131.40,179.00 L131.40,178.72 L131.41,178.40 L131.40,178.13 L131.37,177.80 L131.28,177.40 L131.20,177.17 L131.00,176.82 L130.81,176.60 L130.60,176.41 L130.40,176.27 L130.20,176.15 L129.89,176.00 L129.60,175.88 L129.40,175.80 L129.00,175.67 L128.78,175.60 L128.40,175.49 L128.08,175.40 L127.80,175.31 L127.47,175.20 L127.20,175.11 L126.86,175.00 L126.60,174.92 L126.24,174.80 L126.00,174.72 L125.65,174.60 L125.40,174.51 L125.05,174.40 L124.80,174.33 L124.40,174.22 L124.20,174.16 L123.80,174.05 L123.57,174.00 L123.20,173.91 L122.80,173.81 L122.60,173.76 L122.20,173.65 L122.00,173.59 L121.60,173.46 L121.40,173.40 L121.00,173.26 L120.80,173.18 L120.40,173.03 L120.20,172.94 L119.98,172.80 L119.68,172.60 L119.40,172.40 L119.20,172.24 L119.00,172.09 L118.80,171.82 L118.68,171.60 L118.58,171.40 L118.44,171.00 L118.38,170.80 L118.40,170.60 L118.43,170.20 L118.53,169.80 L118.60,169.57 L118.75,169.20 L118.88,169.00 L119.02,168.80 L119.20,168.58 L119.40,168.35 L119.61,168.20 L119.89,168.00 L120.15,167.80 L120.40,167.64 L120.60,167.52 L120.92,167.40 L121.20,167.28 L121.40,167.20 L121.80,167.05 L122.00,166.97 L122.40,166.82 L122.60,166.76 L123.00,166.63 L123.20,166.55 L123.60,166.41 L123.80,166.34 L124.20,166.20 L124.40,166.13 L124.80,166.02 L125.00,165.95 L125.40,165.86 L125.71,165.80 L126.00,165.74 L126.40,165.63 L126.60,165.57 L127.00,165.50 L127.40,165.45 L127.70,165.40 L128.00,165.34 L128.40,165.25 L128.80,165.21 L129.01,165.20 L129.40,165.17 L129.80,165.12 L130.20,165.07 L130.60,165.08 L131.00,165.09 L131.40,165.11 L131.80,165.13 L132.20,165.14 L132.60,165.14 L133.00,165.18 L133.20,165.20 L133.60,165.26 L134.00,165.32 L134.40,165.38 L134.60,165.41 L135.00,165.47 L135.40,165.52 L135.80,165.57 L136.09,165.60 L136.40,165.62 L136.80,165.70 L137.20,165.74 L137.60,165.76 L138.00,165.76 L138.40,165.77 L138.80,165.77 L139.00,165.81 L139.40,165.89 L139.80,165.99 L140.00,166.06 L140.40,166.19 L140.60,166.29 L140.80,166.47 L141.00,166.71 L141.20,166.97 L141.37,167.20 L141.51,167.40 L141.66,167.60 L141.80,167.82 L141.99,168.20 L142.03,168.40 L142.14,168.80 L142.20,169.03 L142.26,169.40 L142.32,169.80 L142.38,170.20 L142.39,170.60 L142.40,170.80 L142.42,171.20 L142.40,171.52 L142.38,171.80 L142.36,172.20 L142.27,172.60 L142.20,172.89 L142.11,173.20 L142.00,173.56 L141.92,173.80 L141.80,174.14 L141.70,174.40 L141.60,174.68 L141.48,175.00 L141.40,175.21 L141.26,175.60 L141.17,175.80 L141.00,176.20 L140.94,176.40 L140.80,176.80 L140.75,177.00 L140.66,177.40 L140.60,177.72 L140.55,178.00 L140.51,178.40 L140.46,178.80 L140.42,179.20 L140.40,179.51 L140.37,179.80 L140.30,180.20 L140.22,180.60 L140.17,180.80 L140.08,181.20 L140.00,181.54 L139.92,181.80 L139.80,182.19 L139.74,182.40 L139.60,182.76 L139.50,183.00 L139.40,183.25 L139.24,183.60 L139.13,183.80 L138.97,184.00 L138.80,184.21 L138.60,184.43 L138.40,184.64 L138.20,184.84 L138.00,185.03 L137.80,185.20 L137.55,185.40 L137.22,185.60 L137.00,185.72 L136.80,185.82 L136.41,186.00 L136.20,186.09 L135.92,186.20 L135.60,186.29 L135.20,186.39 L135.00,186.44Z" fill="#45bde0" fill-rule="evenodd"/>
<path d="M135.20,184.20 L135.00,184.23 L134.80,184.24 L134.60,184.21 L134.59,184.20 L134.43,184.00 L134.40,183.96 L134.28,183.80 L134.20,183.69 L134.13,183.60 L134.00,183.40 L134.00,183.40 L133.89,183.20 L133.80,183.04 L133.78,183.00 L133.68,182.80 L133.61,182.60 L133.60,182.57 L133.54,182.40 L133.48,182.20 L133.42,182.00 L133.40,181.92 L133.37,181.80 L133.32,181.60 L133.28,181.40 L133.25,181.20 L133.23,181.00 L133.22,180.80 L133.21,180.60 L133.20,180.42 L133.20,180.40 L133.20,180.20 L133.19,180.00 L133.20,179.80 L133.20,179.79 L133.21,179.60 L133.24,179.40 L133.26,179.20 L133.29,179.00 L133.32,178.80 L133.35,178.60 L133.38,178.40 L133.40,178.29 L133.41,178.20 L133.45,178.00 L133.48,177.80 L133.52,177.60 L133.55,177.40 L133.57,177.20 L133.58,177.00 L133.58,176.80 L133.56,176.60 L133.52,176.40 L133.44,176.20 L133.40,176.11 L133.34,176.00 L133.20,175.82 L133.18,175.80 L133.00,175.63 L132.97,175.60 L132.80,175.48 L132.67,175.40 L132.60,175.36 L132.40,175.27 L132.25,175.20 L132.20,175.18 L132.00,175.11 L131.80,175.04 L131.68,175.00 L131.60,174.98 L131.40,174.92 L131.20,174.87 L131.00,174.82 L130.94,174.80 L130.80,174.77 L130.60,174.72 L130.40,174.68 L130.20,174.63 L130.06,174.60 L130.00,174.59 L129.80,174.54 L129.60,174.50 L129.40,174.46 L129.20,174.41 L129.15,174.40 L129.00,174.36 L128.80,174.30 L128.60,174.25 L128.44,174.20 L128.40,174.19 L128.20,174.13 L128.00,174.07 L127.80,174.01 L127.76,174.00 L127.60,173.95 L127.40,173.89 L127.20,173.83 L127.11,173.80 L127.00,173.76 L126.80,173.70 L126.60,173.62 L126.53,173.60 L126.40,173.56 L126.20,173.49 L126.00,173.42 L125.95,173.40 L125.80,173.35 L125.60,173.28 L125.40,173.22 L125.34,173.20 L125.20,173.16 L125.00,173.10 L124.80,173.03 L124.70,173.00 L124.60,172.97 L124.40,172.90 L124.20,172.84 L124.05,172.80 L124.00,172.79 L123.80,172.73 L123.60,172.67 L123.40,172.60 L123.40,172.60 L123.20,172.54 L123.00,172.47 L122.81,172.40 L122.80,172.40 L122.60,172.33 L122.40,172.25 L122.29,172.20 L122.20,172.16 L122.00,172.08 L121.82,172.00 L121.80,171.99 L121.60,171.89 L121.40,171.80 L121.40,171.80 L121.20,171.69 L121.04,171.60 L121.00,171.57 L120.80,171.42 L120.78,171.40 L120.60,171.23 L120.56,171.20 L120.40,171.03 L120.37,171.00 L120.24,170.80 L120.20,170.63 L120.19,170.60 L120.20,170.51 L120.21,170.40 L120.24,170.20 L120.29,170.00 L120.37,169.80 L120.40,169.75 L120.49,169.60 L120.60,169.47 L120.67,169.40 L120.80,169.27 L120.87,169.20 L121.00,169.08 L121.08,169.00 L121.20,168.91 L121.39,168.80 L121.40,168.80 L121.60,168.69 L121.75,168.60 L121.80,168.57 L122.00,168.48 L122.15,168.40 L122.20,168.37 L122.40,168.27 L122.56,168.20 L122.60,168.18 L122.80,168.10 L123.00,168.02 L123.04,168.00 L123.20,167.94 L123.40,167.85 L123.51,167.80 L123.60,167.76 L123.80,167.67 L123.97,167.60 L124.00,167.59 L124.20,167.50 L124.40,167.42 L124.44,167.40 L124.60,167.34 L124.80,167.26 L124.98,167.20 L125.00,167.19 L125.20,167.12 L125.40,167.06 L125.60,167.01 L125.64,167.00 L125.80,166.96 L126.00,166.91 L126.20,166.85 L126.38,166.80 L126.40,166.80 L126.60,166.73 L126.80,166.67 L127.00,166.62 L127.12,166.60 L127.20,166.59 L127.40,166.55 L127.60,166.52 L127.80,166.48 L128.00,166.44 L128.19,166.40 L128.20,166.40 L128.40,166.35 L128.60,166.31 L128.80,166.28 L129.00,166.27 L129.20,166.25 L129.40,166.23 L129.60,166.21 L129.71,166.20 L129.80,166.19 L130.00,166.17 L130.20,166.14 L130.40,166.14 L130.60,166.14 L130.80,166.15 L131.00,166.16 L131.20,166.17 L131.40,166.19 L131.54,166.20 L131.60,166.21 L131.80,166.22 L132.00,166.24 L132.20,166.26 L132.40,166.27 L132.60,166.29 L132.80,166.30 L133.00,166.33 L133.20,166.37 L133.37,166.40 L133.40,166.41 L133.60,166.45 L133.80,166.50 L134.00,166.54 L134.20,166.59 L134.24,166.60 L134.40,166.64 L134.60,166.69 L134.80,166.74 L135.00,166.79 L135.05,166.80 L135.20,166.84 L135.40,166.89 L135.60,166.93 L135.80,166.98 L135.92,167.00 L136.00,167.02 L136.20,167.06 L136.40,167.12 L136.60,167.17 L136.72,167.20 L136.80,167.22 L137.00,167.26 L137.20,167.29 L137.40,167.32 L137.60,167.34 L137.80,167.36 L138.00,167.37 L138.20,167.38 L138.40,167.40 L138.41,167.40 L138.60,167.42 L138.80,167.47 L139.00,167.53 L139.20,167.59 L139.24,167.60 L139.40,167.66 L139.57,167.80 L139.60,167.83 L139.76,168.00 L139.80,168.05 L139.93,168.20 L140.00,168.28 L140.10,168.40 L140.20,168.52 L140.26,168.60 L140.35,168.80 L140.40,168.95 L140.42,169.00 L140.48,169.20 L140.54,169.40 L140.58,169.60 L140.60,169.72 L140.61,169.80 L140.64,170.00 L140.66,170.20 L140.69,170.40 L140.69,170.60 L140.68,170.80 L140.68,171.00 L140.66,171.20 L140.65,171.40 L140.63,171.60 L140.60,171.72 L140.58,171.80 L140.54,172.00 L140.49,172.20 L140.44,172.40 L140.40,172.51 L140.37,172.60 L140.27,172.80 L140.20,172.95 L140.17,173.00 L140.07,173.20 L140.00,173.32 L139.95,173.40 L139.83,173.60 L139.80,173.65 L139.70,173.80 L139.60,173.97 L139.58,174.00 L139.45,174.20 L139.40,174.27 L139.32,174.40 L139.20,174.58 L139.19,174.60 L139.07,174.80 L139.00,174.92 L138.96,175.00 L138.85,175.20 L138.80,175.31 L138.75,175.40 L138.65,175.60 L138.60,175.72 L138.57,175.80 L138.50,176.00 L138.45,176.20 L138.41,176.40 L138.40,176.46 L138.38,176.60 L138.37,176.80 L138.37,177.00 L138.37,177.20 L138.38,177.40 L138.39,177.60 L138.40,177.71 L138.41,177.80 L138.43,178.00 L138.45,178.20 L138.46,178.40 L138.47,178.60 L138.49,178.80 L138.50,179.00 L138.51,179.20 L138.51,179.40 L138.50,179.60 L138.48,179.80 L138.45,180.00 L138.43,180.20 L138.40,180.40 L138.40,180.40 L138.37,180.60 L138.33,180.80 L138.28,181.00 L138.23,181.20 L138.20,181.32 L138.18,181.40 L138.12,181.60 L138.06,181.80 L138.00,181.95 L137.98,182.00 L137.89,182.20 L137.81,182.40 L137.80,182.41 L137.71,182.60 L137.60,182.79 L137.59,182.80 L137.41,183.00 L137.40,183.01 L137.21,183.20 L137.20,183.21 L137.00,183.39 L136.99,183.40 L136.80,183.56 L136.74,183.60 L136.60,183.70 L136.45,183.80 L136.40,183.83 L136.20,183.93 L136.02,184.00 L136.00,184.01 L135.80,184.07 L135.60,184.12 L135.40,184.17 L135.20,184.20 L135.20,184.20Z" fill="#78c858" fill-rule="evenodd"/>
<path d="M133.00,174.01 L132.80,174.04 L132.60,174.06 L132.40,174.06 L132.20,174.04 L132.00,174.01 L131.93,174.00 L131.80,173.98 L131.60,173.96 L131.40,173.93 L131.20,173.90 L131.00,173.87 L130.80,173.84 L130.60,173.81 L130.52,173.80 L130.40,173.78 L130.20,173.75 L130.00,173.71 L129.80,173.67 L129.60,173.62 L129.51,173.60 L129.40,173.57 L129.20,173.52 L129.00,173.47 L128.80,173.42 L128.74,173.40 L128.60,173.36 L128.40,173.30 L128.20,173.24 L128.05,173.20 L128.00,173.18 L127.80,173.12 L127.60,173.05 L127.46,173.00 L127.40,172.98 L127.20,172.91 L127.00,172.83 L126.91,172.80 L126.80,172.76 L126.60,172.68 L126.40,172.61 L126.38,172.60 L126.20,172.53 L126.00,172.46 L125.85,172.40 L125.80,172.38 L125.60,172.31 L125.40,172.23 L125.31,172.20 L125.20,172.15 L125.00,172.07 L124.81,172.00 L124.80,171.99 L124.60,171.91 L124.40,171.84 L124.30,171.80 L124.20,171.76 L124.00,171.68 L123.83,171.60 L123.80,171.59 L123.60,171.50 L123.40,171.40 L123.40,171.40 L123.20,171.30 L123.01,171.20 L123.00,171.19 L122.80,171.07 L122.69,171.00 L122.60,170.94 L122.40,170.81 L122.39,170.80 L122.20,170.64 L122.15,170.60 L122.00,170.47 L121.93,170.40 L121.88,170.20 L122.00,170.08 L122.08,170.00 L122.20,169.89 L122.30,169.80 L122.40,169.73 L122.56,169.60 L122.60,169.57 L122.80,169.43 L122.84,169.40 L123.00,169.30 L123.17,169.20 L123.20,169.19 L123.40,169.08 L123.53,169.00 L123.60,168.96 L123.80,168.85 L123.88,168.80 L124.00,168.73 L124.20,168.62 L124.24,168.60 L124.40,168.52 L124.60,168.41 L124.61,168.40 L124.80,168.31 L125.00,168.22 L125.04,168.20 L125.20,168.13 L125.40,168.04 L125.52,168.00 L125.60,167.98 L125.80,167.92 L126.00,167.85 L126.16,167.80 L126.20,167.79 L126.40,167.72 L126.60,167.65 L126.74,167.60 L126.80,167.58 L127.00,167.51 L127.20,167.46 L127.40,167.42 L127.49,167.40 L127.60,167.38 L127.80,167.33 L128.00,167.29 L128.20,167.24 L128.39,167.20 L128.40,167.20 L128.60,167.15 L128.80,167.11 L129.00,167.09 L129.20,167.07 L129.40,167.05 L129.60,167.03 L129.80,167.01 L129.88,167.00 L130.00,166.99 L130.20,166.97 L130.40,166.95 L130.60,166.96 L130.80,166.97 L131.00,166.98 L131.20,167.00 L131.23,167.00 L131.40,167.02 L131.60,167.04 L131.80,167.07 L132.00,167.09 L132.20,167.12 L132.40,167.15 L132.60,167.17 L132.79,167.20 L132.80,167.20 L133.00,167.23 L133.20,167.28 L133.40,167.34 L133.60,167.40 L133.62,167.40 L133.80,167.46 L134.00,167.53 L134.20,167.59 L134.22,167.60 L134.40,167.66 L134.60,167.74 L134.77,167.80 L134.80,167.81 L135.00,167.89 L135.20,167.96 L135.30,168.00 L135.40,168.04 L135.60,168.11 L135.80,168.19 L135.84,168.20 L136.00,168.26 L136.20,168.35 L136.31,168.40 L136.40,168.44 L136.60,168.52 L136.80,168.60 L136.82,168.60 L137.00,168.66 L137.20,168.72 L137.40,168.77 L137.57,168.80 L137.60,168.81 L137.80,168.84 L138.00,168.88 L138.20,168.91 L138.40,168.99 L138.41,169.00 L138.57,169.20 L138.60,169.24 L138.69,169.40 L138.76,169.60 L138.80,169.73 L138.82,169.80 L138.85,170.00 L138.86,170.20 L138.87,170.40 L138.87,170.60 L138.86,170.80 L138.82,171.00 L138.80,171.07 L138.77,171.20 L138.70,171.40 L138.63,171.60 L138.60,171.67 L138.54,171.80 L138.43,172.00 L138.40,172.05 L138.30,172.20 L138.20,172.33 L138.15,172.40 L138.00,172.57 L137.98,172.60 L137.80,172.79 L137.79,172.80 L137.60,172.96 L137.54,173.00 L137.40,173.11 L137.28,173.20 L137.20,173.26 L137.00,173.39 L136.99,173.40 L136.80,173.53 L136.65,173.60 L136.60,173.62 L136.40,173.62 L136.20,173.62 L136.00,173.62 L135.80,173.63 L135.60,173.65 L135.40,173.67 L135.20,173.69 L135.00,173.71 L134.80,173.74 L134.60,173.77 L134.42,173.80 L134.40,173.80 L134.20,173.83 L134.00,173.87 L133.80,173.90 L133.60,173.93 L133.40,173.96 L133.20,173.99 L133.09,174.00 L133.00,174.01ZM135.20,182.01 L135.20,182.00 L135.11,181.80 L135.04,181.60 L135.00,181.49 L134.97,181.40 L134.92,181.20 L134.87,181.00 L134.83,180.80 L134.81,180.60 L134.81,180.40 L134.82,180.20 L134.83,180.00 L134.85,179.80 L134.87,179.60 L134.91,179.40 L134.96,179.20 L135.00,179.13 L135.14,179.00 L135.20,178.94 L135.39,178.80 L135.40,178.79 L135.60,178.67 L135.74,178.60 L135.80,178.57 L136.00,178.55 L136.05,178.60 L136.17,178.80 L136.20,178.85 L136.26,179.00 L136.32,179.20 L136.38,179.40 L136.40,179.50 L136.42,179.60 L136.44,179.80 L136.46,180.00 L136.45,180.20 L136.43,180.40 L136.40,180.57 L136.40,180.60 L136.35,180.80 L136.30,181.00 L136.23,181.20 L136.20,181.26 L136.13,181.40 L136.01,181.60 L136.00,181.62 L135.80,181.78 L135.77,181.80 L135.60,181.89 L135.40,181.96 L135.23,182.00 L135.20,182.01Z" fill="#f0e23c" fill-rule="evenodd"/>
<path d="M132.20,173.02 L132.00,173.06 L131.80,173.09 L131.60,173.10 L131.40,173.09 L131.20,173.07 L131.00,173.05 L130.80,173.03 L130.62,173.00 L130.60,173.00 L130.40,172.96 L130.20,172.92 L130.00,172.88 L129.80,172.84 L129.64,172.80 L129.60,172.79 L129.40,172.74 L129.20,172.69 L129.00,172.63 L128.88,172.60 L128.80,172.58 L128.60,172.51 L128.40,172.45 L128.26,172.40 L128.20,172.38 L128.00,172.30 L127.80,172.23 L127.73,172.20 L127.60,172.15 L127.40,172.06 L127.25,172.00 L127.20,171.98 L127.00,171.89 L126.80,171.80 L126.79,171.80 L126.60,171.71 L126.40,171.62 L126.36,171.60 L126.20,171.52 L126.00,171.43 L125.95,171.40 L125.80,171.32 L125.60,171.22 L125.57,171.20 L125.40,171.10 L125.22,171.00 L125.20,170.99 L125.00,170.86 L124.89,170.80 L124.80,170.74 L124.60,170.61 L124.59,170.60 L124.40,170.45 L124.33,170.40 L124.30,170.20 L124.40,170.09 L124.48,170.00 L124.60,169.88 L124.69,169.80 L124.80,169.70 L124.91,169.60 L125.00,169.53 L125.17,169.40 L125.20,169.38 L125.40,169.25 L125.48,169.20 L125.60,169.13 L125.80,169.04 L125.89,169.00 L126.00,168.95 L126.20,168.86 L126.34,168.80 L126.40,168.77 L126.60,168.69 L126.79,168.60 L126.80,168.59 L127.00,168.50 L127.20,168.43 L127.29,168.40 L127.40,168.37 L127.60,168.32 L127.80,168.26 L128.00,168.21 L128.03,168.20 L128.20,168.15 L128.40,168.10 L128.60,168.05 L128.77,168.00 L128.80,167.99 L129.00,167.96 L129.20,167.93 L129.40,167.91 L129.60,167.89 L129.80,167.87 L130.00,167.85 L130.20,167.83 L130.40,167.81 L130.60,167.81 L130.80,167.83 L131.00,167.85 L131.20,167.87 L131.40,167.90 L131.60,167.93 L131.80,167.97 L131.95,168.00 L132.00,168.01 L132.20,168.05 L132.40,168.10 L132.60,168.14 L132.80,168.19 L132.84,168.20 L133.00,168.24 L133.20,168.30 L133.40,168.39 L133.43,168.40 L133.60,168.48 L133.80,168.58 L133.84,168.60 L134.00,168.69 L134.19,168.80 L134.20,168.80 L134.40,168.93 L134.51,169.00 L134.60,169.06 L134.79,169.20 L134.80,169.20 L135.00,169.36 L135.05,169.40 L135.20,169.53 L135.29,169.60 L135.40,169.71 L135.50,169.80 L135.60,169.91 L135.69,170.00 L135.80,170.13 L135.85,170.20 L135.96,170.40 L136.00,170.50 L136.05,170.60 L136.11,170.80 L136.15,171.00 L136.16,171.20 L136.13,171.40 L136.00,171.49 L135.80,171.60 L135.80,171.60 L135.60,171.70 L135.42,171.80 L135.40,171.81 L135.20,171.91 L135.02,172.00 L135.00,172.01 L134.80,172.11 L134.61,172.20 L134.60,172.20 L134.40,172.29 L134.20,172.38 L134.15,172.40 L134.00,172.46 L133.80,172.54 L133.65,172.60 L133.60,172.62 L133.40,172.69 L133.20,172.75 L133.05,172.80 L133.00,172.81 L132.80,172.87 L132.60,172.92 L132.40,172.97 L132.28,173.00 L132.20,173.02Z" fill="#f08a24" fill-rule="evenodd"/>
<path d="M131.80,172.22 L131.60,172.27 L131.40,172.31 L131.20,172.35 L131.00,172.36 L130.80,172.33 L130.60,172.30 L130.40,172.27 L130.20,172.23 L130.06,172.20 L130.00,172.19 L129.80,172.14 L129.60,172.09 L129.40,172.04 L129.27,172.00 L129.20,171.98 L129.00,171.91 L128.80,171.85 L128.68,171.80 L128.60,171.77 L128.40,171.69 L128.20,171.60 L128.19,171.60 L128.00,171.51 L127.80,171.42 L127.76,171.40 L127.60,171.32 L127.40,171.22 L127.37,171.20 L127.20,171.11 L127.01,171.00 L127.00,170.99 L126.80,170.87 L126.69,170.80 L126.60,170.74 L126.40,170.60 L126.40,170.60 L126.20,170.40 L126.37,170.20 L126.40,170.17 L126.58,170.00 L126.60,169.98 L126.80,169.81 L126.82,169.80 L127.00,169.66 L127.08,169.60 L127.20,169.52 L127.40,169.42 L127.43,169.40 L127.60,169.33 L127.80,169.25 L127.92,169.20 L128.00,169.17 L128.20,169.10 L128.40,169.02 L128.46,169.00 L128.60,168.95 L128.80,168.89 L129.00,168.82 L129.15,168.80 L129.20,168.79 L129.40,168.77 L129.60,168.74 L129.80,168.72 L130.00,168.70 L130.20,168.68 L130.40,168.67 L130.60,168.65 L130.80,168.68 L131.00,168.71 L131.20,168.74 L131.40,168.79 L131.46,168.80 L131.60,168.84 L131.80,168.90 L132.00,168.97 L132.10,169.00 L132.20,169.04 L132.40,169.12 L132.59,169.20 L132.60,169.21 L132.80,169.31 L132.97,169.40 L133.00,169.42 L133.20,169.55 L133.27,169.60 L133.40,169.71 L133.48,169.80 L133.60,169.96 L133.63,170.00 L133.74,170.20 L133.80,170.35 L133.82,170.40 L133.87,170.60 L133.88,170.80 L133.86,171.00 L133.80,171.20 L133.80,171.20 L133.66,171.40 L133.60,171.44 L133.40,171.56 L133.34,171.60 L133.20,171.68 L133.00,171.78 L132.96,171.80 L132.80,171.87 L132.60,171.96 L132.49,172.00 L132.40,172.03 L132.20,172.10 L132.00,172.16 L131.86,172.20 L131.80,172.22Z" fill="#dc2e18" fill-rule="evenodd"/>
<path d="M195.10,192.69 L194.70,192.49 L194.11,192.30 L193.70,192.29 L193.30,192.09 L192.90,191.89 L192.50,191.69 L191.91,191.50 L191.70,191.29 L191.31,190.90 L191.11,190.50 L190.90,190.29 L190.51,189.90 L190.31,189.50 L190.10,189.29 L189.71,188.90 L189.50,188.69 L189.30,188.29 L189.10,187.89 L188.71,187.50 L188.51,187.10 L188.31,186.70 L188.11,186.30 L187.90,186.09 L187.70,185.69 L187.31,185.30 L187.11,184.90 L186.91,184.50 L186.71,184.10 L186.70,183.69 L186.51,183.10 L186.31,182.70 L186.11,182.30 L186.10,181.89 L185.91,181.30 L185.71,180.90 L185.51,180.50 L185.50,180.09 L185.30,179.69 L184.91,179.30 L184.71,178.90 L184.51,178.50 L184.31,178.10 L184.11,177.70 L183.91,177.30 L183.71,176.90 L183.50,176.69 L183.10,176.49 L182.70,176.29 L182.30,176.09 L181.90,175.89 L181.50,175.69 L181.10,175.49 L180.70,175.29 L180.30,175.09 L179.71,174.90 L179.30,174.89 L178.90,174.69 L178.31,174.50 L178.10,174.29 L177.71,173.90 L177.50,173.69 L177.10,173.49 L176.71,173.10 L176.50,172.89 L176.31,172.30 L176.11,171.90 L176.11,171.30 L175.91,170.90 L175.91,170.30 L175.91,169.70 L175.91,169.10 L175.91,168.50 L176.11,168.10 L176.31,167.70 L176.50,167.11 L176.70,166.71 L176.90,166.31 L177.11,166.10 L177.50,165.71 L177.90,165.51 L178.11,165.30 L178.50,164.91 L178.90,164.71 L179.30,164.51 L179.70,164.31 L180.10,164.11 L180.51,164.10 L180.91,163.90 L181.31,163.70 L181.71,163.50 L182.30,163.31 L182.70,163.11 L183.10,162.91 L183.70,162.91 L184.10,162.71 L184.70,162.71 L185.30,162.70 L185.90,162.70 L186.30,162.50 L186.90,162.50 L187.50,162.50 L187.90,162.50 L188.50,162.30 L189.10,162.30 L189.70,162.30 L190.10,162.10 L190.50,162.10 L191.10,161.90 L191.50,161.70 L191.90,161.70 L192.50,161.50 L192.90,161.30 L193.30,161.30 L193.90,161.10 L194.30,160.90 L194.70,160.70 L195.10,160.70 L195.70,160.50 L196.10,160.30 L196.50,160.10 L196.90,159.90 L197.30,159.70 L197.70,159.70 L198.11,159.50 L198.70,159.31 L199.10,159.11 L199.50,158.91 L199.90,158.71 L200.50,158.71 L201.10,158.71 L201.51,158.70 L202.10,158.51 L202.70,158.51 L203.30,158.51 L203.90,158.51 L204.50,158.51 L205.10,158.51 L205.50,158.71 L205.90,158.91 L206.30,159.10 L206.70,159.30 L207.29,159.50 L207.69,159.70 L208.09,159.90 L208.49,160.10 L208.89,160.30 L209.29,160.50 L209.50,160.71 L209.89,161.10 L210.10,161.31 L210.50,161.51 L210.89,161.90 L211.10,162.11 L211.50,162.31 L211.69,162.90 L211.89,163.30 L212.09,163.70 L212.10,164.11 L212.29,164.70 L212.49,165.10 L212.69,165.50 L212.49,165.90 L212.49,166.50 L212.49,167.10 L212.49,167.70 L212.49,168.30 L212.29,168.70 L212.29,169.30 L212.29,169.90 L212.10,170.49 L212.09,170.90 L211.89,171.30 L211.70,171.89 L211.69,172.30 L211.49,172.70 L211.29,173.10 L211.29,173.70 L211.09,174.10 L210.89,174.50 L210.89,175.10 L210.69,175.50 L210.49,175.90 L210.29,176.30 L210.09,176.70 L209.70,177.09 L209.50,177.49 L209.30,177.89 L209.10,178.29 L208.90,178.69 L208.69,178.90 L208.49,179.30 L208.29,179.70 L208.09,180.10 L207.89,180.50 L207.69,180.90 L207.30,181.29 L207.10,181.69 L206.89,181.90 L206.69,182.30 L206.49,182.70 L206.10,183.09 L205.89,183.30 L205.69,183.70 L205.49,184.10 L205.10,184.49 L204.90,184.89 L204.69,185.10 L204.49,185.50 L204.10,185.89 L203.90,186.29 L203.69,186.50 L203.30,186.89 L203.09,187.10 L202.70,187.49 L202.49,187.70 L202.10,188.09 L201.89,188.30 L201.50,188.69 L201.29,188.90 L201.09,189.30 L200.70,189.69 L200.49,189.90 L200.10,190.29 L199.89,190.50 L199.50,190.89 L199.10,191.09 L198.70,191.29 L198.29,191.30 L197.89,191.50 L197.30,191.69 L196.90,191.89 L196.50,192.09 L196.10,192.29 L195.70,192.49 L195.29,192.50Z" fill="#1e44a4" fill-rule="evenodd"/>
<path d="M196.90,188.52 L196.50,188.59 L196.10,188.62 L195.70,188.65 L195.30,188.66 L194.90,188.63 L194.58,188.50 L194.30,188.37 L194.10,188.22 L193.90,188.06 L193.70,187.90 L193.47,187.70 L193.29,187.50 L193.10,187.30 L192.90,187.09 L192.70,186.88 L192.50,186.67 L192.30,186.39 L192.11,186.10 L191.98,185.90 L191.84,185.70 L191.70,185.47 L191.50,185.14 L191.37,184.90 L191.27,184.70 L191.10,184.34 L190.98,184.10 L190.88,183.90 L190.71,183.50 L190.62,183.30 L190.50,182.96 L190.42,182.70 L190.32,182.30 L190.28,182.10 L190.19,181.70 L190.12,181.30 L190.08,181.10 L190.02,180.70 L189.95,180.30 L189.90,179.92 L189.86,179.70 L189.80,179.30 L189.73,178.90 L189.69,178.70 L189.59,178.30 L189.50,178.06 L189.33,177.70 L189.21,177.50 L189.07,177.30 L188.89,177.10 L188.67,176.90 L188.45,176.70 L188.19,176.50 L187.90,176.31 L187.70,176.19 L187.50,176.08 L187.17,175.90 L186.90,175.74 L186.70,175.62 L186.50,175.50 L186.16,175.30 L185.90,175.15 L185.70,175.05 L185.41,174.90 L185.10,174.74 L184.90,174.63 L184.62,174.50 L184.30,174.37 L184.10,174.29 L183.70,174.13 L183.50,174.04 L183.19,173.90 L182.90,173.77 L182.70,173.67 L182.37,173.50 L182.10,173.36 L181.90,173.25 L181.60,173.10 L181.30,172.96 L181.10,172.85 L180.80,172.70 L180.50,172.53 L180.30,172.42 L180.10,172.29 L179.79,172.10 L179.57,171.90 L179.40,171.70 L179.24,171.50 L179.07,171.30 L178.90,170.92 L178.84,170.70 L178.72,170.30 L178.70,170.10 L178.68,169.70 L178.68,169.30 L178.70,169.09 L178.83,168.70 L178.90,168.49 L179.03,168.10 L179.20,167.90 L179.37,167.70 L179.54,167.50 L179.71,167.30 L179.92,167.10 L180.18,166.90 L180.46,166.70 L180.70,166.53 L180.90,166.40 L181.12,166.30 L181.49,166.10 L181.70,165.97 L181.90,165.86 L182.20,165.70 L182.50,165.54 L182.70,165.45 L183.10,165.30 L183.30,165.21 L183.55,165.10 L183.90,165.02 L184.30,164.94 L184.50,164.89 L184.90,164.78 L185.30,164.74 L185.67,164.70 L185.90,164.68 L186.30,164.62 L186.70,164.52 L186.90,164.49 L187.30,164.47 L187.70,164.44 L188.10,164.42 L188.50,164.35 L188.70,164.29 L189.10,164.25 L189.50,164.22 L189.90,164.19 L190.30,164.13 L190.50,164.08 L190.90,163.95 L191.10,163.89 L191.50,163.77 L191.79,163.70 L192.10,163.59 L192.36,163.50 L192.70,163.37 L192.92,163.30 L193.30,163.16 L193.53,163.10 L193.90,162.99 L194.11,162.90 L194.50,162.77 L194.70,162.69 L195.10,162.56 L195.30,162.49 L195.70,162.37 L195.90,162.29 L196.30,162.18 L196.53,162.10 L196.90,161.96 L197.14,161.90 L197.50,161.80 L197.78,161.70 L198.10,161.61 L198.50,161.51 L198.70,161.45 L199.10,161.33 L199.30,161.29 L199.70,161.18 L199.96,161.10 L200.30,161.02 L200.70,160.94 L201.10,160.91 L201.30,160.90 L201.70,160.87 L202.10,160.81 L202.50,160.72 L202.90,160.71 L203.10,160.70 L203.50,160.69 L203.90,160.69 L204.30,160.70 L204.50,160.70 L204.90,160.81 L205.16,160.90 L205.50,161.03 L205.70,161.11 L206.10,161.28 L206.30,161.34 L206.63,161.50 L206.90,161.65 L207.10,161.76 L207.33,161.90 L207.63,162.10 L207.90,162.29 L208.10,162.48 L208.30,162.70 L208.47,162.90 L208.64,163.10 L208.83,163.30 L209.02,163.50 L209.17,163.70 L209.30,163.90 L209.47,164.30 L209.54,164.50 L209.66,164.90 L209.72,165.10 L209.82,165.50 L209.88,165.90 L209.89,166.30 L209.90,166.69 L209.90,166.71 L209.89,167.10 L209.88,167.50 L209.82,167.90 L209.74,168.30 L209.70,168.52 L209.65,168.90 L209.58,169.30 L209.50,169.62 L209.40,169.90 L209.30,170.16 L209.17,170.50 L209.10,170.70 L208.93,171.10 L208.84,171.30 L208.70,171.57 L208.54,171.90 L208.43,172.10 L208.30,172.33 L208.12,172.70 L208.00,172.90 L207.88,173.10 L207.70,173.37 L207.50,173.68 L207.37,173.90 L207.22,174.10 L207.06,174.30 L206.90,174.50 L206.70,174.74 L206.50,174.95 L206.30,175.17 L206.10,175.41 L205.90,175.66 L205.71,175.90 L205.55,176.10 L205.40,176.30 L205.24,176.50 L205.09,176.70 L204.90,177.01 L204.75,177.30 L204.65,177.50 L204.50,177.82 L204.38,178.10 L204.30,178.30 L204.18,178.70 L204.10,178.95 L204.00,179.30 L203.90,179.64 L203.82,179.90 L203.72,180.30 L203.66,180.50 L203.54,180.90 L203.47,181.10 L203.32,181.50 L203.25,181.70 L203.11,182.10 L203.03,182.30 L202.90,182.64 L202.79,182.90 L202.70,183.10 L202.50,183.49 L202.39,183.70 L202.28,183.90 L202.10,184.25 L201.95,184.50 L201.84,184.70 L201.70,184.91 L201.50,185.16 L201.30,185.41 L201.10,185.64 L200.90,185.86 L200.70,186.07 L200.50,186.27 L200.30,186.47 L200.10,186.65 L199.90,186.83 L199.70,187.00 L199.50,187.16 L199.30,187.32 L199.07,187.50 L198.83,187.70 L198.59,187.90 L198.30,188.08 L198.10,188.20 L197.88,188.30 L197.50,188.40 L197.10,188.48 L196.90,188.52Z" fill="#2874cc" fill-rule="evenodd"/>
<path d="M196.90,186.54 L196.50,186.59 L196.10,186.61 L195.70,186.60 L195.30,186.55 L195.07,186.50 L194.82,186.30 L194.58,186.10 L194.36,185.90 L194.14,185.70 L193.93,185.50 L193.77,185.30 L193.62,185.10 L193.47,184.90 L193.30,184.67 L193.10,184.36 L192.94,184.10 L192.84,183.90 L192.70,183.63 L192.54,183.30 L192.45,183.10 L192.30,182.76 L192.20,182.50 L192.10,182.21 L192.02,181.90 L191.93,181.50 L191.90,181.30 L191.83,180.90 L191.78,180.50 L191.73,180.10 L191.70,179.73 L191.68,179.50 L191.66,179.10 L191.63,178.70 L191.61,178.30 L191.57,177.90 L191.52,177.50 L191.48,177.30 L191.37,176.90 L191.30,176.69 L191.12,176.30 L190.99,176.10 L190.83,175.90 L190.65,175.70 L190.44,175.50 L190.19,175.30 L189.90,175.10 L189.70,174.98 L189.50,174.88 L189.14,174.70 L188.90,174.58 L188.70,174.49 L188.30,174.30 L188.10,174.21 L187.84,174.10 L187.50,173.96 L187.30,173.87 L186.90,173.71 L186.70,173.63 L186.40,173.50 L186.10,173.36 L185.90,173.28 L185.50,173.11 L185.30,173.02 L184.99,172.90 L184.70,172.78 L184.50,172.69 L184.10,172.50 L183.90,172.40 L183.70,172.30 L183.35,172.10 L183.10,171.95 L182.90,171.82 L182.70,171.69 L182.42,171.50 L182.13,171.30 L181.90,171.14 L181.70,170.97 L181.50,170.81 L181.30,170.63 L181.10,170.43 L180.90,170.21 L180.79,169.90 L180.80,169.50 L180.90,169.21 L181.06,168.90 L181.21,168.70 L181.39,168.50 L181.58,168.30 L181.82,168.10 L182.07,167.90 L182.30,167.72 L182.50,167.56 L182.70,167.42 L182.90,167.28 L183.19,167.10 L183.50,166.94 L183.70,166.84 L184.00,166.70 L184.30,166.60 L184.64,166.50 L184.90,166.42 L185.30,166.31 L185.50,166.28 L185.90,166.22 L186.30,166.16 L186.63,166.10 L186.90,166.04 L187.30,165.98 L187.70,165.95 L188.10,165.92 L188.30,165.89 L188.70,165.83 L189.10,165.75 L189.50,165.72 L189.80,165.70 L190.10,165.67 L190.50,165.60 L190.90,165.51 L191.10,165.44 L191.50,165.32 L191.70,165.25 L192.10,165.14 L192.30,165.07 L192.70,164.92 L192.90,164.85 L193.27,164.70 L193.50,164.61 L193.81,164.50 L194.10,164.41 L194.38,164.30 L194.70,164.17 L194.91,164.10 L195.30,163.95 L195.50,163.89 L195.90,163.75 L196.10,163.68 L196.50,163.56 L196.70,163.50 L197.10,163.37 L197.30,163.30 L197.70,163.19 L198.05,163.10 L198.30,163.02 L198.70,162.93 L198.90,162.89 L199.30,162.78 L199.65,162.70 L199.90,162.65 L200.30,162.56 L200.51,162.50 L200.90,162.42 L201.30,162.40 L201.70,162.37 L202.10,162.33 L202.36,162.30 L202.70,162.25 L203.10,162.23 L203.50,162.23 L203.90,162.24 L204.30,162.29 L204.50,162.35 L204.90,162.48 L205.10,162.56 L205.44,162.70 L205.70,162.80 L205.92,162.90 L206.26,163.10 L206.50,163.26 L206.70,163.40 L206.90,163.55 L207.10,163.73 L207.30,163.96 L207.50,164.22 L207.70,164.47 L207.87,164.70 L208.00,164.90 L208.10,165.18 L208.19,165.50 L208.29,165.90 L208.32,166.10 L208.34,166.50 L208.34,166.90 L208.33,167.30 L208.30,167.53 L208.23,167.90 L208.15,168.30 L208.10,168.58 L208.04,168.90 L207.93,169.30 L207.86,169.50 L207.70,169.87 L207.60,170.10 L207.50,170.33 L207.32,170.70 L207.21,170.90 L207.09,171.10 L206.90,171.43 L206.73,171.70 L206.60,171.90 L206.47,172.10 L206.30,172.36 L206.10,172.63 L205.90,172.89 L205.74,173.10 L205.58,173.30 L205.41,173.50 L205.22,173.70 L205.02,173.90 L204.82,174.10 L204.62,174.30 L204.43,174.50 L204.25,174.70 L204.07,174.90 L203.89,175.10 L203.70,175.33 L203.50,175.56 L203.30,175.83 L203.12,176.10 L203.01,176.30 L202.90,176.51 L202.71,176.90 L202.63,177.10 L202.50,177.50 L202.45,177.70 L202.35,178.10 L202.30,178.33 L202.22,178.70 L202.15,179.10 L202.10,179.35 L202.03,179.70 L201.93,180.10 L201.88,180.30 L201.78,180.70 L201.70,181.01 L201.61,181.30 L201.50,181.65 L201.41,181.90 L201.30,182.18 L201.15,182.50 L201.05,182.70 L200.90,183.01 L200.75,183.30 L200.64,183.50 L200.50,183.73 L200.30,184.01 L200.10,184.25 L199.90,184.48 L199.70,184.69 L199.50,184.89 L199.30,185.07 L199.10,185.24 L198.90,185.41 L198.70,185.56 L198.49,185.70 L198.18,185.90 L197.90,186.06 L197.70,186.16 L197.43,186.30 L197.10,186.46 L196.90,186.54Z" fill="#45bde0" fill-rule="evenodd"/>
<path d="M196.10,184.70 L195.70,184.73 L195.50,184.70 L195.24,184.50 L195.05,184.30 L194.86,184.10 L194.69,183.90 L194.50,183.65 L194.30,183.37 L194.14,183.10 L194.03,182.90 L193.90,182.64 L193.74,182.30 L193.65,182.10 L193.50,181.70 L193.44,181.50 L193.35,181.10 L193.30,180.78 L193.26,180.50 L193.22,180.10 L193.19,179.70 L193.18,179.30 L193.17,178.90 L193.17,178.50 L193.18,178.10 L193.19,177.70 L193.19,177.30 L193.17,176.90 L193.12,176.50 L193.08,176.30 L192.97,175.90 L192.89,175.70 L192.70,175.31 L192.56,175.10 L192.40,174.90 L192.23,174.70 L192.03,174.50 L191.81,174.30 L191.55,174.10 L191.30,173.93 L191.10,173.81 L190.90,173.70 L190.54,173.50 L190.30,173.38 L190.10,173.28 L189.70,173.11 L189.50,173.02 L189.20,172.90 L188.90,172.78 L188.68,172.70 L188.30,172.55 L188.10,172.48 L187.70,172.32 L187.50,172.24 L187.17,172.10 L186.90,171.98 L186.70,171.90 L186.30,171.72 L186.10,171.63 L185.81,171.50 L185.50,171.35 L185.30,171.25 L185.04,171.10 L184.72,170.90 L184.50,170.75 L184.30,170.59 L184.10,170.43 L183.90,170.24 L183.70,170.04 L183.50,169.80 L183.42,169.50 L183.56,169.30 L183.71,169.10 L183.90,168.90 L184.13,168.70 L184.40,168.50 L184.70,168.34 L184.90,168.24 L185.20,168.10 L185.50,167.99 L185.87,167.90 L186.10,167.85 L186.50,167.76 L186.73,167.70 L187.10,167.61 L187.50,167.53 L187.82,167.50 L188.10,167.47 L188.50,167.43 L188.90,167.36 L189.21,167.30 L189.50,167.27 L189.90,167.23 L190.30,167.19 L190.70,167.11 L190.90,167.07 L191.30,166.95 L191.50,166.88 L191.90,166.74 L192.10,166.66 L192.50,166.53 L192.70,166.45 L193.04,166.30 L193.30,166.19 L193.50,166.10 L193.90,165.92 L194.10,165.84 L194.46,165.70 L194.70,165.60 L194.93,165.50 L195.30,165.35 L195.50,165.27 L195.90,165.12 L196.10,165.04 L196.50,164.90 L196.70,164.84 L197.10,164.71 L197.30,164.65 L197.70,164.53 L197.90,164.46 L198.30,164.37 L198.57,164.30 L198.90,164.21 L199.30,164.13 L199.50,164.09 L199.90,164.00 L200.30,163.92 L200.50,163.89 L200.90,163.80 L201.30,163.75 L201.70,163.74 L202.10,163.72 L202.37,163.70 L202.70,163.67 L203.10,163.66 L203.50,163.67 L203.80,163.70 L204.10,163.78 L204.42,163.90 L204.70,164.02 L204.90,164.10 L205.30,164.29 L205.50,164.42 L205.70,164.56 L205.90,164.71 L206.12,164.90 L206.30,165.12 L206.50,165.40 L206.70,165.70 L206.79,165.90 L206.88,166.30 L206.90,166.55 L206.91,166.90 L206.90,167.21 L206.86,167.50 L206.79,167.90 L206.71,168.30 L206.67,168.50 L206.57,168.90 L206.50,169.11 L206.33,169.50 L206.23,169.70 L206.10,169.98 L205.93,170.30 L205.81,170.50 L205.69,170.70 L205.50,170.99 L205.30,171.27 L205.14,171.50 L205.00,171.70 L204.85,171.90 L204.69,172.10 L204.50,172.33 L204.30,172.56 L204.10,172.79 L203.90,172.99 L203.70,173.18 L203.50,173.37 L203.30,173.56 L203.10,173.75 L202.90,173.95 L202.70,174.15 L202.50,174.36 L202.30,174.56 L202.10,174.77 L201.90,175.00 L201.70,175.26 L201.54,175.50 L201.41,175.70 L201.30,175.90 L201.11,176.30 L201.03,176.50 L200.91,176.90 L200.86,177.10 L200.78,177.50 L200.71,177.90 L200.69,178.10 L200.63,178.50 L200.57,178.90 L200.51,179.30 L200.47,179.50 L200.40,179.90 L200.31,180.30 L200.26,180.50 L200.15,180.90 L200.08,181.10 L199.93,181.50 L199.84,181.70 L199.70,181.99 L199.55,182.30 L199.43,182.50 L199.30,182.72 L199.10,182.99 L198.90,183.21 L198.70,183.41 L198.50,183.60 L198.30,183.76 L198.10,183.91 L197.82,184.10 L197.50,184.28 L197.30,184.37 L196.98,184.50 L196.70,184.59 L196.30,184.67 L196.10,184.70Z" fill="#78c858" fill-rule="evenodd"/>
<path d="M196.90,182.91 L196.70,182.98 L196.50,183.03 L196.30,183.06 L196.10,183.08 L195.90,183.09 L195.70,183.07 L195.50,182.91 L195.49,182.90 L195.33,182.70 L195.30,182.65 L195.20,182.50 L195.10,182.34 L195.08,182.30 L194.96,182.10 L194.90,181.98 L194.86,181.90 L194.76,181.70 L194.70,181.56 L194.67,181.50 L194.60,181.30 L194.53,181.10 L194.50,181.00 L194.48,180.90 L194.44,180.70 L194.41,180.50 L194.38,180.30 L194.36,180.10 L194.35,179.90 L194.33,179.70 L194.33,179.50 L194.33,179.30 L194.33,179.10 L194.33,178.90 L194.34,178.70 L194.36,178.50 L194.37,178.30 L194.39,178.10 L194.40,177.90 L194.42,177.70 L194.44,177.50 L194.46,177.30 L194.47,177.10 L194.48,176.90 L194.48,176.70 L194.48,176.50 L194.47,176.30 L194.44,176.10 L194.41,175.90 L194.36,175.70 L194.30,175.50 L194.30,175.50 L194.23,175.30 L194.14,175.10 L194.10,175.03 L194.03,174.90 L193.91,174.70 L193.90,174.69 L193.77,174.50 L193.70,174.42 L193.60,174.30 L193.50,174.18 L193.42,174.10 L193.30,173.97 L193.24,173.90 L193.10,173.77 L193.03,173.70 L192.90,173.58 L192.80,173.50 L192.70,173.42 L192.55,173.30 L192.50,173.27 L192.30,173.12 L192.26,173.10 L192.10,172.99 L191.97,172.90 L191.90,172.85 L191.70,172.73 L191.66,172.70 L191.50,172.60 L191.32,172.50 L191.30,172.49 L191.10,172.38 L190.95,172.30 L190.90,172.27 L190.70,172.17 L190.55,172.10 L190.50,172.08 L190.30,171.98 L190.11,171.90 L190.10,171.89 L189.90,171.81 L189.70,171.72 L189.65,171.70 L189.50,171.64 L189.30,171.55 L189.17,171.50 L189.10,171.47 L188.90,171.39 L188.70,171.30 L188.69,171.30 L188.50,171.21 L188.30,171.12 L188.25,171.10 L188.10,171.03 L187.90,170.93 L187.83,170.90 L187.70,170.83 L187.50,170.73 L187.43,170.70 L187.30,170.63 L187.10,170.52 L187.06,170.50 L186.90,170.41 L186.72,170.30 L186.70,170.29 L186.50,170.16 L186.40,170.10 L186.30,170.02 L186.14,169.90 L186.30,169.75 L186.37,169.70 L186.50,169.63 L186.70,169.53 L186.75,169.50 L186.90,169.43 L187.10,169.34 L187.19,169.30 L187.30,169.26 L187.50,169.17 L187.70,169.13 L187.87,169.10 L187.90,169.10 L188.10,169.07 L188.30,169.03 L188.50,169.00 L188.70,168.96 L188.90,168.92 L188.97,168.90 L189.10,168.87 L189.30,168.82 L189.50,168.77 L189.70,168.75 L189.90,168.73 L190.10,168.71 L190.14,168.70 L190.30,168.68 L190.50,168.64 L190.70,168.59 L190.90,168.54 L191.02,168.50 L191.10,168.48 L191.30,168.41 L191.50,168.33 L191.57,168.30 L191.70,168.24 L191.90,168.15 L192.00,168.10 L192.10,168.05 L192.30,167.95 L192.41,167.90 L192.50,167.86 L192.70,167.77 L192.85,167.70 L192.90,167.68 L193.10,167.57 L193.23,167.50 L193.30,167.47 L193.50,167.35 L193.60,167.30 L193.70,167.25 L193.90,167.14 L193.97,167.10 L194.10,167.03 L194.30,166.93 L194.37,166.90 L194.50,166.84 L194.70,166.75 L194.80,166.70 L194.90,166.65 L195.10,166.56 L195.22,166.50 L195.30,166.46 L195.50,166.37 L195.65,166.30 L195.70,166.28 L195.90,166.19 L196.10,166.11 L196.12,166.10 L196.30,166.03 L196.50,165.95 L196.63,165.90 L196.70,165.88 L196.90,165.81 L197.10,165.73 L197.21,165.70 L197.30,165.67 L197.50,165.61 L197.70,165.55 L197.87,165.50 L197.90,165.49 L198.10,165.43 L198.30,165.37 L198.50,165.32 L198.61,165.30 L198.70,165.28 L198.90,165.23 L199.10,165.18 L199.30,165.13 L199.48,165.10 L199.50,165.10 L199.70,165.06 L199.90,165.02 L200.10,164.98 L200.30,164.94 L200.50,164.91 L200.57,164.90 L200.70,164.88 L200.90,164.85 L201.10,164.82 L201.30,164.78 L201.50,164.78 L201.70,164.78 L201.90,164.78 L202.10,164.78 L202.30,164.78 L202.50,164.77 L202.70,164.77 L202.90,164.77 L203.10,164.76 L203.30,164.79 L203.50,164.81 L203.70,164.86 L203.79,164.90 L203.90,164.95 L204.10,165.04 L204.23,165.10 L204.30,165.14 L204.50,165.24 L204.61,165.30 L204.70,165.35 L204.90,165.48 L204.93,165.50 L205.10,165.64 L205.17,165.70 L205.30,165.82 L205.37,165.90 L205.50,166.07 L205.52,166.10 L205.65,166.30 L205.70,166.40 L205.75,166.50 L205.77,166.70 L205.78,166.90 L205.78,167.10 L205.76,167.30 L205.73,167.50 L205.70,167.70 L205.70,167.72 L205.67,167.90 L205.63,168.10 L205.59,168.30 L205.55,168.50 L205.50,168.69 L205.50,168.70 L205.43,168.90 L205.34,169.10 L205.30,169.19 L205.25,169.30 L205.16,169.50 L205.10,169.61 L205.06,169.70 L204.95,169.90 L204.90,169.99 L204.83,170.10 L204.71,170.30 L204.70,170.31 L204.58,170.50 L204.50,170.61 L204.44,170.70 L204.30,170.89 L204.29,170.90 L204.15,171.10 L204.10,171.16 L204.00,171.30 L203.90,171.43 L203.85,171.50 L203.70,171.68 L203.69,171.70 L203.51,171.90 L203.50,171.91 L203.33,172.10 L203.30,172.14 L203.15,172.30 L203.10,172.35 L202.95,172.50 L202.90,172.55 L202.73,172.70 L202.70,172.73 L202.51,172.90 L202.50,172.91 L202.30,173.08 L202.28,173.10 L202.10,173.27 L202.06,173.30 L201.90,173.45 L201.84,173.50 L201.70,173.63 L201.63,173.70 L201.50,173.82 L201.41,173.90 L201.30,174.00 L201.19,174.10 L201.10,174.18 L200.98,174.30 L200.90,174.38 L200.78,174.50 L200.70,174.59 L200.60,174.70 L200.50,174.82 L200.43,174.90 L200.30,175.07 L200.28,175.10 L200.13,175.30 L200.10,175.34 L200.00,175.50 L199.90,175.68 L199.89,175.70 L199.79,175.90 L199.71,176.10 L199.70,176.14 L199.64,176.30 L199.58,176.50 L199.53,176.70 L199.50,176.86 L199.49,176.90 L199.46,177.10 L199.44,177.30 L199.41,177.50 L199.39,177.70 L199.37,177.90 L199.35,178.10 L199.33,178.30 L199.31,178.50 L199.30,178.65 L199.30,178.70 L199.27,178.90 L199.25,179.10 L199.23,179.30 L199.20,179.50 L199.16,179.70 L199.12,179.90 L199.10,180.00 L199.08,180.10 L199.02,180.30 L198.96,180.50 L198.90,180.66 L198.88,180.70 L198.80,180.90 L198.71,181.10 L198.70,181.12 L198.61,181.30 L198.51,181.50 L198.50,181.51 L198.39,181.70 L198.30,181.84 L198.26,181.90 L198.10,182.09 L198.09,182.10 L197.90,182.28 L197.88,182.30 L197.70,182.45 L197.63,182.50 L197.50,182.59 L197.33,182.70 L197.30,182.72 L197.10,182.82 L196.92,182.90 L196.90,182.91Z" fill="#f0e23c" fill-rule="evenodd"/>
<path d="M197.90,174.97 L197.70,175.03 L197.50,175.05 L197.30,175.04 L197.10,174.99 L196.90,174.90 L196.89,174.90 L196.70,174.79 L196.57,174.70 L196.50,174.66 L196.30,174.52 L196.28,174.50 L196.10,174.37 L196.02,174.30 L195.90,174.21 L195.76,174.10 L195.70,174.06 L195.50,173.90 L195.50,173.90 L195.30,173.75 L195.23,173.70 L195.10,173.60 L194.96,173.50 L194.90,173.45 L194.70,173.31 L194.69,173.30 L194.50,173.17 L194.40,173.10 L194.30,173.03 L194.10,172.90 L194.10,172.90 L193.90,172.77 L193.79,172.70 L193.70,172.65 L193.50,172.53 L193.46,172.50 L193.30,172.41 L193.15,172.30 L193.10,172.23 L192.99,172.10 L192.90,171.96 L192.86,171.90 L192.74,171.70 L192.70,171.63 L192.63,171.50 L192.55,171.30 L192.50,171.14 L192.49,171.10 L192.46,170.90 L192.45,170.70 L192.48,170.50 L192.50,170.44 L192.54,170.30 L192.62,170.10 L192.70,169.96 L192.73,169.90 L192.88,169.70 L192.90,169.67 L193.06,169.50 L193.10,169.46 L193.26,169.30 L193.30,169.26 L193.46,169.10 L193.50,169.07 L193.68,168.90 L193.70,168.88 L193.90,168.70 L193.90,168.70 L194.10,168.54 L194.15,168.50 L194.30,168.38 L194.40,168.30 L194.50,168.23 L194.69,168.10 L194.70,168.09 L194.90,167.97 L195.01,167.90 L195.10,167.85 L195.30,167.73 L195.34,167.70 L195.50,167.61 L195.67,167.50 L195.70,167.48 L195.90,167.38 L196.05,167.30 L196.10,167.27 L196.30,167.17 L196.45,167.10 L196.50,167.08 L196.70,166.99 L196.90,166.90 L196.91,166.90 L197.10,166.83 L197.30,166.75 L197.44,166.70 L197.50,166.68 L197.70,166.61 L197.90,166.55 L198.06,166.50 L198.10,166.49 L198.30,166.43 L198.50,166.37 L198.70,166.31 L198.75,166.30 L198.90,166.27 L199.10,166.23 L199.30,166.18 L199.50,166.14 L199.68,166.10 L199.70,166.09 L199.90,166.07 L200.10,166.04 L200.30,166.01 L200.50,165.98 L200.70,165.94 L200.90,165.92 L201.10,165.90 L201.10,165.90 L201.30,165.88 L201.50,165.86 L201.70,165.86 L201.90,165.88 L202.10,165.89 L202.17,165.90 L202.30,165.91 L202.50,165.93 L202.70,165.95 L202.90,165.97 L203.10,165.99 L203.30,166.02 L203.45,166.10 L203.50,166.13 L203.70,166.25 L203.78,166.30 L203.90,166.39 L204.06,166.50 L204.10,166.53 L204.30,166.70 L204.30,166.70 L204.48,166.90 L204.50,166.94 L204.55,167.10 L204.55,167.30 L204.53,167.50 L204.51,167.70 L204.50,167.82 L204.49,167.90 L204.46,168.10 L204.42,168.30 L204.38,168.50 L204.32,168.70 L204.30,168.74 L204.24,168.90 L204.15,169.10 L204.10,169.21 L204.06,169.30 L203.96,169.50 L203.90,169.62 L203.85,169.70 L203.73,169.90 L203.70,169.95 L203.60,170.10 L203.50,170.26 L203.47,170.30 L203.33,170.50 L203.30,170.54 L203.18,170.70 L203.10,170.81 L203.03,170.90 L202.90,171.07 L202.88,171.10 L202.72,171.30 L202.70,171.32 L202.54,171.50 L202.50,171.55 L202.36,171.70 L202.30,171.76 L202.17,171.90 L202.10,171.97 L201.95,172.10 L201.90,172.15 L201.72,172.30 L201.70,172.32 L201.50,172.48 L201.48,172.50 L201.30,172.65 L201.24,172.70 L201.10,172.82 L201.00,172.90 L200.90,172.98 L200.75,173.10 L200.70,173.14 L200.50,173.30 L200.50,173.30 L200.30,173.45 L200.23,173.50 L200.10,173.60 L199.97,173.70 L199.90,173.75 L199.71,173.90 L199.70,173.91 L199.50,174.07 L199.46,174.10 L199.30,174.24 L199.20,174.30 L199.10,174.39 L198.90,174.49 L198.89,174.50 L198.70,174.60 L198.51,174.70 L198.50,174.70 L198.30,174.80 L198.10,174.89 L198.07,174.90 L197.90,174.97ZM196.70,180.73 L196.50,180.82 L196.30,180.87 L196.10,180.88 L195.90,180.85 L195.83,180.70 L195.76,180.50 L195.71,180.30 L195.70,180.22 L195.68,180.10 L195.67,179.90 L195.65,179.70 L195.65,179.50 L195.66,179.30 L195.66,179.10 L195.68,178.90 L195.70,178.73 L195.70,178.70 L195.73,178.50 L195.76,178.30 L195.80,178.10 L195.85,177.90 L195.90,177.76 L195.95,177.70 L196.10,177.50 L196.10,177.50 L196.29,177.30 L196.30,177.29 L196.50,177.11 L196.51,177.10 L196.70,176.97 L196.84,176.90 L196.90,176.87 L197.10,176.82 L197.30,176.83 L197.47,176.90 L197.50,177.10 L197.50,177.11 L197.50,177.30 L197.51,177.50 L197.52,177.70 L197.54,177.90 L197.55,178.10 L197.56,178.30 L197.56,178.50 L197.56,178.70 L197.55,178.90 L197.53,179.10 L197.50,179.30 L197.50,179.30 L197.45,179.50 L197.38,179.70 L197.30,179.89 L197.30,179.90 L197.19,180.10 L197.10,180.27 L197.08,180.30 L196.93,180.50 L196.90,180.54 L196.74,180.70 L196.70,180.73Z" fill="#f08a24" fill-rule="evenodd"/>
<path d="M198.50,172.93 L198.30,172.95 L198.10,172.96 L197.90,172.96 L197.70,172.95 L197.50,172.93 L197.33,172.90 L197.30,172.90 L197.10,172.85 L196.90,172.80 L196.70,172.74 L196.60,172.70 L196.50,172.66 L196.30,172.58 L196.12,172.50 L196.10,172.49 L195.90,172.39 L195.72,172.30 L195.70,172.29 L195.50,172.17 L195.37,172.10 L195.30,172.06 L195.10,171.93 L195.05,171.90 L194.90,171.75 L194.86,171.70 L194.79,171.50 L194.73,171.30 L194.70,171.17 L194.69,171.10 L194.66,170.90 L194.66,170.70 L194.68,170.50 L194.70,170.39 L194.72,170.30 L194.78,170.10 L194.86,169.90 L194.90,169.81 L194.96,169.70 L195.10,169.50 L195.10,169.50 L195.27,169.30 L195.30,169.27 L195.45,169.10 L195.50,169.06 L195.66,168.90 L195.70,168.86 L195.88,168.70 L195.90,168.68 L196.10,168.52 L196.13,168.50 L196.30,168.38 L196.41,168.30 L196.50,168.24 L196.70,168.12 L196.73,168.10 L196.90,168.01 L197.10,167.90 L197.10,167.90 L197.30,167.81 L197.50,167.72 L197.54,167.70 L197.70,167.63 L197.90,167.56 L198.08,167.50 L198.10,167.49 L198.30,167.43 L198.50,167.36 L198.70,167.30 L198.70,167.30 L198.90,167.24 L199.10,167.20 L199.30,167.16 L199.50,167.12 L199.59,167.10 L199.70,167.08 L199.90,167.04 L200.10,167.01 L200.30,167.00 L200.50,166.98 L200.70,166.96 L200.90,166.94 L201.10,166.92 L201.30,166.92 L201.50,166.92 L201.70,166.92 L201.90,166.94 L202.10,166.99 L202.30,167.04 L202.50,167.09 L202.53,167.10 L202.70,167.15 L202.90,167.22 L203.10,167.30 L203.10,167.30 L203.30,167.48 L203.32,167.50 L203.42,167.70 L203.41,167.90 L203.40,168.10 L203.37,168.30 L203.33,168.50 L203.30,168.58 L203.26,168.70 L203.18,168.90 L203.10,169.10 L203.10,169.11 L203.02,169.30 L202.91,169.50 L202.90,169.52 L202.79,169.70 L202.70,169.85 L202.67,169.90 L202.54,170.10 L202.50,170.15 L202.40,170.30 L202.30,170.43 L202.25,170.50 L202.10,170.70 L202.10,170.70 L201.94,170.90 L201.90,170.95 L201.78,171.10 L201.70,171.18 L201.59,171.30 L201.50,171.39 L201.39,171.50 L201.30,171.59 L201.18,171.70 L201.10,171.76 L200.93,171.90 L200.90,171.92 L200.70,172.08 L200.67,172.10 L200.50,172.23 L200.40,172.30 L200.30,172.37 L200.10,172.48 L200.04,172.50 L199.90,172.56 L199.70,172.63 L199.50,172.70 L199.49,172.70 L199.30,172.76 L199.10,172.81 L198.90,172.86 L198.70,172.90 L198.68,172.90 L198.50,172.93Z" fill="#dc2e18" fill-rule="evenodd"/>
<rect x="100.3" y="34.4" width="56.20" height="50.60" fill="none" stroke="#222" stroke-width="1.3"/>
<line x1="132.5" y1="34.4" x2="132.5" y2="85.0" stroke="#000" stroke-width="1.5"/>
<line x1="100.3" y1="63.0" x2="156.5" y2="63.0" stroke="#000" stroke-width="1.5"/>
<text x="101.24" y="43.50" font-size="9.90" font-weight="normal" fill="#1a1a1a" stroke="#1a1a1a" stroke-width="0.08" textLength="19.19" lengthAdjust="spacingAndGlyphs">77.0</text>
<text x="136.85" y="43.50" font-size="9.90" font-weight="normal" fill="#1a1a1a" stroke="#1a1a1a" stroke-width="0.08" textLength="19.42" lengthAdjust="spacingAndGlyphs">20.5</text>
<text x="140.29" y="82.50" font-size="9.90" font-weight="normal" fill="#1a1a1a" stroke="#1a1a1a" stroke-width="0.08" textLength="11.99" lengthAdjust="spacingAndGlyphs">1.7</text>
<rect x="162.3" y="34.4" width="56.00" height="50.60" fill="none" stroke="#222" stroke-width="1.3"/>
<line x1="195.6" y1="34.4" x2="195.6" y2="85.0" stroke="#000" stroke-width="1.5"/>
<line x1="162.3" y1="63.0" x2="218.3" y2="63.0" stroke="#000" stroke-width="1.5"/>
<text x="164.28" y="43.60" font-size="9.90" font-weight="normal" fill="#1a1a1a" stroke="#1a1a1a" stroke-width="0.08" textLength="17.94" lengthAdjust="spacingAndGlyphs">78.4</text>
<text x="198.16" y="43.60" font-size="9.90" font-weight="normal" fill="#1a1a1a" stroke="#1a1a1a" stroke-width="0.08" textLength="19.02" lengthAdjust="spacingAndGlyphs">20.3</text>
<text x="203.69" y="82.50" font-size="9.90" font-weight="normal" fill="#1a1a1a" stroke="#1a1a1a" stroke-width="0.08" textLength="12.10" lengthAdjust="spacingAndGlyphs">1.7</text>
<rect x="100.3" y="90.8" width="56.20" height="50.50" fill="none" stroke="#222" stroke-width="1.3"/>
<line x1="132.5" y1="90.8" x2="132.5" y2="141.3" stroke="#000" stroke-width="1.5"/>
<line x1="100.3" y1="119.3" x2="156.5" y2="119.3" stroke="#000" stroke-width="1.5"/>
<text x="101.24" y="98.90" font-size="9.90" font-weight="normal" fill="#1a1a1a" stroke="#1a1a1a" stroke-width="0.08" textLength="19.19" lengthAdjust="spacingAndGlyphs">74.0</text>
<text x="136.65" y="98.90" font-size="9.90" font-weight="normal" fill="#1a1a1a" stroke="#1a1a1a" stroke-width="0.08" textLength="17.97" lengthAdjust="spacingAndGlyphs">14.7</text>
<text x="142.80" y="139.00" font-size="9.90" font-weight="normal" fill="#1a1a1a" stroke="#1a1a1a" stroke-width="0.08" textLength="13.41" lengthAdjust="spacingAndGlyphs">9.9</text>
<rect x="162.3" y="90.8" width="56.00" height="50.50" fill="none" stroke="#222" stroke-width="1.3"/>
<line x1="195.6" y1="90.8" x2="195.6" y2="141.3" stroke="#000" stroke-width="1.5"/>
<line x1="162.3" y1="119.3" x2="218.3" y2="119.3" stroke="#000" stroke-width="1.5"/>
<text x="163.65" y="98.90" font-size="9.90" font-weight="normal" fill="#1a1a1a" stroke="#1a1a1a" stroke-width="0.08" textLength="18.86" lengthAdjust="spacingAndGlyphs">71.9</text>
<text x="199.14" y="98.90" font-size="9.90" font-weight="normal" fill="#1a1a1a" stroke="#1a1a1a" stroke-width="0.08" textLength="18.07" lengthAdjust="spacingAndGlyphs">12.2</text>
<text x="204.01" y="139.00" font-size="9.90" font-weight="normal" fill="#1a1a1a" stroke="#1a1a1a" stroke-width="0.08" textLength="11.76" lengthAdjust="spacingAndGlyphs">1.1</text>
<rect x="100.3" y="147.0" width="56.20" height="49.80" fill="none" stroke="#222" stroke-width="1.3"/>
<line x1="132.5" y1="147.0" x2="132.5" y2="196.8" stroke="#000" stroke-width="1.5"/>
<line x1="100.3" y1="176.6" x2="156.5" y2="176.6" stroke="#000" stroke-width="1.5"/>
<text x="100.57" y="155.10" font-size="9.90" font-weight="normal" fill="#1a1a1a" stroke="#1a1a1a" stroke-width="0.08" textLength="19.45" lengthAdjust="spacingAndGlyphs">38.9</text>
<text x="136.37" y="155.10" font-size="9.90" font-weight="normal" fill="#1a1a1a" stroke="#1a1a1a" stroke-width="0.08" textLength="19.31" lengthAdjust="spacingAndGlyphs">31.8</text>
<text x="137.57" y="194.60" font-size="9.90" font-weight="normal" fill="#1a1a1a" stroke="#1a1a1a" stroke-width="0.08" textLength="18.66" lengthAdjust="spacingAndGlyphs">20.7</text>
<rect x="162.3" y="147.0" width="56.00" height="49.80" fill="none" stroke="#222" stroke-width="1.3"/>
<line x1="195.6" y1="147.0" x2="195.6" y2="196.8" stroke="#000" stroke-width="1.5"/>
<line x1="162.3" y1="176.6" x2="218.3" y2="176.6" stroke="#000" stroke-width="1.5"/>
<text x="163.40" y="155.10" font-size="9.90" font-weight="normal" fill="#1a1a1a" stroke="#1a1a1a" stroke-width="0.08" textLength="19.14" lengthAdjust="spacingAndGlyphs">18.7</text>
<text x="198.35" y="155.10" font-size="9.90" font-weight="normal" fill="#1a1a1a" stroke="#1a1a1a" stroke-width="0.08" textLength="19.33" lengthAdjust="spacingAndGlyphs">52.6</text>
<text x="198.99" y="194.60" font-size="9.90" font-weight="normal" fill="#1a1a1a" stroke="#1a1a1a" stroke-width="0.08" textLength="17.72" lengthAdjust="spacingAndGlyphs">24.2</text>
<clipPath id="clipC00"><rect x="83.7" y="272.4" width="48.00" height="41.00"/></clipPath>
<g clip-path="url(#clipC00)">
<path d="M84.00,303.00 C84.50,301.50 86.00,297.00 87.00,294.00 C88.00,291.00 89.17,287.25 90.00,285.00 C90.83,282.75 91.47,281.33 92.00,280.50 C92.53,279.67 92.78,279.58 93.20,280.00 C93.62,280.42 94.03,281.00 94.50,283.00 C94.97,285.00 95.55,288.67 96.00,292.00 C96.45,295.33 96.78,299.67 97.20,303.00 C97.62,306.33 98.12,310.37 98.50,312.00 C98.88,313.63 99.33,312.67 99.50,312.80 L99.50,312.80 L84.00,312.80 Z" fill="#e9e9e9"/>
<path d="M84.00,303.00 C84.50,301.50 86.00,297.00 87.00,294.00 C88.00,291.00 89.17,287.25 90.00,285.00 C90.83,282.75 91.47,281.33 92.00,280.50 C92.53,279.67 92.78,279.58 93.20,280.00 C93.62,280.42 94.03,281.00 94.50,283.00 C94.97,285.00 95.55,288.67 96.00,292.00 C96.45,295.33 96.78,299.67 97.20,303.00 C97.62,306.33 98.12,310.37 98.50,312.00 C98.88,313.63 99.33,312.67 99.50,312.80" fill="none" stroke="#5a5a5a" stroke-width="0.7"/>
<path d="M84.00,302.00 C84.42,300.83 85.67,297.50 86.50,295.00 C87.33,292.50 88.25,289.33 89.00,287.00 C89.75,284.67 90.42,282.67 91.00,281.00 C91.58,279.33 92.13,277.92 92.50,277.00 C92.87,276.08 92.95,275.33 93.20,275.50 C93.45,275.67 93.62,276.58 94.00,278.00 C94.38,279.42 95.03,281.50 95.50,284.00 C95.97,286.50 96.42,290.00 96.80,293.00 C97.18,296.00 97.43,299.50 97.80,302.00 C98.17,304.50 98.55,306.42 99.00,308.00 C99.45,309.58 99.83,310.70 100.50,311.50 C101.17,312.30 101.75,312.58 103.00,312.80 C104.25,313.02 107.17,312.80 108.00,312.80" fill="none" stroke="#1e3478" stroke-width="1.15" stroke-opacity="1.0" stroke-linejoin="round"/>
<path d="M84.25,302.50 C84.67,301.33 85.92,298.00 86.75,295.50 C87.58,293.00 88.50,289.75 89.25,287.50 C90.00,285.25 90.70,283.42 91.25,282.00 C91.80,280.58 92.13,279.58 92.55,279.00 C92.97,278.42 93.38,278.17 93.75,278.50 C94.12,278.83 94.38,279.92 94.75,281.00 C95.12,282.08 95.53,282.83 95.95,285.00 C96.37,287.17 96.87,291.17 97.25,294.00 C97.63,296.83 97.88,299.58 98.25,302.00 C98.62,304.42 98.98,306.87 99.45,308.50 C99.92,310.13 100.33,311.08 101.05,311.80 C101.77,312.52 102.38,312.63 103.75,312.80 C105.12,312.97 108.33,312.80 109.25,312.80" fill="none" stroke="#c8142e" stroke-width="1.15" stroke-opacity="0.8" stroke-linejoin="round"/>
</g>
<clipPath id="clipC01"><rect x="136.4" y="272.4" width="46.20" height="41.00"/></clipPath>
<g clip-path="url(#clipC01)">
<path d="M136.50,310.00 C137.08,308.83 138.92,305.50 140.00,303.00 C141.08,300.50 142.17,297.00 143.00,295.00 C143.83,293.00 144.42,292.00 145.00,291.00 C145.58,290.00 146.05,288.67 146.50,289.00 C146.95,289.33 147.28,290.67 147.70,293.00 C148.12,295.33 148.53,300.00 149.00,303.00 C149.47,306.00 150.00,309.37 150.50,311.00 C151.00,312.63 151.75,312.50 152.00,312.80 L152.00,312.80 L136.50,312.80 Z" fill="#e9e9e9"/>
<path d="M136.50,310.00 C137.08,308.83 138.92,305.50 140.00,303.00 C141.08,300.50 142.17,297.00 143.00,295.00 C143.83,293.00 144.42,292.00 145.00,291.00 C145.58,290.00 146.05,288.67 146.50,289.00 C146.95,289.33 147.28,290.67 147.70,293.00 C148.12,295.33 148.53,300.00 149.00,303.00 C149.47,306.00 150.00,309.37 150.50,311.00 C151.00,312.63 151.75,312.50 152.00,312.80" fill="none" stroke="#5a5a5a" stroke-width="0.7"/>
<path d="M136.50,303.00 C137.08,301.92 138.92,298.92 140.00,296.50 C141.08,294.08 142.20,290.58 143.00,288.50 C143.80,286.42 144.37,285.75 144.80,284.00 C145.23,282.25 145.40,279.42 145.60,278.00 C145.80,276.58 145.85,275.17 146.00,275.50 C146.15,275.83 146.17,278.58 146.50,280.00 C146.83,281.42 147.50,281.83 148.00,284.00 C148.50,286.17 149.00,290.17 149.50,293.00 C150.00,295.83 150.42,298.83 151.00,301.00 C151.58,303.17 152.17,304.58 153.00,306.00 C153.83,307.42 154.83,308.53 156.00,309.50 C157.17,310.47 158.33,311.25 160.00,311.80 C161.67,312.35 165.00,312.63 166.00,312.80" fill="none" stroke="#1e3478" stroke-width="1.15" stroke-opacity="1.0" stroke-linejoin="round"/>
<path d="M136.75,303.50 C137.33,302.28 139.17,298.75 140.25,296.20 C141.33,293.65 142.42,290.15 143.25,288.20 C144.08,286.25 144.78,285.70 145.25,284.50 C145.72,283.30 145.80,281.50 146.05,281.00 C146.30,280.50 146.38,280.83 146.75,281.50 C147.12,282.17 147.75,282.92 148.25,285.00 C148.75,287.08 149.25,291.25 149.75,294.00 C150.25,296.75 150.67,299.47 151.25,301.50 C151.83,303.53 152.42,304.83 153.25,306.20 C154.08,307.57 155.08,308.73 156.25,309.70 C157.42,310.67 158.42,311.48 160.25,312.00 C162.08,312.52 166.08,312.67 167.25,312.80" fill="none" stroke="#c8142e" stroke-width="1.15" stroke-opacity="0.8" stroke-linejoin="round"/>
</g>
<clipPath id="clipC02"><rect x="187.4" y="272.4" width="46.10" height="41.00"/></clipPath>
<g clip-path="url(#clipC02)">
<path d="M187.50,310.00 C187.92,309.17 189.17,307.00 190.00,305.00 C190.83,303.00 191.75,300.25 192.50,298.00 C193.25,295.75 194.00,293.00 194.50,291.50 C195.00,290.00 195.12,288.92 195.50,289.00 C195.88,289.08 196.35,290.42 196.80,292.00 C197.25,293.58 197.67,296.17 198.20,298.50 C198.73,300.83 199.37,303.83 200.00,306.00 C200.63,308.17 201.50,310.42 202.00,311.50 C202.50,312.58 202.83,312.33 203.00,312.50 L203.00,312.80 L187.50,312.80 Z" fill="#e9e9e9"/>
<path d="M187.50,310.00 C187.92,309.17 189.17,307.00 190.00,305.00 C190.83,303.00 191.75,300.25 192.50,298.00 C193.25,295.75 194.00,293.00 194.50,291.50 C195.00,290.00 195.12,288.92 195.50,289.00 C195.88,289.08 196.35,290.42 196.80,292.00 C197.25,293.58 197.67,296.17 198.20,298.50 C198.73,300.83 199.37,303.83 200.00,306.00 C200.63,308.17 201.50,310.42 202.00,311.50 C202.50,312.58 202.83,312.33 203.00,312.50" fill="none" stroke="#5a5a5a" stroke-width="0.7"/>
<path d="M187.50,308.50 C188.08,307.83 189.75,306.17 191.00,304.50 C192.25,302.83 193.92,300.33 195.00,298.50 C196.08,296.67 196.83,294.67 197.50,293.50 C198.17,292.33 198.55,291.50 199.00,291.50 C199.45,291.50 199.78,292.67 200.20,293.50 C200.62,294.33 201.03,296.58 201.50,296.50 C201.97,296.42 202.50,293.42 203.00,293.00 C203.50,292.58 203.97,293.33 204.50,294.00 C205.03,294.67 205.53,295.50 206.20,297.00 C206.87,298.50 208.00,301.58 208.50,303.00 C209.00,304.42 208.87,304.80 209.20,305.50 C209.53,306.20 209.95,306.45 210.50,307.20 C211.05,307.95 211.75,309.20 212.50,310.00 C213.25,310.80 214.08,311.57 215.00,312.00 C215.92,312.43 217.50,312.50 218.00,312.60" fill="none" stroke="#1e3478" stroke-width="1.15" stroke-opacity="1.0" stroke-linejoin="round"/>
<path d="M187.75,308.00 C188.33,307.33 190.00,305.67 191.25,304.00 C192.50,302.33 194.08,299.83 195.25,298.00 C196.42,296.17 197.50,294.17 198.25,293.00 C199.00,291.83 199.30,290.83 199.75,291.00 C200.20,291.17 200.62,293.17 200.95,294.00 C201.28,294.83 201.45,296.13 201.75,296.00 C202.05,295.87 202.42,293.87 202.75,293.20 C203.08,292.53 203.33,291.78 203.75,292.00 C204.17,292.22 204.80,293.80 205.25,294.50 C205.70,295.20 205.87,294.78 206.45,296.20 C207.03,297.62 208.03,301.20 208.75,303.00 C209.47,304.80 210.08,305.83 210.75,307.00 C211.42,308.17 212.00,309.17 212.75,310.00 C213.50,310.83 214.33,311.57 215.25,312.00 C216.17,312.43 217.75,312.50 218.25,312.60" fill="none" stroke="#c8142e" stroke-width="1.15" stroke-opacity="0.8" stroke-linejoin="round"/>
</g>
<clipPath id="clipC10"><rect x="83.7" y="318.2" width="48.00" height="40.80"/></clipPath>
<g clip-path="url(#clipC10)">
<path d="M84.00,352.00 C84.50,350.50 86.00,346.17 87.00,343.00 C88.00,339.83 89.08,335.75 90.00,333.00 C90.92,330.25 91.75,327.83 92.50,326.50 C93.25,325.17 94.00,324.75 94.50,325.00 C95.00,325.25 95.17,326.17 95.50,328.00 C95.83,329.83 96.12,332.67 96.50,336.00 C96.88,339.33 97.35,344.42 97.80,348.00 C98.25,351.58 98.80,355.77 99.20,357.50 C99.60,359.23 100.03,358.25 100.20,358.40 L100.20,358.40 L84.00,358.40 Z" fill="#e9e9e9"/>
<path d="M84.00,352.00 C84.50,350.50 86.00,346.17 87.00,343.00 C88.00,339.83 89.08,335.75 90.00,333.00 C90.92,330.25 91.75,327.83 92.50,326.50 C93.25,325.17 94.00,324.75 94.50,325.00 C95.00,325.25 95.17,326.17 95.50,328.00 C95.83,329.83 96.12,332.67 96.50,336.00 C96.88,339.33 97.35,344.42 97.80,348.00 C98.25,351.58 98.80,355.77 99.20,357.50 C99.60,359.23 100.03,358.25 100.20,358.40" fill="none" stroke="#5a5a5a" stroke-width="0.7"/>
<path d="M84.00,350.50 C84.50,348.92 86.00,344.50 87.00,341.00 C88.00,337.50 89.17,332.25 90.00,329.50 C90.83,326.75 91.37,325.67 92.00,324.50 C92.63,323.33 93.30,323.00 93.80,322.50 C94.30,322.00 94.63,320.92 95.00,321.50 C95.37,322.08 95.67,324.25 96.00,326.00 C96.33,327.75 96.58,329.25 97.00,332.00 C97.42,334.75 98.00,339.33 98.50,342.50 C99.00,345.67 99.42,348.75 100.00,351.00 C100.58,353.25 101.17,354.77 102.00,356.00 C102.83,357.23 104.00,358.00 105.00,358.40 C106.00,358.80 107.50,358.40 108.00,358.40" fill="none" stroke="#1e3478" stroke-width="1.15" stroke-opacity="1.0" stroke-linejoin="round"/>
<path d="M84.25,350.00 C84.75,348.42 86.42,343.67 87.25,340.50 C88.08,337.33 88.67,333.75 89.25,331.00 C89.83,328.25 90.25,325.33 90.75,324.00 C91.25,322.67 91.67,323.25 92.25,323.00 C92.83,322.75 93.72,322.70 94.25,322.50 C94.78,322.30 95.03,320.88 95.45,321.80 C95.87,322.72 96.33,325.80 96.75,328.00 C97.17,330.20 97.57,332.42 97.95,335.00 C98.33,337.58 98.63,340.75 99.05,343.50 C99.47,346.25 99.83,349.33 100.45,351.50 C101.07,353.67 101.87,355.35 102.75,356.50 C103.63,357.65 104.75,358.08 105.75,358.40 C106.75,358.72 108.25,358.40 108.75,358.40" fill="none" stroke="#c8142e" stroke-width="1.15" stroke-opacity="0.8" stroke-linejoin="round"/>
</g>
<clipPath id="clipC11"><rect x="136.4" y="318.2" width="46.20" height="40.80"/></clipPath>
<g clip-path="url(#clipC11)">
<path d="M136.50,356.00 C136.92,354.33 138.25,349.17 139.00,346.00 C139.75,342.83 140.47,338.83 141.00,337.00 C141.53,335.17 141.70,335.33 142.20,335.00 C142.70,334.67 143.37,335.33 144.00,335.00 C144.63,334.67 145.33,333.67 146.00,333.00 C146.67,332.33 147.50,330.50 148.00,331.00 C148.50,331.50 148.67,333.50 149.00,336.00 C149.33,338.50 149.63,342.83 150.00,346.00 C150.37,349.17 150.78,353.00 151.20,355.00 C151.62,357.00 152.28,357.50 152.50,358.00 L152.50,358.40 L136.50,358.40 Z" fill="#e9e9e9"/>
<path d="M136.50,356.00 C136.92,354.33 138.25,349.17 139.00,346.00 C139.75,342.83 140.47,338.83 141.00,337.00 C141.53,335.17 141.70,335.33 142.20,335.00 C142.70,334.67 143.37,335.33 144.00,335.00 C144.63,334.67 145.33,333.67 146.00,333.00 C146.67,332.33 147.50,330.50 148.00,331.00 C148.50,331.50 148.67,333.50 149.00,336.00 C149.33,338.50 149.63,342.83 150.00,346.00 C150.37,349.17 150.78,353.00 151.20,355.00 C151.62,357.00 152.28,357.50 152.50,358.00" fill="none" stroke="#5a5a5a" stroke-width="0.7"/>
<path d="M136.50,355.00 C137.25,353.83 139.58,350.83 141.00,348.00 C142.42,345.17 143.83,341.17 145.00,338.00 C146.17,334.83 147.30,330.83 148.00,329.00 C148.70,327.17 148.82,326.83 149.20,327.00 C149.58,327.17 149.87,328.67 150.30,330.00 C150.73,331.33 151.18,332.50 151.80,335.00 C152.42,337.50 152.97,342.17 154.00,345.00 C155.03,347.83 156.50,350.08 158.00,352.00 C159.50,353.92 161.50,355.43 163.00,356.50 C164.50,357.57 166.33,358.08 167.00,358.40" fill="none" stroke="#1e3478" stroke-width="1.15" stroke-opacity="1.0" stroke-linejoin="round"/>
<path d="M136.75,353.00 C137.33,351.83 139.00,349.17 140.25,346.00 C141.50,342.83 143.12,337.25 144.25,334.00 C145.38,330.75 146.25,328.25 147.05,326.50 C147.85,324.75 148.52,323.58 149.05,323.50 C149.58,323.42 149.85,324.42 150.25,326.00 C150.65,327.58 150.95,330.33 151.45,333.00 C151.95,335.67 152.62,339.50 153.25,342.00 C153.88,344.50 154.42,346.17 155.25,348.00 C156.08,349.83 157.08,351.58 158.25,353.00 C159.42,354.42 160.92,355.60 162.25,356.50 C163.58,357.40 164.92,358.08 166.25,358.40 C167.58,358.72 169.58,358.40 170.25,358.40" fill="none" stroke="#c8142e" stroke-width="1.15" stroke-opacity="0.8" stroke-linejoin="round"/>
</g>
<clipPath id="clipC12"><rect x="187.4" y="318.2" width="46.10" height="40.80"/></clipPath>
<g clip-path="url(#clipC12)">
<path d="M187.50,356.00 C187.92,354.67 189.17,351.00 190.00,348.00 C190.83,345.00 191.75,340.83 192.50,338.00 C193.25,335.17 193.95,332.58 194.50,331.00 C195.05,329.42 195.38,328.17 195.80,328.50 C196.22,328.83 196.55,331.25 197.00,333.00 C197.45,334.75 198.08,337.00 198.50,339.00 C198.92,341.00 199.17,342.50 199.50,345.00 C199.83,347.50 200.17,351.83 200.50,354.00 C200.83,356.17 201.33,357.33 201.50,358.00 L201.50,358.40 L187.50,358.40 Z" fill="#e9e9e9"/>
<path d="M187.50,356.00 C187.92,354.67 189.17,351.00 190.00,348.00 C190.83,345.00 191.75,340.83 192.50,338.00 C193.25,335.17 193.95,332.58 194.50,331.00 C195.05,329.42 195.38,328.17 195.80,328.50 C196.22,328.83 196.55,331.25 197.00,333.00 C197.45,334.75 198.08,337.00 198.50,339.00 C198.92,341.00 199.17,342.50 199.50,345.00 C199.83,347.50 200.17,351.83 200.50,354.00 C200.83,356.17 201.33,357.33 201.50,358.00" fill="none" stroke="#5a5a5a" stroke-width="0.7"/>
<path d="M187.80,355.00 C188.50,354.00 190.80,351.50 192.00,349.00 C193.20,346.50 194.08,342.83 195.00,340.00 C195.92,337.17 196.83,333.58 197.50,332.00 C198.17,330.42 198.45,331.00 199.00,330.50 C199.55,330.00 200.27,328.25 200.80,329.00 C201.33,329.75 201.58,333.00 202.20,335.00 C202.82,337.00 203.45,338.75 204.50,341.00 C205.55,343.25 207.17,346.25 208.50,348.50 C209.83,350.75 211.00,353.08 212.50,354.50 C214.00,355.92 215.92,356.35 217.50,357.00 C219.08,357.65 221.25,358.17 222.00,358.40" fill="none" stroke="#1e3478" stroke-width="1.15" stroke-opacity="1.0" stroke-linejoin="round"/>
<path d="M187.75,350.00 C188.33,348.67 190.17,344.92 191.25,342.00 C192.33,339.08 193.42,335.00 194.25,332.50 C195.08,330.00 195.67,328.33 196.25,327.00 C196.83,325.67 197.25,324.25 197.75,324.50 C198.25,324.75 198.70,327.42 199.25,328.50 C199.80,329.58 200.47,329.25 201.05,331.00 C201.63,332.75 202.05,337.17 202.75,339.00 C203.45,340.83 204.33,340.67 205.25,342.00 C206.17,343.33 207.25,345.17 208.25,347.00 C209.25,348.83 210.08,351.50 211.25,353.00 C212.42,354.50 213.92,355.25 215.25,356.00 C216.58,356.75 218.08,357.10 219.25,357.50 C220.42,357.90 221.75,358.25 222.25,358.40" fill="none" stroke="#c8142e" stroke-width="1.15" stroke-opacity="0.8" stroke-linejoin="round"/>
</g>
<clipPath id="clipC20"><rect x="83.7" y="363.4" width="48.00" height="42.60"/></clipPath>
<g clip-path="url(#clipC20)">
<path d="M84.50,396.00 C85.08,394.50 86.92,389.50 88.00,387.00 C89.08,384.50 90.00,382.67 91.00,381.00 C92.00,379.33 93.17,377.83 94.00,377.00 C94.83,376.17 95.42,374.83 96.00,376.00 C96.58,377.17 97.03,381.00 97.50,384.00 C97.97,387.00 98.38,390.83 98.80,394.00 C99.22,397.17 99.67,401.17 100.00,403.00 C100.33,404.83 100.67,404.67 100.80,405.00 L100.80,405.40 L84.50,405.40 Z" fill="#e9e9e9"/>
<path d="M84.50,396.00 C85.08,394.50 86.92,389.50 88.00,387.00 C89.08,384.50 90.00,382.67 91.00,381.00 C92.00,379.33 93.17,377.83 94.00,377.00 C94.83,376.17 95.42,374.83 96.00,376.00 C96.58,377.17 97.03,381.00 97.50,384.00 C97.97,387.00 98.38,390.83 98.80,394.00 C99.22,397.17 99.67,401.17 100.00,403.00 C100.33,404.83 100.67,404.67 100.80,405.00" fill="none" stroke="#5a5a5a" stroke-width="0.7"/>
<path d="M84.50,402.00 C85.08,401.33 86.92,399.50 88.00,398.00 C89.08,396.50 90.17,394.80 91.00,393.00 C91.83,391.20 92.42,388.53 93.00,387.20 C93.58,385.87 94.03,386.37 94.50,385.00 C94.97,383.63 95.45,380.58 95.80,379.00 C96.15,377.42 96.27,374.92 96.60,375.50 C96.93,376.08 97.23,379.92 97.80,382.50 C98.37,385.08 99.30,388.75 100.00,391.00 C100.70,393.25 101.17,394.33 102.00,396.00 C102.83,397.67 103.92,399.63 105.00,401.00 C106.08,402.37 107.33,403.53 108.50,404.20 C109.67,404.87 111.42,404.87 112.00,405.00" fill="none" stroke="#1e3478" stroke-width="1.15" stroke-opacity="1.0" stroke-linejoin="round"/>
<path d="M84.75,402.00 C85.33,401.37 87.00,400.03 88.25,398.20 C89.50,396.37 91.08,392.67 92.25,391.00 C93.42,389.33 94.50,389.62 95.25,388.20 C96.00,386.78 96.38,383.87 96.75,382.50 C97.12,381.13 97.12,380.08 97.45,380.00 C97.78,379.92 98.37,381.30 98.75,382.00 C99.13,382.70 99.37,382.62 99.75,384.20 C100.13,385.78 100.47,389.37 101.05,391.50 C101.63,393.63 102.38,395.25 103.25,397.00 C104.12,398.75 105.08,400.67 106.25,402.00 C107.42,403.33 109.58,404.50 110.25,405.00" fill="none" stroke="#c8142e" stroke-width="1.15" stroke-opacity="0.8" stroke-linejoin="round"/>
</g>
<clipPath id="clipC21"><rect x="136.4" y="363.4" width="46.20" height="42.60"/></clipPath>
<g clip-path="url(#clipC21)">
<path d="M136.50,399.00 C137.25,397.75 139.58,394.50 141.00,391.50 C142.42,388.50 144.00,383.92 145.00,381.00 C146.00,378.08 146.42,375.75 147.00,374.00 C147.58,372.25 148.03,370.17 148.50,370.50 C148.97,370.83 149.42,373.75 149.80,376.00 C150.18,378.25 150.40,381.17 150.80,384.00 C151.20,386.83 151.70,389.83 152.20,393.00 C152.70,396.17 153.37,401.00 153.80,403.00 C154.23,405.00 154.63,404.67 154.80,405.00 L154.80,405.40 L136.50,405.40 Z" fill="#e9e9e9"/>
<path d="M136.50,399.00 C137.25,397.75 139.58,394.50 141.00,391.50 C142.42,388.50 144.00,383.92 145.00,381.00 C146.00,378.08 146.42,375.75 147.00,374.00 C147.58,372.25 148.03,370.17 148.50,370.50 C148.97,370.83 149.42,373.75 149.80,376.00 C150.18,378.25 150.40,381.17 150.80,384.00 C151.20,386.83 151.70,389.83 152.20,393.00 C152.70,396.17 153.37,401.00 153.80,403.00 C154.23,405.00 154.63,404.67 154.80,405.00" fill="none" stroke="#5a5a5a" stroke-width="0.7"/>
<path d="M136.50,404.00 C137.25,403.33 139.58,402.00 141.00,400.00 C142.42,398.00 143.83,394.50 145.00,392.00 C146.17,389.50 147.17,386.83 148.00,385.00 C148.83,383.17 149.47,382.13 150.00,381.00 C150.53,379.87 150.78,378.03 151.20,378.20 C151.62,378.37 152.03,380.50 152.50,382.00 C152.97,383.50 153.25,385.53 154.00,387.20 C154.75,388.87 156.00,390.53 157.00,392.00 C158.00,393.47 159.00,394.50 160.00,396.00 C161.00,397.50 162.00,399.83 163.00,401.00 C164.00,402.17 165.25,402.33 166.00,403.00 C166.75,403.67 167.25,404.67 167.50,405.00" fill="none" stroke="#1e3478" stroke-width="1.15" stroke-opacity="1.0" stroke-linejoin="round"/>
<path d="M136.75,404.00 C137.33,403.50 139.00,402.50 140.25,401.00 C141.50,399.50 143.08,397.30 144.25,395.00 C145.42,392.70 146.42,389.17 147.25,387.20 C148.08,385.23 148.67,385.15 149.25,383.20 C149.83,381.25 150.17,376.03 150.75,375.50 C151.33,374.97 152.00,378.83 152.75,380.00 C153.50,381.17 154.50,381.67 155.25,382.50 C156.00,383.33 156.67,385.08 157.25,385.00 C157.83,384.92 158.17,383.00 158.75,382.00 C159.33,381.00 160.17,378.50 160.75,379.00 C161.33,379.50 161.75,382.67 162.25,385.00 C162.75,387.33 163.17,390.67 163.75,393.00 C164.33,395.33 165.08,397.00 165.75,399.00 C166.42,401.00 167.42,404.00 167.75,405.00" fill="none" stroke="#c8142e" stroke-width="1.15" stroke-opacity="0.8" stroke-linejoin="round"/>
</g>
<clipPath id="clipC22"><rect x="187.4" y="363.4" width="46.10" height="42.60"/></clipPath>
<g clip-path="url(#clipC22)">
<path d="M188.00,400.00 C188.50,398.83 190.00,395.50 191.00,393.00 C192.00,390.50 193.08,387.50 194.00,385.00 C194.92,382.50 195.83,379.75 196.50,378.00 C197.17,376.25 197.50,374.17 198.00,374.50 C198.50,374.83 199.00,377.42 199.50,380.00 C200.00,382.58 200.50,386.67 201.00,390.00 C201.50,393.33 202.08,397.50 202.50,400.00 C202.92,402.50 203.33,404.17 203.50,405.00 L203.50,405.40 L188.00,405.40 Z" fill="#e9e9e9"/>
<path d="M188.00,400.00 C188.50,398.83 190.00,395.50 191.00,393.00 C192.00,390.50 193.08,387.50 194.00,385.00 C194.92,382.50 195.83,379.75 196.50,378.00 C197.17,376.25 197.50,374.17 198.00,374.50 C198.50,374.83 199.00,377.42 199.50,380.00 C200.00,382.58 200.50,386.67 201.00,390.00 C201.50,393.33 202.08,397.50 202.50,400.00 C202.92,402.50 203.33,404.17 203.50,405.00" fill="none" stroke="#5a5a5a" stroke-width="0.7"/>
<path d="M188.00,404.20 C188.83,404.00 191.67,403.83 193.00,403.00 C194.33,402.17 195.08,400.83 196.00,399.20 C196.92,397.57 197.83,395.65 198.50,393.20 C199.17,390.75 199.58,386.62 200.00,384.50 C200.42,382.38 200.58,380.92 201.00,380.50 C201.42,380.08 201.92,382.28 202.50,382.00 C203.08,381.72 203.92,378.97 204.50,378.80 C205.08,378.63 205.50,380.63 206.00,381.00 C206.50,381.37 207.03,380.08 207.50,381.00 C207.97,381.92 208.42,385.33 208.80,386.50 C209.18,387.67 209.40,388.75 209.80,388.00 C210.20,387.25 210.70,382.58 211.20,382.00 C211.70,381.42 212.30,383.17 212.80,384.50 C213.30,385.83 213.73,388.22 214.20,390.00 C214.67,391.78 215.13,393.37 215.60,395.20 C216.07,397.03 216.52,399.37 217.00,401.00 C217.48,402.63 218.25,404.33 218.50,405.00" fill="none" stroke="#1e3478" stroke-width="1.15" stroke-opacity="1.0" stroke-linejoin="round"/>
<path d="M188.25,404.00 C189.08,403.80 191.92,403.63 193.25,402.80 C194.58,401.97 195.33,400.67 196.25,399.00 C197.17,397.33 198.08,395.30 198.75,392.80 C199.42,390.30 199.83,386.13 200.25,384.00 C200.67,381.87 200.83,380.42 201.25,380.00 C201.67,379.58 202.17,381.75 202.75,381.50 C203.33,381.25 204.17,378.58 204.75,378.50 C205.33,378.42 205.75,380.92 206.25,381.00 C206.75,381.08 207.25,379.00 207.75,379.00 C208.25,379.00 208.67,380.75 209.25,381.00 C209.83,381.25 210.67,380.00 211.25,380.50 C211.83,381.00 212.25,382.42 212.75,384.00 C213.25,385.58 213.75,388.17 214.25,390.00 C214.75,391.83 215.25,393.17 215.75,395.00 C216.25,396.83 216.75,399.33 217.25,401.00 C217.75,402.67 218.50,404.33 218.75,405.00" fill="none" stroke="#c8142e" stroke-width="1.15" stroke-opacity="0.8" stroke-linejoin="round"/>
</g>
<clipPath id="clipE00"><rect x="84.7" y="497.0" width="47.90" height="42.00"/></clipPath>
<g clip-path="url(#clipE00)">
<path d="M85.12,536.06 C85.63,535.48 87.19,533.89 88.23,532.63 C89.27,531.37 90.48,529.98 91.35,528.48 C92.21,526.97 92.73,525.45 93.42,523.60 C94.11,521.74 94.89,519.70 95.50,517.36 C96.11,515.03 96.57,512.09 97.06,509.58 C97.54,507.07 97.97,503.26 98.41,502.31 C98.84,501.36 99.24,502.22 99.65,503.87 C100.07,505.51 100.43,508.62 100.90,512.17 C101.37,515.72 101.94,521.40 102.46,525.15 C102.98,528.91 103.55,532.50 104.01,534.71 C104.48,536.91 105.05,537.78 105.26,538.40 L105.26,538.40 L85.12,538.40 Z" fill="#e9e9e9"/>
<path d="M85.12,536.06 C85.63,535.48 87.19,533.89 88.23,532.63 C89.27,531.37 90.48,529.98 91.35,528.48 C92.21,526.97 92.73,525.45 93.42,523.60 C94.11,521.74 94.89,519.70 95.50,517.36 C96.11,515.03 96.57,512.09 97.06,509.58 C97.54,507.07 97.97,503.26 98.41,502.31 C98.84,501.36 99.24,502.22 99.65,503.87 C100.07,505.51 100.43,508.62 100.90,512.17 C101.37,515.72 101.94,521.40 102.46,525.15 C102.98,528.91 103.55,532.50 104.01,534.71 C104.48,536.91 105.05,537.78 105.26,538.40" fill="none" stroke="#5a5a5a" stroke-width="0.7"/>
<path d="M85.12,535.54 C85.63,535.02 87.19,533.63 88.23,532.42 C89.27,531.21 90.48,529.83 91.35,528.27 C92.21,526.71 92.73,524.98 93.42,523.08 C94.11,521.17 94.89,519.27 95.50,516.85 C96.11,514.42 96.54,511.13 97.06,508.54 C97.58,505.94 98.10,502.13 98.61,501.27 C99.13,500.40 99.74,501.62 100.17,503.35 C100.61,505.08 100.78,508.02 101.21,511.65 C101.64,515.29 102.25,521.35 102.77,525.15 C103.29,528.96 103.89,532.34 104.33,534.50 C104.76,536.66 104.59,537.48 105.36,538.13 C106.14,538.78 108.39,538.36 109.00,538.40" fill="none" stroke="#1e3478" stroke-width="1.15" stroke-opacity="1.0" stroke-linejoin="round"/>
<path d="M85.37,535.74 C85.88,535.21 87.44,533.75 88.48,532.53 C89.52,531.30 90.73,529.93 91.60,528.37 C92.46,526.81 92.98,525.08 93.67,523.18 C94.36,521.28 95.13,519.37 95.75,516.95 C96.37,514.53 96.87,511.22 97.41,508.64 C97.95,506.06 98.45,502.32 98.97,501.48 C99.49,500.63 100.09,501.82 100.53,503.55 C100.96,505.28 101.13,508.23 101.56,511.86 C102.00,515.50 102.60,521.55 103.12,525.36 C103.64,529.17 104.25,532.56 104.68,534.71 C105.11,536.85 104.92,537.62 105.72,538.24 C106.51,538.85 108.83,538.37 109.46,538.40" fill="none" stroke="#c8142e" stroke-width="1.15" stroke-opacity="0.8" stroke-linejoin="round"/>
</g>
<clipPath id="clipE01"><rect x="138.0" y="497.0" width="47.60" height="42.00"/></clipPath>
<g clip-path="url(#clipE01)">
<path d="M138.15,535.95 C138.85,535.26 141.10,534.19 142.31,531.80 C143.52,529.41 144.56,525.33 145.42,521.62 C146.29,517.92 146.91,512.97 147.50,509.58 C148.09,506.18 148.47,501.96 148.95,501.27 C149.44,500.58 149.92,502.31 150.41,505.42 C150.89,508.54 151.41,515.56 151.86,519.96 C152.31,524.36 152.62,528.99 153.11,531.80 C153.59,534.60 154.08,535.74 154.77,536.78 C155.46,537.82 156.85,537.82 157.26,538.03 L157.26,538.40 L138.15,538.40 Z" fill="#e9e9e9"/>
<path d="M138.15,535.95 C138.85,535.26 141.10,534.19 142.31,531.80 C143.52,529.41 144.56,525.33 145.42,521.62 C146.29,517.92 146.91,512.97 147.50,509.58 C148.09,506.18 148.47,501.96 148.95,501.27 C149.44,500.58 149.92,502.31 150.41,505.42 C150.89,508.54 151.41,515.56 151.86,519.96 C152.31,524.36 152.62,528.99 153.11,531.80 C153.59,534.60 154.08,535.74 154.77,536.78 C155.46,537.82 156.85,537.82 157.26,538.03" fill="none" stroke="#5a5a5a" stroke-width="0.7"/>
<path d="M138.15,535.54 C138.85,534.84 141.10,533.81 142.31,531.38 C143.52,528.96 144.56,524.81 145.42,521.00 C146.29,517.19 146.88,512.00 147.50,508.54 C148.12,505.08 148.64,500.92 149.16,500.23 C149.68,499.54 150.13,501.27 150.61,504.38 C151.10,507.50 151.62,514.42 152.07,518.92 C152.52,523.42 152.86,528.44 153.31,531.38 C153.76,534.33 153.83,535.47 154.77,536.58 C155.70,537.68 158.23,537.79 158.92,538.03" fill="none" stroke="#1e3478" stroke-width="1.15" stroke-opacity="1.0" stroke-linejoin="round"/>
<path d="M138.40,535.74 C139.10,535.05 141.35,534.01 142.56,531.59 C143.77,529.17 144.81,525.01 145.67,521.21 C146.54,517.40 147.13,512.21 147.75,508.75 C148.37,505.28 148.89,501.13 149.41,500.44 C149.93,499.75 150.38,501.48 150.86,504.59 C151.35,507.71 151.87,514.63 152.32,519.13 C152.77,523.63 153.11,528.65 153.56,531.59 C154.01,534.53 154.08,535.71 155.02,536.78 C155.95,537.86 158.48,537.82 159.17,538.03" fill="none" stroke="#c8142e" stroke-width="1.15" stroke-opacity="0.8" stroke-linejoin="round"/>
</g>
<clipPath id="clipE02"><rect x="191.2" y="497.0" width="47.60" height="42.00"/></clipPath>
<g clip-path="url(#clipE02)">
<path d="M191.74,534.50 C192.15,531.56 193.47,521.00 194.23,516.85 C194.99,512.69 195.61,511.48 196.31,509.58 C197.00,507.67 197.76,505.94 198.38,505.42 C199.01,504.90 199.49,504.56 200.04,506.46 C200.60,508.36 201.15,512.69 201.71,516.85 C202.26,521.00 202.74,527.92 203.37,531.38 C203.99,534.84 205.10,536.58 205.44,537.61 L205.44,538.40 L191.74,538.40 Z" fill="#e9e9e9"/>
<path d="M191.74,534.50 C192.15,531.56 193.47,521.00 194.23,516.85 C194.99,512.69 195.61,511.48 196.31,509.58 C197.00,507.67 197.76,505.94 198.38,505.42 C199.01,504.90 199.49,504.56 200.04,506.46 C200.60,508.36 201.15,512.69 201.71,516.85 C202.26,521.00 202.74,527.92 203.37,531.38 C203.99,534.84 205.10,536.58 205.44,537.61" fill="none" stroke="#5a5a5a" stroke-width="0.7"/>
<path d="M191.74,531.38 C192.32,530.00 194.33,526.19 195.27,523.08 C196.20,519.96 196.72,515.98 197.34,512.69 C197.97,509.40 198.49,505.25 199.01,503.35 C199.52,501.44 200.01,501.10 200.46,501.27 C200.91,501.44 201.32,502.13 201.71,504.38 C202.09,506.63 202.26,510.61 202.74,514.77 C203.23,518.92 203.96,525.67 204.61,529.31 C205.27,532.94 205.30,535.12 206.69,536.58 C208.07,538.03 211.88,537.79 212.92,538.03" fill="none" stroke="#1e3478" stroke-width="1.15" stroke-opacity="1.0" stroke-linejoin="round"/>
<path d="M191.99,531.80 C192.57,530.41 194.58,526.61 195.52,523.49 C196.45,520.38 196.94,516.46 197.59,513.11 C198.25,509.75 198.91,505.25 199.46,503.35 C200.02,501.44 200.47,501.44 200.92,501.68 C201.37,501.93 201.78,502.55 202.16,504.80 C202.54,507.05 202.72,511.03 203.20,515.18 C203.69,519.34 204.41,526.12 205.07,529.72 C205.73,533.32 205.80,535.40 207.15,536.78 C208.50,538.17 212.17,537.82 213.17,538.03" fill="none" stroke="#c8142e" stroke-width="1.15" stroke-opacity="0.8" stroke-linejoin="round"/>
</g>
<clipPath id="clipE03"><rect x="244.2" y="497.0" width="47.60" height="42.00"/></clipPath>
<g clip-path="url(#clipE03)">
<path d="M244.09,532.23 C244.49,531.33 245.62,528.64 246.46,526.85 C247.30,525.05 248.35,523.61 249.15,521.46 C249.96,519.31 250.59,516.44 251.31,513.92 C252.03,511.41 252.78,508.36 253.46,506.38 C254.14,504.41 254.86,502.17 255.40,502.08 C255.94,501.99 256.30,503.24 256.69,505.85 C257.09,508.45 257.36,513.92 257.77,517.69 C258.18,521.46 258.68,525.23 259.17,528.46 C259.65,531.69 260.19,535.42 260.68,537.08 C261.16,538.73 261.84,538.18 262.08,538.40 L262.08,538.40 L244.09,538.40 Z" fill="#e9e9e9"/>
<path d="M244.09,532.23 C244.49,531.33 245.62,528.64 246.46,526.85 C247.30,525.05 248.35,523.61 249.15,521.46 C249.96,519.31 250.59,516.44 251.31,513.92 C252.03,511.41 252.78,508.36 253.46,506.38 C254.14,504.41 254.86,502.17 255.40,502.08 C255.94,501.99 256.30,503.24 256.69,505.85 C257.09,508.45 257.36,513.92 257.77,517.69 C258.18,521.46 258.68,525.23 259.17,528.46 C259.65,531.69 260.19,535.42 260.68,537.08 C261.16,538.73 261.84,538.18 262.08,538.40" fill="none" stroke="#5a5a5a" stroke-width="0.7"/>
<path d="M244.09,531.69 C244.49,530.79 245.62,528.10 246.46,526.31 C247.30,524.51 248.35,523.08 249.15,520.92 C249.96,518.77 250.59,515.90 251.31,513.38 C252.03,510.87 252.74,507.91 253.46,505.85 C254.18,503.78 254.99,501.00 255.61,501.00 C256.24,501.00 256.69,503.42 257.23,505.85 C257.77,508.27 258.31,512.49 258.85,515.54 C259.38,518.59 259.92,521.64 260.46,524.15 C261.00,526.67 261.45,528.82 262.08,530.61 C262.70,532.41 263.42,533.76 264.23,534.92 C265.04,536.09 265.94,537.03 266.92,537.61 C267.91,538.19 269.61,538.27 270.15,538.40" fill="none" stroke="#1e3478" stroke-width="1.15" stroke-opacity="1.0" stroke-linejoin="round"/>
<path d="M244.34,531.91 C244.74,531.01 245.87,528.32 246.71,526.52 C247.55,524.73 248.60,523.29 249.40,521.14 C250.21,518.98 250.84,516.11 251.56,513.60 C252.28,511.09 252.98,508.11 253.71,506.06 C254.45,504.02 255.33,501.32 255.97,501.32 C256.62,501.32 257.05,503.66 257.59,506.06 C258.13,508.47 258.66,512.70 259.20,515.75 C259.74,518.80 260.28,521.86 260.82,524.37 C261.36,526.88 261.81,529.03 262.43,530.83 C263.06,532.62 263.78,533.99 264.59,535.14 C265.40,536.29 266.27,537.18 267.28,537.72 C268.29,538.27 270.06,538.29 270.62,538.40" fill="none" stroke="#c8142e" stroke-width="1.15" stroke-opacity="0.8" stroke-linejoin="round"/>
</g>
<clipPath id="clipE10"><rect x="84.7" y="543.0" width="47.90" height="42.30"/></clipPath>
<g clip-path="url(#clipE10)">
<path d="M84.60,583.09 C85.20,582.40 87.02,580.50 88.23,578.94 C89.44,577.38 90.83,575.83 91.87,573.75 C92.90,571.67 93.60,569.42 94.46,566.48 C95.33,563.54 96.36,558.78 97.06,556.10 C97.75,553.41 98.18,551.77 98.61,550.38 C99.05,549.00 99.27,547.44 99.65,547.79 C100.03,548.13 100.52,550.12 100.90,552.46 C101.28,554.80 101.59,558.52 101.94,561.81 C102.28,565.10 102.63,569.08 102.98,572.19 C103.32,575.31 103.62,578.42 104.01,580.50 C104.41,582.58 105.14,583.96 105.36,584.65 L105.36,584.70 L84.60,584.70 Z" fill="#e9e9e9"/>
<path d="M84.60,583.09 C85.20,582.40 87.02,580.50 88.23,578.94 C89.44,577.38 90.83,575.83 91.87,573.75 C92.90,571.67 93.60,569.42 94.46,566.48 C95.33,563.54 96.36,558.78 97.06,556.10 C97.75,553.41 98.18,551.77 98.61,550.38 C99.05,549.00 99.27,547.44 99.65,547.79 C100.03,548.13 100.52,550.12 100.90,552.46 C101.28,554.80 101.59,558.52 101.94,561.81 C102.28,565.10 102.63,569.08 102.98,572.19 C103.32,575.31 103.62,578.42 104.01,580.50 C104.41,582.58 105.14,583.96 105.36,584.65" fill="none" stroke="#5a5a5a" stroke-width="0.7"/>
<path d="M84.60,582.58 C85.20,581.88 87.02,579.98 88.23,578.42 C89.44,576.86 90.83,575.31 91.87,573.23 C92.90,571.15 93.60,568.90 94.46,565.96 C95.33,563.02 96.36,558.26 97.06,555.58 C97.75,552.89 98.15,551.34 98.61,549.87 C99.08,548.39 99.43,546.49 99.86,546.75 C100.29,547.01 100.81,549.09 101.21,551.42 C101.61,553.76 101.90,557.48 102.25,560.77 C102.60,564.06 102.94,568.04 103.29,571.15 C103.63,574.27 103.89,577.30 104.33,579.46 C104.76,581.62 105.10,583.26 105.88,584.13 C106.66,585.01 108.48,584.61 109.00,584.70" fill="none" stroke="#1e3478" stroke-width="1.15" stroke-opacity="1.0" stroke-linejoin="round"/>
<path d="M84.85,582.78 C85.45,582.09 87.27,580.19 88.48,578.63 C89.69,577.07 91.08,575.51 92.12,573.44 C93.15,571.36 93.85,569.11 94.71,566.17 C95.58,563.23 96.61,558.47 97.31,555.78 C98.00,553.10 98.38,551.54 98.86,550.07 C99.35,548.60 99.76,546.70 100.21,546.96 C100.66,547.22 101.17,549.29 101.56,551.63 C101.96,553.97 102.26,557.69 102.60,560.98 C102.95,564.26 103.30,568.25 103.64,571.36 C103.99,574.48 104.25,577.52 104.68,579.67 C105.11,581.81 105.44,583.40 106.24,584.24 C107.03,585.08 108.92,584.62 109.46,584.70" fill="none" stroke="#c8142e" stroke-width="1.15" stroke-opacity="0.8" stroke-linejoin="round"/>
</g>
<clipPath id="clipE11"><rect x="138.0" y="543.0" width="47.60" height="42.30"/></clipPath>
<g clip-path="url(#clipE11)">
<path d="M138.57,580.91 C139.19,580.05 141.17,578.32 142.31,575.72 C143.45,573.13 144.56,569.15 145.42,565.34 C146.29,561.53 146.91,555.89 147.50,552.88 C148.09,549.87 148.47,547.51 148.95,547.27 C149.44,547.03 149.89,548.13 150.41,551.42 C150.93,554.71 151.55,562.60 152.07,567.00 C152.59,571.39 152.93,575.13 153.52,577.80 C154.11,580.46 154.87,581.95 155.60,582.99 C156.33,584.03 157.50,583.86 157.88,584.03 L157.88,584.70 L138.57,584.70 Z" fill="#e9e9e9"/>
<path d="M138.57,580.91 C139.19,580.05 141.17,578.32 142.31,575.72 C143.45,573.13 144.56,569.15 145.42,565.34 C146.29,561.53 146.91,555.89 147.50,552.88 C148.09,549.87 148.47,547.51 148.95,547.27 C149.44,547.03 149.89,548.13 150.41,551.42 C150.93,554.71 151.55,562.60 152.07,567.00 C152.59,571.39 152.93,575.13 153.52,577.80 C154.11,580.46 154.87,581.95 155.60,582.99 C156.33,584.03 157.50,583.86 157.88,584.03" fill="none" stroke="#5a5a5a" stroke-width="0.7"/>
<path d="M138.57,580.50 C139.19,579.63 141.17,577.90 142.31,575.31 C143.45,572.71 144.56,568.73 145.42,564.92 C146.29,561.11 146.88,555.58 147.50,552.46 C148.12,549.35 148.64,546.58 149.16,546.23 C149.68,545.88 150.10,546.92 150.61,550.38 C151.13,553.85 151.76,562.50 152.28,567.00 C152.80,571.50 153.14,574.79 153.73,577.38 C154.32,579.98 154.77,581.47 155.81,582.58 C156.85,583.68 159.27,583.79 159.96,584.03" fill="none" stroke="#1e3478" stroke-width="1.15" stroke-opacity="1.0" stroke-linejoin="round"/>
<path d="M138.82,580.71 C139.44,579.84 141.42,578.11 142.56,575.51 C143.70,572.92 144.81,568.94 145.67,565.13 C146.54,561.32 147.13,555.78 147.75,552.67 C148.37,549.55 148.89,546.78 149.41,546.44 C149.93,546.09 150.35,547.13 150.86,550.59 C151.38,554.05 152.01,562.71 152.53,567.21 C153.05,571.71 153.39,574.99 153.98,577.59 C154.57,580.19 155.02,581.71 156.06,582.78 C157.10,583.86 159.52,583.82 160.21,584.03" fill="none" stroke="#c8142e" stroke-width="1.15" stroke-opacity="0.8" stroke-linejoin="round"/>
</g>
<clipPath id="clipE12"><rect x="191.2" y="543.0" width="47.60" height="42.30"/></clipPath>
<g clip-path="url(#clipE12)">
<path d="M191.74,576.34 C192.15,574.44 193.47,568.90 194.23,564.92 C194.99,560.94 195.61,555.40 196.31,552.46 C197.00,549.52 197.76,548.24 198.38,547.27 C199.01,546.30 199.52,543.70 200.04,546.65 C200.56,549.59 200.91,559.11 201.50,564.92 C202.09,570.74 202.88,578.35 203.57,581.54 C204.27,584.72 205.30,583.61 205.65,584.03 L205.65,584.70 L191.74,584.70 Z" fill="#e9e9e9"/>
<path d="M191.74,576.34 C192.15,574.44 193.47,568.90 194.23,564.92 C194.99,560.94 195.61,555.40 196.31,552.46 C197.00,549.52 197.76,548.24 198.38,547.27 C199.01,546.30 199.52,543.70 200.04,546.65 C200.56,549.59 200.91,559.11 201.50,564.92 C202.09,570.74 202.88,578.35 203.57,581.54 C204.27,584.72 205.30,583.61 205.65,584.03" fill="none" stroke="#5a5a5a" stroke-width="0.7"/>
<path d="M191.74,578.42 C192.15,577.56 193.29,575.83 194.23,573.23 C195.16,570.63 196.48,566.31 197.34,562.85 C198.21,559.38 198.83,555.06 199.42,552.46 C200.01,549.87 200.29,547.27 200.87,547.27 C201.46,547.27 202.40,549.52 202.95,552.46 C203.51,555.40 203.75,560.77 204.20,564.92 C204.65,569.08 205.06,574.44 205.65,577.38 C206.24,580.33 206.52,581.47 207.73,582.58 C208.94,583.68 212.05,583.79 212.92,584.03" fill="none" stroke="#1e3478" stroke-width="1.15" stroke-opacity="1.0" stroke-linejoin="round"/>
<path d="M191.99,578.84 C192.40,577.97 193.54,576.24 194.48,573.64 C195.41,571.05 196.73,566.72 197.59,563.26 C198.46,559.80 199.05,555.47 199.67,552.88 C200.29,550.28 200.71,547.68 201.33,547.68 C201.96,547.68 202.86,549.93 203.41,552.88 C203.96,555.82 204.21,561.18 204.65,565.34 C205.10,569.49 205.52,574.89 206.11,577.80 C206.70,580.71 207.01,581.74 208.19,582.78 C209.36,583.82 212.34,583.82 213.17,584.03" fill="none" stroke="#c8142e" stroke-width="1.15" stroke-opacity="0.8" stroke-linejoin="round"/>
</g>
<clipPath id="clipE13"><rect x="244.2" y="543.0" width="47.60" height="42.30"/></clipPath>
<g clip-path="url(#clipE13)">
<path d="M243.77,578.77 C244.22,577.42 245.56,573.65 246.46,570.69 C247.36,567.73 248.26,563.87 249.15,561.00 C250.05,558.13 251.04,555.38 251.85,553.46 C252.65,551.54 253.46,550.28 254.00,549.48 C254.54,548.67 254.68,548.04 255.08,548.62 C255.47,549.19 255.92,550.77 256.37,552.92 C256.82,555.08 257.27,557.95 257.77,561.54 C258.27,565.13 258.85,570.69 259.38,574.46 C259.92,578.23 260.73,582.54 261.00,584.15 L261.00,584.70 L243.77,584.70 Z" fill="#e9e9e9"/>
<path d="M243.77,578.77 C244.22,577.42 245.56,573.65 246.46,570.69 C247.36,567.73 248.26,563.87 249.15,561.00 C250.05,558.13 251.04,555.38 251.85,553.46 C252.65,551.54 253.46,550.28 254.00,549.48 C254.54,548.67 254.68,548.04 255.08,548.62 C255.47,549.19 255.92,550.77 256.37,552.92 C256.82,555.08 257.27,557.95 257.77,561.54 C258.27,565.13 258.85,570.69 259.38,574.46 C259.92,578.23 260.73,582.54 261.00,584.15" fill="none" stroke="#5a5a5a" stroke-width="0.7"/>
<path d="M243.77,577.69 C244.22,576.26 245.56,572.13 246.46,569.08 C247.36,566.02 248.26,562.26 249.15,559.38 C250.05,556.51 251.04,553.82 251.85,551.85 C252.65,549.87 253.37,548.53 254.00,547.54 C254.63,546.55 255.08,545.38 255.61,545.92 C256.15,546.46 256.69,548.53 257.23,550.77 C257.77,553.01 258.31,556.69 258.85,559.38 C259.38,562.08 259.83,564.59 260.46,566.92 C261.09,569.26 261.72,571.59 262.61,573.38 C263.51,575.18 264.77,576.43 265.85,577.69 C266.92,578.95 267.82,579.93 269.08,580.92 C270.33,581.91 271.95,582.99 273.38,583.61 C274.82,584.24 276.08,584.51 277.69,584.69 C279.31,584.87 282.18,584.70 283.08,584.70" fill="none" stroke="#1e3478" stroke-width="1.15" stroke-opacity="1.0" stroke-linejoin="round"/>
<path d="M244.02,577.15 C244.47,575.72 245.81,571.59 246.71,568.54 C247.61,565.49 248.51,561.72 249.40,558.85 C250.30,555.97 251.29,553.28 252.10,551.31 C252.90,549.33 253.60,547.95 254.25,547.00 C254.90,546.05 255.42,545.01 255.97,545.60 C256.53,546.19 257.05,548.29 257.59,550.55 C258.13,552.81 258.66,556.48 259.20,559.17 C259.74,561.86 260.19,564.37 260.82,566.71 C261.45,569.04 262.07,571.37 262.97,573.17 C263.87,574.96 265.13,576.22 266.20,577.48 C267.28,578.73 268.18,579.72 269.43,580.71 C270.69,581.69 272.31,582.75 273.74,583.40 C275.18,584.04 276.45,584.37 278.05,584.58 C279.65,584.80 282.45,584.68 283.33,584.70" fill="none" stroke="#c8142e" stroke-width="1.15" stroke-opacity="0.8" stroke-linejoin="round"/>
</g>
<clipPath id="clipE20"><rect x="84.7" y="589.4" width="47.90" height="42.60"/></clipPath>
<g clip-path="url(#clipE20)">
<path d="M85.63,630.65 C86.07,629.79 87.28,627.36 88.23,625.46 C89.18,623.56 90.48,621.31 91.35,619.23 C92.21,617.15 92.82,615.08 93.42,613.00 C94.03,610.92 94.55,608.85 94.98,606.77 C95.41,604.69 95.59,601.92 96.02,600.54 C96.45,599.15 97.06,598.46 97.58,598.46 C98.10,598.46 98.61,598.81 99.13,600.54 C99.65,602.27 100.17,605.73 100.69,608.85 C101.21,611.96 101.73,616.11 102.25,619.23 C102.77,622.34 103.37,625.51 103.81,627.54 C104.24,629.57 104.67,630.76 104.85,631.40 L104.85,631.40 L85.63,631.40 Z" fill="#e9e9e9"/>
<path d="M85.63,630.65 C86.07,629.79 87.28,627.36 88.23,625.46 C89.18,623.56 90.48,621.31 91.35,619.23 C92.21,617.15 92.82,615.08 93.42,613.00 C94.03,610.92 94.55,608.85 94.98,606.77 C95.41,604.69 95.59,601.92 96.02,600.54 C96.45,599.15 97.06,598.46 97.58,598.46 C98.10,598.46 98.61,598.81 99.13,600.54 C99.65,602.27 100.17,605.73 100.69,608.85 C101.21,611.96 101.73,616.11 102.25,619.23 C102.77,622.34 103.37,625.51 103.81,627.54 C104.24,629.57 104.67,630.76 104.85,631.40" fill="none" stroke="#5a5a5a" stroke-width="0.7"/>
<path d="M85.63,631.40 C86.41,631.10 88.84,630.60 90.31,629.61 C91.78,628.62 93.25,627.36 94.46,625.46 C95.67,623.56 96.71,620.79 97.58,618.19 C98.44,615.60 99.05,612.31 99.65,609.88 C100.26,607.46 100.69,605.04 101.21,603.65 C101.73,602.27 102.25,602.10 102.77,601.58 C103.29,601.06 103.89,600.54 104.33,600.54 C104.76,600.54 105.02,600.19 105.36,601.58 C105.71,602.96 105.97,606.42 106.40,608.85 C106.84,611.27 107.35,613.69 107.96,616.11 C108.57,618.54 109.35,621.31 110.04,623.38 C110.73,625.46 111.25,627.24 112.11,628.58 C112.98,629.91 114.71,630.93 115.23,631.40" fill="none" stroke="#1e3478" stroke-width="1.15" stroke-opacity="1.0" stroke-linejoin="round"/>
<path d="M85.88,631.40 C86.84,631.10 89.95,630.60 91.60,629.61 C93.24,628.62 94.54,627.54 95.75,625.46 C96.96,623.38 98.00,620.27 98.86,617.15 C99.73,614.04 100.25,609.36 100.94,606.77 C101.63,604.17 102.41,603.31 103.02,601.58 C103.62,599.85 104.14,597.42 104.58,596.38 C105.01,595.35 105.27,593.96 105.61,595.35 C105.96,596.73 106.22,602.27 106.65,604.69 C107.09,607.11 107.69,607.81 108.21,609.88 C108.73,611.96 109.16,615.08 109.77,617.15 C110.37,619.23 111.24,620.96 111.85,622.34 C112.45,623.73 112.80,624.25 113.40,625.46 C114.01,626.67 114.70,628.62 115.48,629.61 C116.26,630.60 117.64,631.10 118.08,631.40" fill="none" stroke="#c8142e" stroke-width="1.15" stroke-opacity="0.8" stroke-linejoin="round"/>
</g>
<clipPath id="clipE21"><rect x="138.0" y="589.4" width="47.60" height="42.60"/></clipPath>
<g clip-path="url(#clipE21)">
<path d="M138.57,630.03 C139.02,629.20 140.30,627.12 141.27,625.04 C142.24,622.97 143.45,620.54 144.38,617.57 C145.32,614.59 146.11,610.30 146.88,607.18 C147.64,604.07 148.40,600.68 148.95,598.88 C149.51,597.08 149.75,595.93 150.20,596.38 C150.65,596.83 151.17,598.63 151.65,601.58 C152.14,604.52 152.59,610.23 153.11,614.04 C153.63,617.84 154.15,621.93 154.77,624.42 C155.39,626.91 156.15,627.95 156.85,628.99 C157.54,630.03 158.58,630.38 158.92,630.65 L158.92,631.40 L138.57,631.40 Z" fill="#e9e9e9"/>
<path d="M138.57,630.03 C139.02,629.20 140.30,627.12 141.27,625.04 C142.24,622.97 143.45,620.54 144.38,617.57 C145.32,614.59 146.11,610.30 146.88,607.18 C147.64,604.07 148.40,600.68 148.95,598.88 C149.51,597.08 149.75,595.93 150.20,596.38 C150.65,596.83 151.17,598.63 151.65,601.58 C152.14,604.52 152.59,610.23 153.11,614.04 C153.63,617.84 154.15,621.93 154.77,624.42 C155.39,626.91 156.15,627.95 156.85,628.99 C157.54,630.03 158.58,630.38 158.92,630.65" fill="none" stroke="#5a5a5a" stroke-width="0.7"/>
<path d="M138.57,629.61 C139.02,628.75 140.30,626.50 141.27,624.42 C142.24,622.34 143.45,620.09 144.38,617.15 C145.32,614.21 146.11,609.88 146.88,606.77 C147.64,603.65 148.40,600.36 148.95,598.46 C149.51,596.56 149.75,595.00 150.20,595.35 C150.65,595.69 151.17,597.60 151.65,600.54 C152.14,603.48 152.59,609.19 153.11,613.00 C153.63,616.81 154.15,620.79 154.77,623.38 C155.39,625.98 155.98,627.36 156.85,628.58 C157.71,629.79 159.44,630.31 159.96,630.65" fill="none" stroke="#1e3478" stroke-width="1.15" stroke-opacity="1.0" stroke-linejoin="round"/>
<path d="M138.82,629.82 C139.27,628.96 140.55,626.71 141.52,624.63 C142.49,622.55 143.70,620.30 144.63,617.36 C145.57,614.42 146.36,610.09 147.13,606.98 C147.89,603.86 148.65,600.71 149.20,598.67 C149.76,596.63 150.00,594.34 150.45,594.72 C150.90,595.10 151.42,597.84 151.90,600.95 C152.39,604.07 152.84,609.61 153.36,613.41 C153.88,617.22 154.40,621.24 155.02,623.80 C155.64,626.36 156.16,627.64 157.10,628.78 C158.03,629.93 160.04,630.34 160.63,630.65" fill="none" stroke="#c8142e" stroke-width="1.15" stroke-opacity="0.8" stroke-linejoin="round"/>
</g>
<clipPath id="clipE22"><rect x="191.2" y="589.4" width="47.60" height="42.60"/></clipPath>
<g clip-path="url(#clipE22)">
<path d="M192.15,629.61 C192.50,628.23 193.54,624.77 194.23,621.31 C194.92,617.84 195.61,612.31 196.31,608.85 C197.00,605.38 197.76,602.44 198.38,600.54 C199.01,598.63 199.52,597.08 200.04,597.42 C200.56,597.77 200.91,599.33 201.50,602.61 C202.09,605.90 202.88,613.00 203.57,617.15 C204.27,621.31 204.96,625.29 205.65,627.54 C206.34,629.79 207.38,630.13 207.73,630.65 L207.73,631.40 L192.15,631.40 Z" fill="#e9e9e9"/>
<path d="M192.15,629.61 C192.50,628.23 193.54,624.77 194.23,621.31 C194.92,617.84 195.61,612.31 196.31,608.85 C197.00,605.38 197.76,602.44 198.38,600.54 C199.01,598.63 199.52,597.08 200.04,597.42 C200.56,597.77 200.91,599.33 201.50,602.61 C202.09,605.90 202.88,613.00 203.57,617.15 C204.27,621.31 204.96,625.29 205.65,627.54 C206.34,629.79 207.38,630.13 207.73,630.65" fill="none" stroke="#5a5a5a" stroke-width="0.7"/>
<path d="M193.19,630.65 C193.88,630.13 196.13,629.09 197.34,627.54 C198.56,625.98 199.59,624.42 200.46,621.31 C201.32,618.19 201.84,612.65 202.54,608.85 C203.23,605.04 204.09,600.71 204.61,598.46 C205.13,596.21 205.13,594.65 205.65,595.35 C206.17,596.04 207.04,599.33 207.73,602.61 C208.42,605.90 209.11,611.27 209.80,615.08 C210.50,618.88 211.02,622.97 211.88,625.46 C212.75,627.95 214.48,629.27 215.00,630.03" fill="none" stroke="#1e3478" stroke-width="1.15" stroke-opacity="1.0" stroke-linejoin="round"/>
<path d="M194.48,630.65 C195.17,630.31 197.42,629.79 198.63,628.58 C199.84,627.36 200.88,625.98 201.75,623.38 C202.61,620.79 203.13,616.81 203.82,613.00 C204.52,609.19 205.38,603.13 205.90,600.54 C206.42,597.94 206.49,597.08 206.94,597.42 C207.39,597.77 208.08,601.40 208.60,602.61 C209.12,603.83 209.57,602.96 210.05,604.69 C210.54,606.42 210.82,609.88 211.51,613.00 C212.20,616.11 213.24,620.54 214.21,623.38 C215.18,626.22 216.80,628.92 217.32,630.03" fill="none" stroke="#c8142e" stroke-width="1.15" stroke-opacity="0.8" stroke-linejoin="round"/>
</g>
<clipPath id="clipE23"><rect x="244.2" y="589.4" width="47.60" height="42.60"/></clipPath>
<g clip-path="url(#clipE23)">
<path d="M244.31,625.84 C244.85,624.59 246.46,621.36 247.54,618.31 C248.62,615.26 249.78,610.77 250.77,607.54 C251.76,604.31 252.65,601.17 253.46,598.92 C254.27,596.68 254.99,593.54 255.61,594.08 C256.24,594.62 256.69,598.65 257.23,602.15 C257.77,605.65 258.31,611.31 258.85,615.08 C259.38,618.85 260.01,622.26 260.46,624.77 C260.91,627.28 261.36,629.26 261.54,630.15 L261.54,631.40 L244.31,631.40 Z" fill="#e9e9e9"/>
<path d="M244.31,625.84 C244.85,624.59 246.46,621.36 247.54,618.31 C248.62,615.26 249.78,610.77 250.77,607.54 C251.76,604.31 252.65,601.17 253.46,598.92 C254.27,596.68 254.99,593.54 255.61,594.08 C256.24,594.62 256.69,598.65 257.23,602.15 C257.77,605.65 258.31,611.31 258.85,615.08 C259.38,618.85 260.01,622.26 260.46,624.77 C260.91,627.28 261.36,629.26 261.54,630.15" fill="none" stroke="#5a5a5a" stroke-width="0.7"/>
<path d="M244.31,630.15 C244.85,629.61 246.46,628.36 247.54,626.92 C248.62,625.49 249.69,623.87 250.77,621.54 C251.85,619.20 253.10,615.26 254.00,612.92 C254.90,610.59 255.53,609.51 256.15,607.54 C256.78,605.56 257.27,602.51 257.77,601.08 C258.27,599.64 258.72,598.56 259.17,598.92 C259.62,599.28 259.98,601.79 260.46,603.23 C260.95,604.67 261.54,606.64 262.08,607.54 C262.61,608.44 263.15,607.90 263.69,608.61 C264.23,609.33 264.77,610.41 265.31,611.85 C265.85,613.28 266.38,616.15 266.92,617.23 C267.46,618.31 268.00,617.95 268.54,618.31 C269.08,618.67 269.61,618.67 270.15,619.38 C270.69,620.10 271.05,621.54 271.77,622.61 C272.49,623.69 273.56,624.77 274.46,625.84 C275.36,626.92 276.35,628.18 277.15,629.08 C277.96,629.97 278.95,630.87 279.31,631.23" fill="none" stroke="#1e3478" stroke-width="1.15" stroke-opacity="1.0" stroke-linejoin="round"/>
<path d="M244.56,630.15 C245.28,629.61 247.61,628.36 248.87,626.92 C250.12,625.49 251.11,623.33 252.10,621.54 C253.08,619.74 254.07,617.41 254.79,616.15 C255.51,614.90 255.78,614.72 256.40,614.00 C257.03,613.28 257.66,612.47 258.56,611.85 C259.45,611.22 260.80,610.95 261.79,610.23 C262.77,609.51 263.67,607.81 264.48,607.54 C265.29,607.27 266.01,608.79 266.63,608.61 C267.26,608.44 267.53,608.35 268.25,606.46 C268.97,604.58 270.22,597.13 270.94,597.31 C271.66,597.49 272.02,603.68 272.56,607.54 C273.10,611.40 273.63,617.41 274.17,620.46 C274.71,623.51 275.25,624.41 275.79,625.84 C276.33,627.28 276.77,628.18 277.40,629.08 C278.03,629.97 279.20,630.87 279.56,631.23" fill="none" stroke="#c8142e" stroke-width="1.15" stroke-opacity="0.8" stroke-linejoin="round"/>
</g>
<rect x="83.7" y="272.4" width="48.00" height="41.00" fill="none" stroke="#333" stroke-width="1.3"/>
<rect x="136.4" y="272.4" width="46.20" height="41.00" fill="none" stroke="#333" stroke-width="1.3"/>
<rect x="187.4" y="272.4" width="46.10" height="41.00" fill="none" stroke="#333" stroke-width="1.3"/>
<rect x="83.7" y="318.2" width="48.00" height="40.80" fill="none" stroke="#333" stroke-width="1.3"/>
<rect x="136.4" y="318.2" width="46.20" height="40.80" fill="none" stroke="#333" stroke-width="1.3"/>
<rect x="187.4" y="318.2" width="46.10" height="40.80" fill="none" stroke="#333" stroke-width="1.3"/>
<rect x="83.7" y="363.4" width="48.00" height="42.60" fill="none" stroke="#333" stroke-width="1.3"/>
<rect x="136.4" y="363.4" width="46.20" height="42.60" fill="none" stroke="#333" stroke-width="1.3"/>
<rect x="187.4" y="363.4" width="46.10" height="42.60" fill="none" stroke="#333" stroke-width="1.3"/>
<rect x="84.7" y="497.0" width="47.90" height="42.00" fill="none" stroke="#333" stroke-width="1.3"/>
<rect x="138.0" y="497.0" width="47.60" height="42.00" fill="none" stroke="#333" stroke-width="1.3"/>
<rect x="191.2" y="497.0" width="47.60" height="42.00" fill="none" stroke="#333" stroke-width="1.3"/>
<rect x="244.2" y="497.0" width="47.60" height="42.00" fill="none" stroke="#333" stroke-width="1.3"/>
<rect x="84.7" y="543.0" width="47.90" height="42.30" fill="none" stroke="#333" stroke-width="1.3"/>
<rect x="138.0" y="543.0" width="47.60" height="42.30" fill="none" stroke="#333" stroke-width="1.3"/>
<rect x="191.2" y="543.0" width="47.60" height="42.30" fill="none" stroke="#333" stroke-width="1.3"/>
<rect x="244.2" y="543.0" width="47.60" height="42.30" fill="none" stroke="#333" stroke-width="1.3"/>
<rect x="84.7" y="589.4" width="47.90" height="42.60" fill="none" stroke="#333" stroke-width="1.3"/>
<rect x="138.0" y="589.4" width="47.60" height="42.60" fill="none" stroke="#333" stroke-width="1.3"/>
<rect x="191.2" y="589.4" width="47.60" height="42.60" fill="none" stroke="#333" stroke-width="1.3"/>
<rect x="244.2" y="589.4" width="47.60" height="42.60" fill="none" stroke="#333" stroke-width="1.3"/>
</svg></body></html>
